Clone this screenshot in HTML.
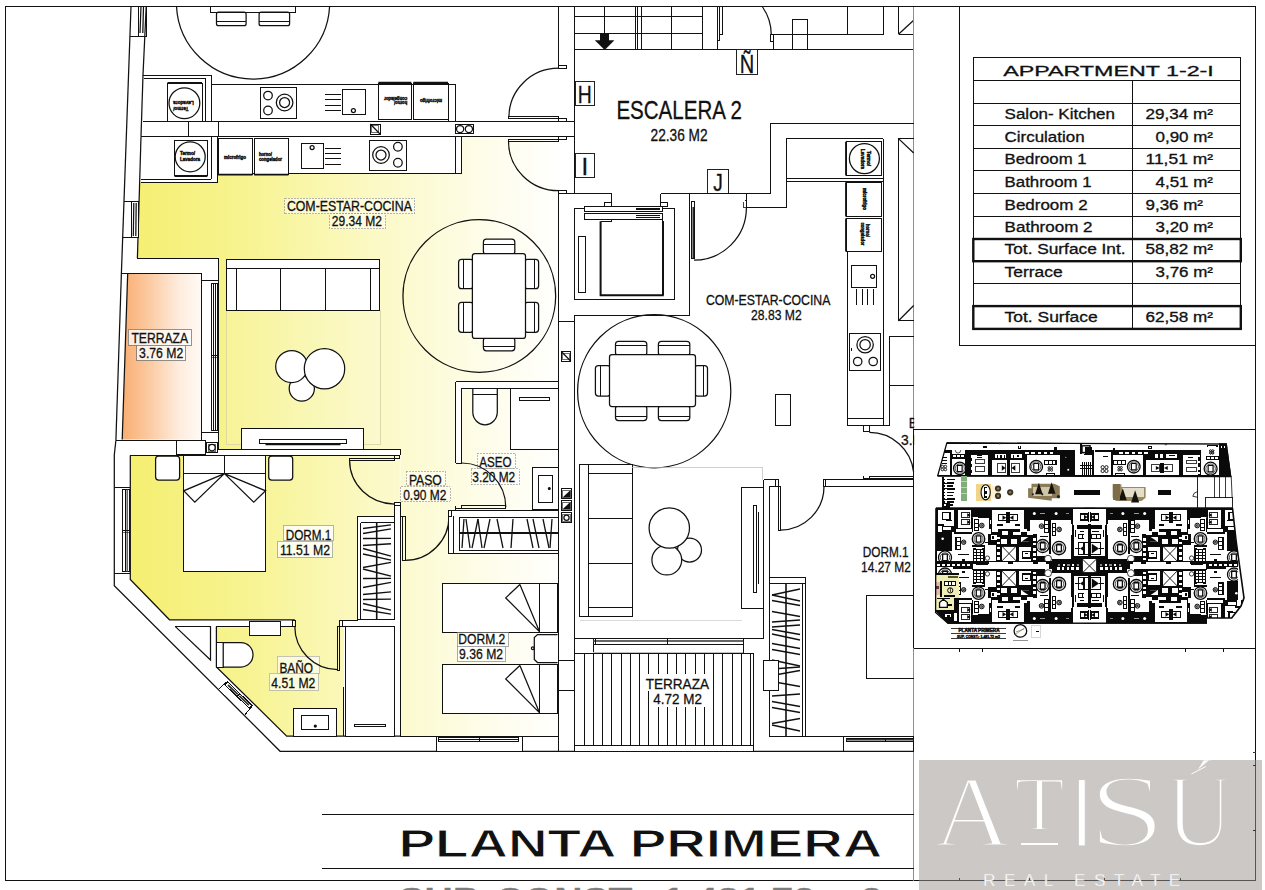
<!DOCTYPE html>
<html lang="es"><head><meta charset="utf-8"><title>Planta Primera - Appartment 1-2-I</title>
<style>
html,body{margin:0;padding:0;background:#fff;}
body{width:1265px;height:890px;overflow:hidden;font-family:"Liberation Sans",sans-serif;}
svg{display:block;}
text{white-space:pre;}
</style></head><body>
<svg width="1265" height="890" viewBox="0 0 1265 890">
<rect width="1265" height="890" fill="#fff"/>
<defs>
<linearGradient id="gy" gradientUnits="userSpaceOnUse" x1="132" y1="0" x2="565" y2="0">
<stop offset="0" stop-color="#f5ef72"/><stop offset="0.25" stop-color="#f7f38f"/><stop offset="0.55" stop-color="#fbf9c4"/><stop offset="0.85" stop-color="#fefdee"/><stop offset="1" stop-color="#ffffff"/>
</linearGradient>
<linearGradient id="go" gradientUnits="userSpaceOnUse" x1="122" y1="0" x2="202" y2="0">
<stop offset="0" stop-color="#f9ad70"/><stop offset="0.35" stop-color="#fbcba3"/><stop offset="0.7" stop-color="#feebdc"/><stop offset="1" stop-color="#fffaf6"/>
</linearGradient>
</defs>
<path d="M140 182 L217 182 L217 173.3 L461.9 173.3 L461.9 136.6 L558.5 136.6 L558.5 381.9 L455.6 381.9 L455.6 510.3 L448 510.3 L448 516.1 L400.4 516.1 L400.4 449.1 L218 449.1 L218 258 L137.4 258 Z" fill="url(#gy)" stroke="none" stroke-width="0" />
<path d="M130.3 455.4 L394.9 455.4 L394.9 516.1 L357.7 516.1 L357.7 619.8 L339 619.8 L339 626.6 L294.8 626.6 L294.8 619.8 L169.5 619.8 L130.3 579.4 Z" fill="url(#gy)" stroke="none" stroke-width="0" />
<path d="M216.4 626.6 L344 626.6 L344 736.1 L286.7 736.1 L216.4 667 Z" fill="url(#gy)" stroke="none" stroke-width="0" />
<path d="M400.4 516.1 L448 516.1 L448 553.3 L558.5 553.3 L558.5 736.3 L400.4 736.3 Z" fill="url(#gy)" stroke="none" stroke-width="0" />
<rect x="394.9" y="455.4" width="5.5" height="47.3" fill="url(#gy)" stroke="none" stroke-width="0"  shape-rendering="crispEdges"/>
<rect x="294" y="618.8" width="45.8" height="9.2" fill="url(#gy)" stroke="none" stroke-width="0"  shape-rendering="crispEdges"/>
<path d="M461.9 388.2 L510.5 388.2 L510.5 449.1 L558.5 449.1 L558.5 510.3 L455.6 510.3 L455.6 463 L461.9 463 Z" fill="url(#gy)" stroke="none" stroke-width="0" />
<path d="M127.7 273.1 L201.6 273.1 L201.6 439.6 L122.2 439.6 Z" fill="url(#go)" stroke="none" stroke-width="0" />
<path d="M5.5 880.7 L5.5 6.5 L1255.6 6.5 L1255.6 880.7 L5.5 880.7" fill="none" stroke="#111" stroke-width="1"  shape-rendering="crispEdges"/>
<line x1="131" y1="6.5" x2="121.4" y2="273.1" stroke="#111" stroke-width="1.25" />
<line x1="146.2" y1="6.5" x2="143" y2="75" stroke="#111" stroke-width="1.25" />
<line x1="143" y1="75" x2="141" y2="136.6" stroke="#111" stroke-width="1.25" />
<line x1="141" y1="136.6" x2="137.4" y2="258" stroke="#111" stroke-width="1.25" />
<rect x="138.6" y="6.5" width="7.6" height="30.2" fill="none" stroke="#111" stroke-width="1"  shape-rendering="crispEdges"/>
<line x1="141" y1="6.5" x2="140" y2="33" stroke="#111" stroke-width="1.25" />
<line x1="143.5" y1="6.5" x2="142.8" y2="33" stroke="#111" stroke-width="1.25" />
<line x1="130" y1="36.7" x2="146" y2="36.7" stroke="#111" stroke-width="1"  shape-rendering="crispEdges"/>
<path d="M176.5 6.5 A76.66 76.66 0 0 0 329.6 6.5" fill="none" stroke="#111" stroke-width="1.25" />
<rect x="210.4" y="6.5" width="85.3" height="5.7" fill="none" stroke="#111" stroke-width="1"  shape-rendering="crispEdges"/>
<rect x="216.5" y="12.2" width="29.6" height="13.5" fill="none" stroke="#111" stroke-width="1.25" rx="2" />
<rect x="259.1" y="12.2" width="30.5" height="13.5" fill="none" stroke="#111" stroke-width="1.25" rx="2" />
<line x1="216.5" y1="21.7" x2="246.1" y2="21.7" stroke="#111" stroke-width="1"  shape-rendering="crispEdges"/>
<line x1="259.1" y1="21.7" x2="289.6" y2="21.7" stroke="#111" stroke-width="1"  shape-rendering="crispEdges"/>
<path d="M143 75 L211.3 75 L211.3 84.7 L455.6 84.7 L455.6 121" fill="none" stroke="#111" stroke-width="1"  shape-rendering="crispEdges"/>
<line x1="143" y1="121" x2="574.5" y2="121" stroke="#111" stroke-width="1"  shape-rendering="crispEdges"/>
<line x1="144" y1="78.5" x2="205.5" y2="78.5" stroke="#111" stroke-width="1"  shape-rendering="crispEdges"/>
<line x1="205.5" y1="78.5" x2="205.5" y2="121" stroke="#111" stroke-width="1"  shape-rendering="crispEdges"/>
<line x1="211.3" y1="84.7" x2="211.3" y2="121" stroke="#111" stroke-width="1"  shape-rendering="crispEdges"/>
<line x1="448.7" y1="84.7" x2="448.7" y2="121" stroke="#111" stroke-width="1"  shape-rendering="crispEdges"/>
<rect x="167.5" y="83.5" width="34.5" height="37.5" fill="none" stroke="#111" stroke-width="1"  shape-rendering="crispEdges"/>
<line x1="167.5" y1="83" x2="202" y2="83" stroke="#111" stroke-width="2" />
<circle cx="184.4" cy="103.2" r="15.4" fill="none" stroke="#111" stroke-width="1.25"/>
<g transform="translate(183.5 102.8) rotate(180)">
<text x="-10.3" y="2" font-size="5.4" font-family="&quot;Liberation Sans&quot;, sans-serif" font-weight="bold" text-anchor="start" fill="#111" textLength="20.6" lengthAdjust="spacingAndGlyphs"  stroke="#111" stroke-width="0.45">Lavadora</text>
</g>
<g transform="translate(180.85 109.05) rotate(180)">
<text x="-7.65" y="2" font-size="5.4" font-family="&quot;Liberation Sans&quot;, sans-serif" font-weight="bold" text-anchor="start" fill="#111" textLength="15.3" lengthAdjust="spacingAndGlyphs"  stroke="#111" stroke-width="0.45">Termo/</text>
</g>
<rect x="260" y="87.3" width="36.5" height="30.7" fill="none" stroke="#111" stroke-width="1"  shape-rendering="crispEdges"/>
<circle cx="268" cy="95.6" r="4.3" fill="none" stroke="#111" stroke-width="1.25"/>
<circle cx="268" cy="110.5" r="4.3" fill="none" stroke="#111" stroke-width="1.25"/>
<circle cx="284.6" cy="102.5" r="8.3" fill="none" stroke="#111" stroke-width="1.25"/>
<circle cx="284.6" cy="102.5" r="5" fill="none" stroke="#111" stroke-width="1.25"/>
<rect x="342.5" y="89" width="23.3" height="25.3" fill="none" stroke="#111" stroke-width="1"  shape-rendering="crispEdges"/>
<circle cx="353.4" cy="110.5" r="2" fill="none" stroke="#111" stroke-width="1.25"/>
<line x1="325.3" y1="94.4" x2="340.5" y2="94.4" stroke="#111" stroke-width="1"  shape-rendering="crispEdges"/>
<line x1="325.3" y1="99.9" x2="340.5" y2="99.9" stroke="#111" stroke-width="1"  shape-rendering="crispEdges"/>
<line x1="325.3" y1="105" x2="340.5" y2="105" stroke="#111" stroke-width="1"  shape-rendering="crispEdges"/>
<line x1="325.3" y1="110.5" x2="340.5" y2="110.5" stroke="#111" stroke-width="1"  shape-rendering="crispEdges"/>
<rect x="378.4" y="83.5" width="32.9" height="35.5" fill="none" stroke="#111" stroke-width="1"  shape-rendering="crispEdges"/>
<line x1="378.4" y1="82.5" x2="411.3" y2="82.5" stroke="#111" stroke-width="1.6" />
<rect x="413.3" y="83.5" width="34.7" height="35.5" fill="none" stroke="#111" stroke-width="1"  shape-rendering="crispEdges"/>
<line x1="413.3" y1="82.5" x2="448" y2="82.5" stroke="#111" stroke-width="1.6" />
<g transform="translate(394.85 101.25) rotate(180)">
<text x="-12.3" y="-0.2" font-size="4.8" font-family="&quot;Liberation Sans&quot;, sans-serif" font-weight="bold" text-anchor="start" fill="#111" textLength="13" lengthAdjust="spacingAndGlyphs"  stroke="#111" stroke-width="0.45">horno/</text>
<text x="-12.3" y="4.3" font-size="4.8" font-family="&quot;Liberation Sans&quot;, sans-serif" font-weight="bold" text-anchor="start" fill="#111" textLength="23" lengthAdjust="spacingAndGlyphs"  stroke="#111" stroke-width="0.45">congelador</text>
</g>
<g transform="translate(430.65 101.25) rotate(180)">
<text x="-11.25" y="2.3" font-size="4.8" font-family="&quot;Liberation Sans&quot;, sans-serif" font-weight="bold" text-anchor="start" fill="#111" textLength="22" lengthAdjust="spacingAndGlyphs"  stroke="#111" stroke-width="0.45">microfrigo</text>
</g>
<line x1="141" y1="136.6" x2="574.5" y2="136.6" stroke="#111" stroke-width="1"  shape-rendering="crispEdges"/>
<line x1="188.5" y1="121" x2="188.5" y2="136.6" stroke="#111" stroke-width="1"  shape-rendering="crispEdges"/>
<line x1="218" y1="121" x2="218" y2="136.6" stroke="#111" stroke-width="1"  shape-rendering="crispEdges"/>
<rect x="370.3" y="124" width="9.7" height="10" fill="none" stroke="#111" stroke-width="1"  shape-rendering="crispEdges"/>
<line x1="370.3" y1="124" x2="380" y2="134" stroke="#111" stroke-width="1.25" />
<rect x="371.8" y="125.5" width="6.7" height="7" fill="none" stroke="#111" stroke-width="0.6"  shape-rendering="crispEdges"/>
<rect x="455.6" y="124.5" width="17.9" height="9.1" fill="none" stroke="#111" stroke-width="1"  shape-rendering="crispEdges"/>
<circle cx="460.1" cy="129.1" r="3.6" fill="none" stroke="#111" stroke-width="1.25"/>
<circle cx="468.9" cy="129.1" r="3.6" fill="none" stroke="#111" stroke-width="1.25"/>
<path d="M141 182 L217 182 L217 136.6" fill="none" stroke="#111" stroke-width="1"  shape-rendering="crispEdges"/>
<line x1="141" y1="179" x2="211.3" y2="179" stroke="#111" stroke-width="1"  shape-rendering="crispEdges"/>
<line x1="211.3" y1="136.6" x2="211.3" y2="179" stroke="#111" stroke-width="1"  shape-rendering="crispEdges"/>
<line x1="217" y1="173.3" x2="461.9" y2="173.3" stroke="#111" stroke-width="1"  shape-rendering="crispEdges"/>
<line x1="455.6" y1="136.6" x2="455.6" y2="173.3" stroke="#111" stroke-width="1"  shape-rendering="crispEdges"/>
<line x1="461.9" y1="136.6" x2="461.9" y2="173.3" stroke="#111" stroke-width="1"  shape-rendering="crispEdges"/>
<rect x="174.5" y="140.4" width="32.9" height="35.4" fill="#fff" stroke="#111" stroke-width="1"  shape-rendering="crispEdges"/>
<line x1="174.5" y1="176.3" x2="207.4" y2="176.3" stroke="#111" stroke-width="1.6" />
<circle cx="190.2" cy="156.8" r="15" fill="none" stroke="#111" stroke-width="1.25"/>
<text x="180" y="155" font-size="5" font-family="&quot;Liberation Sans&quot;, sans-serif" font-weight="bold" text-anchor="start" fill="#111" textLength="15" lengthAdjust="spacingAndGlyphs"  stroke="#111" stroke-width="0.45">Termo/</text>
<text x="180" y="160.5" font-size="5" font-family="&quot;Liberation Sans&quot;, sans-serif" font-weight="bold" text-anchor="start" fill="#111" textLength="20" lengthAdjust="spacingAndGlyphs"  stroke="#111" stroke-width="0.45">Lavadora</text>
<rect x="218" y="138.4" width="34.5" height="35.6" fill="#fff" stroke="#111" stroke-width="1"  shape-rendering="crispEdges"/>
<line x1="218" y1="174.6" x2="252.5" y2="174.6" stroke="#111" stroke-width="1.8" />
<rect x="254.2" y="138.4" width="34.2" height="35.6" fill="#fff" stroke="#111" stroke-width="1"  shape-rendering="crispEdges"/>
<line x1="254.2" y1="174.6" x2="288.4" y2="174.6" stroke="#111" stroke-width="1.8" />
<text x="224" y="158.5" font-size="4.8" font-family="&quot;Liberation Sans&quot;, sans-serif" font-weight="bold" text-anchor="start" fill="#111" textLength="22" lengthAdjust="spacingAndGlyphs"  stroke="#111" stroke-width="0.45">microfrigo</text>
<text x="259" y="156" font-size="4.8" font-family="&quot;Liberation Sans&quot;, sans-serif" font-weight="bold" text-anchor="start" fill="#111" textLength="13" lengthAdjust="spacingAndGlyphs"  stroke="#111" stroke-width="0.45">horno/</text>
<text x="259" y="160.5" font-size="4.8" font-family="&quot;Liberation Sans&quot;, sans-serif" font-weight="bold" text-anchor="start" fill="#111" textLength="23" lengthAdjust="spacingAndGlyphs"  stroke="#111" stroke-width="0.45">congelador</text>
<rect x="301.3" y="143.4" width="22.2" height="25.3" fill="none" stroke="#111" stroke-width="1"  shape-rendering="crispEdges"/>
<circle cx="312.1" cy="147.5" r="2" fill="none" stroke="#111" stroke-width="1.25"/>
<line x1="325.3" y1="148" x2="340.5" y2="148" stroke="#111" stroke-width="1"  shape-rendering="crispEdges"/>
<line x1="325.3" y1="153.6" x2="340.5" y2="153.6" stroke="#111" stroke-width="1"  shape-rendering="crispEdges"/>
<line x1="325.3" y1="158.9" x2="340.5" y2="158.9" stroke="#111" stroke-width="1"  shape-rendering="crispEdges"/>
<line x1="325.3" y1="164.4" x2="340.5" y2="164.4" stroke="#111" stroke-width="1"  shape-rendering="crispEdges"/>
<rect x="369.6" y="140.4" width="36.9" height="29.9" fill="none" stroke="#111" stroke-width="1"  shape-rendering="crispEdges"/>
<circle cx="381" cy="155" r="8.3" fill="none" stroke="#111" stroke-width="1.25"/>
<circle cx="381" cy="155" r="5" fill="none" stroke="#111" stroke-width="1.25"/>
<circle cx="397.9" cy="146.7" r="4.3" fill="none" stroke="#111" stroke-width="1.25"/>
<circle cx="397.9" cy="162.7" r="4.3" fill="none" stroke="#111" stroke-width="1.25"/>
<line x1="558.5" y1="6.5" x2="558.5" y2="68.2" stroke="#111" stroke-width="1"  shape-rendering="crispEdges"/>
<line x1="574.5" y1="6.5" x2="574.5" y2="193.5" stroke="#111" stroke-width="1"  shape-rendering="crispEdges"/>
<rect x="558.5" y="65.5" width="8.2" height="2.7" fill="none" stroke="#111" stroke-width="1"  shape-rendering="crispEdges"/>
<path d="M558.5 68.2 A49.6 49.2 0 0 0 508.9 117" fill="none" stroke="#111" stroke-width="1.25" />
<rect x="508.5" y="116.5" width="50" height="2.2" fill="none" stroke="#111" stroke-width="1"  shape-rendering="crispEdges"/>
<rect x="558.5" y="118.7" width="8.2" height="2.3" fill="none" stroke="#111" stroke-width="1"  shape-rendering="crispEdges"/>
<path d="M508.5 141.3 A50 49.4 0 0 0 558.5 190.7" fill="none" stroke="#111" stroke-width="1.25" />
<rect x="508.5" y="139" width="50" height="2.3" fill="none" stroke="#111" stroke-width="1"  shape-rendering="crispEdges"/>
<rect x="558.5" y="136.6" width="8.2" height="2.4" fill="none" stroke="#111" stroke-width="1"  shape-rendering="crispEdges"/>
<rect x="558.5" y="190.7" width="8.2" height="2.8" fill="none" stroke="#111" stroke-width="1"  shape-rendering="crispEdges"/>
<line x1="558.5" y1="190.7" x2="558.5" y2="193.5" stroke="#111" stroke-width="1"  shape-rendering="crispEdges"/>
<line x1="558.5" y1="193.5" x2="611" y2="193.5" stroke="#111" stroke-width="1"  shape-rendering="crispEdges"/>
<line x1="558.5" y1="193.5" x2="558.5" y2="381.9" stroke="#111" stroke-width="1"  shape-rendering="crispEdges"/>
<line x1="604.3" y1="6.5" x2="604.3" y2="49.3" stroke="#111" stroke-width="1"  shape-rendering="crispEdges"/>
<line x1="635.7" y1="6.5" x2="635.7" y2="49.3" stroke="#111" stroke-width="1"  shape-rendering="crispEdges"/>
<line x1="637.7" y1="6.5" x2="637.7" y2="49.3" stroke="#111" stroke-width="1"  shape-rendering="crispEdges"/>
<line x1="641.2" y1="6.5" x2="641.2" y2="49.3" stroke="#111" stroke-width="1"  shape-rendering="crispEdges"/>
<line x1="671.3" y1="6.5" x2="671.3" y2="49.3" stroke="#111" stroke-width="1"  shape-rendering="crispEdges"/>
<line x1="702.6" y1="6.5" x2="702.6" y2="49.3" stroke="#111" stroke-width="1"  shape-rendering="crispEdges"/>
<line x1="574.5" y1="16.5" x2="702.6" y2="16.5" stroke="#111" stroke-width="1"  shape-rendering="crispEdges"/>
<line x1="574.5" y1="33" x2="702.6" y2="33" stroke="#111" stroke-width="1"  shape-rendering="crispEdges"/>
<line x1="574.5" y1="49.3" x2="913.7" y2="49.3" stroke="#111" stroke-width="1"  shape-rendering="crispEdges"/>
<path d="M594.8 40.3 L614.4 40.3 L604.7 50.1 Z" fill="#111" stroke="none" stroke-width="0" />
<rect x="600.3" y="33.9" width="8.7" height="7.1" fill="#111" stroke="none" stroke-width="0"  shape-rendering="crispEdges"/>
<line x1="717.4" y1="6.5" x2="717.4" y2="49.3" stroke="#111" stroke-width="1"  shape-rendering="crispEdges"/>
<line x1="719.7" y1="6.5" x2="719.7" y2="40.9" stroke="#111" stroke-width="1"  shape-rendering="crispEdges"/>
<line x1="722.6" y1="6.5" x2="722.6" y2="34.8" stroke="#111" stroke-width="1"  shape-rendering="crispEdges"/>
<path d="M722.6 34.8 L719.7 34.8" fill="none" stroke="#111" stroke-width="1"  shape-rendering="crispEdges"/>
<path d="M719.7 40.9 L717.4 40.9" fill="none" stroke="#111" stroke-width="1"  shape-rendering="crispEdges"/>
<path d="M762.2 6.5 A48.7 48.7 0 0 1 771.3 34.8" fill="none" stroke="#111" stroke-width="1.25" />
<path d="M770.4 34.8 L770.4 41.2 L773 41.2 L773 34.8" fill="none" stroke="#111" stroke-width="1"  shape-rendering="crispEdges"/>
<line x1="770.4" y1="34.8" x2="883.5" y2="34.8" stroke="#111" stroke-width="1"  shape-rendering="crispEdges"/>
<line x1="773" y1="41.2" x2="773" y2="49.3" stroke="#111" stroke-width="1"  shape-rendering="crispEdges"/>
<rect x="792.8" y="19.5" width="14.6" height="29.8" fill="none" stroke="#111" stroke-width="1"  shape-rendering="crispEdges"/>
<rect x="847.4" y="6.5" width="36.4" height="28" fill="none" stroke="#111" stroke-width="1"  shape-rendering="crispEdges"/>
<line x1="898.5" y1="6.5" x2="898.5" y2="34.2" stroke="#111" stroke-width="1"  shape-rendering="crispEdges"/>
<line x1="898.5" y1="34.2" x2="913.7" y2="34.2" stroke="#111" stroke-width="1"  shape-rendering="crispEdges"/>
<line x1="898.5" y1="34.2" x2="913.7" y2="20.2" stroke="#111" stroke-width="1.25" />
<line x1="913.6" y1="6.5" x2="913.6" y2="880.7" stroke="#a878b8" stroke-width="1"  shape-rendering="crispEdges"/>
<rect x="575" y="81.7" width="19.7" height="23.3" fill="none" stroke="#222" stroke-width="1"  shape-rendering="crispEdges"/>
<text x="584.8" y="102.5" font-size="24" font-family="&quot;Liberation Sans&quot;, sans-serif" font-weight="normal" text-anchor="middle" fill="#111" textLength="14" lengthAdjust="spacingAndGlyphs"  stroke="#111" stroke-width="0.3">H</text>
<rect x="575" y="153" width="19.7" height="24" fill="none" stroke="#222" stroke-width="1"  shape-rendering="crispEdges"/>
<text x="584.8" y="174.5" font-size="24" font-family="&quot;Liberation Sans&quot;, sans-serif" font-weight="normal" text-anchor="middle" fill="#111"  stroke="#111" stroke-width="0.3">I</text>
<rect x="736.5" y="49.8" width="20.9" height="24.6" fill="none" stroke="#222" stroke-width="1"  shape-rendering="crispEdges"/>
<text x="747" y="72.8" font-size="25" font-family="&quot;Liberation Sans&quot;, sans-serif" font-weight="normal" text-anchor="middle" fill="#111" textLength="14.5" lengthAdjust="spacingAndGlyphs"  stroke="#111" stroke-width="0.3">Ñ</text>
<rect x="707.5" y="169.5" width="21" height="24" fill="none" stroke="#222" stroke-width="1"  shape-rendering="crispEdges"/>
<text x="718" y="190.5" font-size="24" font-family="&quot;Liberation Sans&quot;, sans-serif" font-weight="normal" text-anchor="middle" fill="#111" textLength="9.5" lengthAdjust="spacingAndGlyphs"  stroke="#111" stroke-width="0.3">J</text>
<text x="616.4" y="119.4" font-size="25.7" font-family="&quot;Liberation Sans&quot;, sans-serif" font-weight="normal" text-anchor="start" fill="#111" textLength="125.5" lengthAdjust="spacingAndGlyphs"  stroke="#111" stroke-width="0.3">ESCALERA 2</text>
<text x="650.6" y="141" font-size="16" font-family="&quot;Liberation Sans&quot;, sans-serif" font-weight="normal" text-anchor="start" fill="#111" textLength="57" lengthAdjust="spacingAndGlyphs"  stroke="#111" stroke-width="0.3">22.36 M2</text>
<path d="M913.7 123.4 L770.8 123.4 L770.8 193.5 L660.7 193.5" fill="none" stroke="#111" stroke-width="1"  shape-rendering="crispEdges"/>
<path d="M883.3 138.6 L786.7 138.6 L786.7 207.8 L746.4 207.8" fill="none" stroke="#111" stroke-width="1"  shape-rendering="crispEdges"/>
<path d="M574.5 193.5 L611.6 193.5 L611.6 206" fill="none" stroke="#111" stroke-width="1"  shape-rendering="crispEdges"/>
<path d="M660.7 193.5 L660.7 203" fill="none" stroke="#111" stroke-width="1"  shape-rendering="crispEdges"/>
<rect x="660.7" y="202.8" width="6.6" height="3.9" fill="none" stroke="#111" stroke-width="1"  shape-rendering="crispEdges"/>
<rect x="604.4" y="202.5" width="6.7" height="3.5" fill="none" stroke="#111" stroke-width="1"  shape-rendering="crispEdges"/>
<line x1="689.8" y1="193.5" x2="689.8" y2="315.3" stroke="#111" stroke-width="1"  shape-rendering="crispEdges"/>
<line x1="574.5" y1="315.3" x2="689.8" y2="315.3" stroke="#111" stroke-width="1"  shape-rendering="crispEdges"/>
<line x1="574.5" y1="315.3" x2="574.5" y2="751.5" stroke="#111" stroke-width="1"  shape-rendering="crispEdges"/>
<rect x="574.5" y="208.3" width="100" height="91.3" fill="none" stroke="#111" stroke-width="1"  shape-rendering="crispEdges"/>
<rect x="584.4" y="206.4" width="77.9" height="5.1" fill="#fff" stroke="#111" stroke-width="1"  shape-rendering="crispEdges"/>
<rect x="584.4" y="213.3" width="77.9" height="6" fill="#fff" stroke="#111" stroke-width="1"  shape-rendering="crispEdges"/>
<line x1="636" y1="208.2" x2="660" y2="208.2" stroke="#111" stroke-width="1"  shape-rendering="crispEdges"/>
<line x1="636" y1="209.8" x2="660" y2="209.8" stroke="#111" stroke-width="1"  shape-rendering="crispEdges"/>
<line x1="636" y1="215" x2="660" y2="215" stroke="#111" stroke-width="1"  shape-rendering="crispEdges"/>
<line x1="636" y1="217.2" x2="660" y2="217.2" stroke="#111" stroke-width="1"  shape-rendering="crispEdges"/>
<path d="M600.6 221.2 L600.6 295.3 L663.8 295.3" fill="none" stroke="#111" stroke-width="2" />
<path d="M600.6 221.2 L611 221.2 L611 219.3" fill="none" stroke="#111" stroke-width="1"  shape-rendering="crispEdges"/>
<path d="M662.2 219.3 L662.2 221.2 L663.8 221.2 L663.8 295.3" fill="none" stroke="#111" stroke-width="1"  shape-rendering="crispEdges"/>
<line x1="662" y1="221.2" x2="662" y2="295.3" stroke="#111" stroke-width="1"  shape-rendering="crispEdges"/>
<rect x="578.6" y="236.3" width="7" height="56.2" fill="none" stroke="#111" stroke-width="1"  shape-rendering="crispEdges"/>
<path d="M689.8 193.5 L689.8 201.5" fill="none" stroke="#111" stroke-width="1"  shape-rendering="crispEdges"/>
<rect x="691" y="201.5" width="3" height="56.9" fill="none" stroke="#111" stroke-width="1"  shape-rendering="crispEdges"/>
<line x1="693.2" y1="207" x2="693.2" y2="258.4" stroke="#111" stroke-width="1.4" />
<path d="M694 260.2 A52.4 52.4 0 0 0 746.4 207.8" fill="none" stroke="#111" stroke-width="1.25" />
<path d="M746.4 193.5 L746.4 207.8" fill="none" stroke="#111" stroke-width="1"  shape-rendering="crispEdges"/>
<path d="M744.5 200.5 L746.4 200.5" fill="none" stroke="#111" stroke-width="1"  shape-rendering="crispEdges"/>
<path d="M743.6 201.5 L743.6 207.8 L746.4 207.8" fill="none" stroke="#111" stroke-width="0.8"  shape-rendering="crispEdges"/>
<rect x="561.3" y="351.5" width="9.5" height="9.8" fill="none" stroke="#111" stroke-width="1"  shape-rendering="crispEdges"/>
<line x1="561.3" y1="351.5" x2="570.8" y2="361.3" stroke="#111" stroke-width="1.25" />
<rect x="562.8" y="353" width="6.5" height="6.8" fill="none" stroke="#111" stroke-width="0.6"  shape-rendering="crispEdges"/>
<line x1="558.5" y1="321.2" x2="574.5" y2="321.2" stroke="#111" stroke-width="1"  shape-rendering="crispEdges"/>
<line x1="883.3" y1="138.6" x2="883.3" y2="425.8" stroke="#111" stroke-width="1"  shape-rendering="crispEdges"/>
<line x1="786.7" y1="178.6" x2="883.3" y2="178.6" stroke="#111" stroke-width="1"  shape-rendering="crispEdges"/>
<line x1="786.7" y1="181.3" x2="883.3" y2="181.3" stroke="#111" stroke-width="1"  shape-rendering="crispEdges"/>
<rect x="846.7" y="141.8" width="34.8" height="33.8" fill="none" stroke="#111" stroke-width="1"  shape-rendering="crispEdges"/>
<line x1="846" y1="141.8" x2="846" y2="175.6" stroke="#111" stroke-width="1.8" />
<circle cx="864.4" cy="158.6" r="15" fill="none" stroke="#111" stroke-width="1.25"/>
<text x="0" y="0" font-size="5" font-family="&quot;Liberation Sans&quot;, sans-serif" font-weight="bold" text-anchor="start" fill="#111" textLength="15" lengthAdjust="spacingAndGlyphs" transform="translate(866.5 151) rotate(90)" stroke="#111" stroke-width="0.45">Termo/</text>
<text x="0" y="0" font-size="5" font-family="&quot;Liberation Sans&quot;, sans-serif" font-weight="bold" text-anchor="start" fill="#111" textLength="20" lengthAdjust="spacingAndGlyphs" transform="translate(861 149) rotate(90)" stroke="#111" stroke-width="0.45">Lavadora</text>
<rect x="846.7" y="182.3" width="34.8" height="34.1" fill="none" stroke="#111" stroke-width="1"  shape-rendering="crispEdges"/>
<line x1="846" y1="182.3" x2="846" y2="216.4" stroke="#111" stroke-width="1.8" />
<rect x="846.7" y="218.4" width="34.8" height="33.1" fill="none" stroke="#111" stroke-width="1"  shape-rendering="crispEdges"/>
<line x1="846" y1="218.4" x2="846" y2="251.5" stroke="#111" stroke-width="1.8" />
<text x="0" y="0" font-size="4.8" font-family="&quot;Liberation Sans&quot;, sans-serif" font-weight="bold" text-anchor="start" fill="#111" textLength="22" lengthAdjust="spacingAndGlyphs" transform="translate(862.5 188) rotate(90)" stroke="#111" stroke-width="0.45">microfrigo</text>
<text x="0" y="0" font-size="4.8" font-family="&quot;Liberation Sans&quot;, sans-serif" font-weight="bold" text-anchor="start" fill="#111" textLength="13" lengthAdjust="spacingAndGlyphs" transform="translate(865.5 224) rotate(90)" stroke="#111" stroke-width="0.45">horno/</text>
<text x="0" y="0" font-size="4.8" font-family="&quot;Liberation Sans&quot;, sans-serif" font-weight="bold" text-anchor="start" fill="#111" textLength="23" lengthAdjust="spacingAndGlyphs" transform="translate(860.5 222.5) rotate(90)" stroke="#111" stroke-width="0.45">congelador</text>
<line x1="847.6" y1="251.5" x2="847.6" y2="425.8" stroke="#111" stroke-width="1"  shape-rendering="crispEdges"/>
<rect x="851.5" y="265.4" width="24.7" height="22.2" fill="none" stroke="#111" stroke-width="1"  shape-rendering="crispEdges"/>
<circle cx="872.6" cy="276.3" r="2" fill="none" stroke="#111" stroke-width="1.25"/>
<line x1="856.5" y1="289.3" x2="856.5" y2="304.5" stroke="#111" stroke-width="1"  shape-rendering="crispEdges"/>
<line x1="862.3" y1="289.3" x2="862.3" y2="304.5" stroke="#111" stroke-width="1"  shape-rendering="crispEdges"/>
<line x1="867.9" y1="289.3" x2="867.9" y2="304.5" stroke="#111" stroke-width="1"  shape-rendering="crispEdges"/>
<line x1="873.2" y1="289.3" x2="873.2" y2="304.5" stroke="#111" stroke-width="1"  shape-rendering="crispEdges"/>
<rect x="849.6" y="333.6" width="31" height="37.1" fill="none" stroke="#111" stroke-width="1"  shape-rendering="crispEdges"/>
<circle cx="865.1" cy="344.7" r="8.2" fill="none" stroke="#111" stroke-width="1.25"/>
<circle cx="865.1" cy="344.7" r="5.2" fill="none" stroke="#111" stroke-width="1.25"/>
<circle cx="857.7" cy="361.5" r="4.2" fill="none" stroke="#111" stroke-width="1.25"/>
<circle cx="873.2" cy="361.5" r="4.2" fill="none" stroke="#111" stroke-width="1.25"/>
<line x1="851.8" y1="348" x2="851.8" y2="350.5" stroke="#111" stroke-width="1"  shape-rendering="crispEdges"/>
<line x1="847.6" y1="418.9" x2="883.3" y2="418.9" stroke="#111" stroke-width="1"  shape-rendering="crispEdges"/>
<path d="M847.6 425.8 L889.8 425.8" fill="none" stroke="#111" stroke-width="1"  shape-rendering="crispEdges"/>
<path d="M863.3 425.8 L863.3 431.7 L869.3 431.7 L869.3 425.8" fill="none" stroke="#111" stroke-width="1"  shape-rendering="crispEdges"/>
<path d="M913.7 138.6 L898.5 138.6 L898.5 320.7 L913.7 320.7" fill="none" stroke="#111" stroke-width="1"  shape-rendering="crispEdges"/>
<line x1="898.5" y1="138.6" x2="913.7" y2="153" stroke="#111" stroke-width="1.25" />
<line x1="898.5" y1="320.7" x2="913.7" y2="305.5" stroke="#111" stroke-width="1.25" />
<path d="M913.7 336.8 L889.8 336.8 L889.8 425.8" fill="none" stroke="#111" stroke-width="1"  shape-rendering="crispEdges"/>
<line x1="889.8" y1="385.5" x2="913.7" y2="385.5" stroke="#111" stroke-width="1"  shape-rendering="crispEdges"/>
<text x="705.9" y="304.7" font-size="14.9" font-family="&quot;Liberation Sans&quot;, sans-serif" font-weight="normal" text-anchor="start" fill="#111" textLength="124.5" lengthAdjust="spacingAndGlyphs"  stroke="#111" stroke-width="0.3">COM-ESTAR-COCINA</text>
<text x="751" y="319.8" font-size="14.9" font-family="&quot;Liberation Sans&quot;, sans-serif" font-weight="normal" text-anchor="start" fill="#111" textLength="50.7" lengthAdjust="spacingAndGlyphs"  stroke="#111" stroke-width="0.3">28.83 M2</text>
<rect x="775.4" y="394.3" width="15.4" height="31.4" fill="none" stroke="#111" stroke-width="1"  shape-rendering="crispEdges"/>
<path d="M869.3 432.5 A44.5 44.5 0 0 1 913.6 472" fill="none" stroke="#111" stroke-width="1.25" />
<rect x="869.3" y="476.2" width="44.3" height="2.2" fill="none" stroke="#111" stroke-width="1"  shape-rendering="crispEdges"/>
<line x1="863.3" y1="478.4" x2="869.3" y2="478.4" stroke="#111" stroke-width="1"  shape-rendering="crispEdges"/>
<line x1="863.3" y1="476.2" x2="863.3" y2="479.9" stroke="#111" stroke-width="1"  shape-rendering="crispEdges"/>
<clipPath id="cpR"><rect x="0" y="0" width="914.2" height="890"/></clipPath>
<g clip-path="url(#cpR)">
<text x="908.8" y="428.4" font-size="14.9" font-family="&quot;Liberation Sans&quot;, sans-serif" font-weight="normal" text-anchor="start" fill="#111" textLength="38" lengthAdjust="spacingAndGlyphs"  stroke="#111" stroke-width="0.3">BAÑO</text>
<text x="901" y="444.8" font-size="14.9" font-family="&quot;Liberation Sans&quot;, sans-serif" font-weight="normal" text-anchor="start" fill="#111" textLength="50" lengthAdjust="spacingAndGlyphs"  stroke="#111" stroke-width="0.3">3.82 M2</text>
<text x="862.7" y="557" font-size="15.2" font-family="&quot;Liberation Sans&quot;, sans-serif" font-weight="normal" text-anchor="start" fill="#111" textLength="46" lengthAdjust="spacingAndGlyphs"  stroke="#111" stroke-width="0.3">DORM.1</text>
</g>
<text x="861.1" y="571.9" font-size="15.2" font-family="&quot;Liberation Sans&quot;, sans-serif" font-weight="normal" text-anchor="start" fill="#111" textLength="49.8" lengthAdjust="spacingAndGlyphs"  stroke="#111" stroke-width="0.3">14.27 M2</text>
<rect x="131.5" y="201" width="7.1" height="36.7" fill="#fff" stroke="#111" stroke-width="1"  shape-rendering="crispEdges"/>
<line x1="133.8" y1="203" x2="133.3" y2="236" stroke="#111" stroke-width="1.25" />
<line x1="136.2" y1="203" x2="135.8" y2="236" stroke="#111" stroke-width="1.25" />
<line x1="124" y1="201" x2="139" y2="201" stroke="#111" stroke-width="1"  shape-rendering="crispEdges"/>
<line x1="123.3" y1="237.7" x2="138.3" y2="237.7" stroke="#111" stroke-width="1"  shape-rendering="crispEdges"/>
<path d="M137.4 258 L218 258 L218 449.1" fill="none" stroke="#111" stroke-width="1"  shape-rendering="crispEdges"/>
<path d="M121.4 273.1 L201.6 273.1 L201.6 439.6" fill="none" stroke="#111" stroke-width="1"  shape-rendering="crispEdges"/>
<line x1="127.7" y1="273.1" x2="122.2" y2="439.6" stroke="#111" stroke-width="1.25" />
<line x1="121.4" y1="273.1" x2="115.9" y2="440.2" stroke="#111" stroke-width="1.25" />
<line x1="201.6" y1="280.7" x2="218" y2="280.7" stroke="#111" stroke-width="1"  shape-rendering="crispEdges"/>
<rect x="211.2" y="283.2" width="5.8" height="146.8" fill="none" stroke="#111" stroke-width="1"  shape-rendering="crispEdges"/>
<line x1="213.6" y1="283.2" x2="213.6" y2="430" stroke="#111" stroke-width="1"  shape-rendering="crispEdges"/>
<line x1="215" y1="283.2" x2="215" y2="430" stroke="#111" stroke-width="1"  shape-rendering="crispEdges"/>
<line x1="211.2" y1="355.3" x2="217" y2="355.3" stroke="#111" stroke-width="1"  shape-rendering="crispEdges"/>
<line x1="211.2" y1="357.3" x2="217" y2="357.3" stroke="#111" stroke-width="0.6"  shape-rendering="crispEdges"/>
<line x1="201.6" y1="432.5" x2="218" y2="432.5" stroke="#111" stroke-width="1"  shape-rendering="crispEdges"/>
<line x1="115.9" y1="440.2" x2="205.4" y2="440.2" stroke="#111" stroke-width="1"  shape-rendering="crispEdges"/>
<rect x="176.3" y="440.2" width="29.1" height="14.7" fill="#fff" stroke="#111" stroke-width="1"  shape-rendering="crispEdges"/>
<rect x="206.9" y="442.8" width="10.1" height="9.6" fill="none" stroke="#111" stroke-width="1"  shape-rendering="crispEdges"/>
<circle cx="212" cy="447.6" r="3.2" fill="none" stroke="#111" stroke-width="1.25"/>
<rect x="208.3" y="444.2" width="7.3" height="6.8" fill="none" stroke="#111" stroke-width="0.6"  shape-rendering="crispEdges"/>
<line x1="114.5" y1="455.4" x2="176.3" y2="455.4" stroke="#111" stroke-width="0"  shape-rendering="crispEdges"/>
<rect x="226.4" y="310.6" width="154" height="133.9" fill="#fff" stroke="#d4d2a2" stroke-width="0.8" fill-opacity="0.12" shape-rendering="crispEdges"/>
<rect x="226.4" y="259.2" width="153.3" height="51.4" fill="#fff" stroke="#111" stroke-width="1"  shape-rendering="crispEdges"/>
<line x1="226.4" y1="268.1" x2="379.7" y2="268.1" stroke="#111" stroke-width="1"  shape-rendering="crispEdges"/>
<line x1="236.5" y1="268.1" x2="236.5" y2="310.6" stroke="#111" stroke-width="1"  shape-rendering="crispEdges"/>
<line x1="280.8" y1="268.1" x2="280.8" y2="310.6" stroke="#111" stroke-width="1"  shape-rendering="crispEdges"/>
<line x1="325.3" y1="268.1" x2="325.3" y2="310.6" stroke="#111" stroke-width="1"  shape-rendering="crispEdges"/>
<line x1="370.3" y1="268.1" x2="370.3" y2="310.6" stroke="#111" stroke-width="1"  shape-rendering="crispEdges"/>
<circle cx="301.8" cy="388.5" r="12.6" fill="#fff" stroke="#111" stroke-width="1.25"/>
<circle cx="291.7" cy="366.6" r="16" fill="#fff" stroke="#111" stroke-width="1.25"/>
<circle cx="324.5" cy="368.7" r="20.2" fill="#fff" stroke="#111" stroke-width="1.25"/>
<rect x="241.6" y="428.5" width="121.6" height="20.6" fill="#fff" stroke="#111" stroke-width="1"  shape-rendering="crispEdges"/>
<rect x="259.6" y="439.5" width="86.8" height="3.7" fill="#fff" stroke="#111" stroke-width="1"  shape-rendering="crispEdges"/>
<line x1="265.5" y1="444.4" x2="340.5" y2="444.4" stroke="#111" stroke-width="1.5" />
<circle cx="479.3" cy="296" r="76.35" fill="none" stroke="#111" stroke-width="1.25"/>
<rect x="483.4" y="239.2" width="31.4" height="15.4" fill="#fff" stroke="#111" stroke-width="1.25" rx="3" />
<rect x="483.4" y="337.4" width="31.4" height="13.4" fill="#fff" stroke="#111" stroke-width="1.25" rx="3" />
<rect x="458.6" y="259.3" width="14.8" height="29.4" fill="#fff" stroke="#111" stroke-width="1.25" rx="3" />
<rect x="458.6" y="302.3" width="14.8" height="30" fill="#fff" stroke="#111" stroke-width="1.25" rx="3" />
<rect x="524.5" y="259.3" width="14.1" height="29.4" fill="#fff" stroke="#111" stroke-width="1.25" rx="3" />
<rect x="524.5" y="302.3" width="14.1" height="30" fill="#fff" stroke="#111" stroke-width="1.25" rx="3" />
<line x1="483.4" y1="244.4" x2="514.8" y2="244.4" stroke="#111" stroke-width="1"  shape-rendering="crispEdges"/>
<line x1="483.4" y1="346.6" x2="514.8" y2="346.6" stroke="#111" stroke-width="1"  shape-rendering="crispEdges"/>
<line x1="463.4" y1="259.3" x2="463.4" y2="288.7" stroke="#111" stroke-width="1"  shape-rendering="crispEdges"/>
<line x1="534.1" y1="259.3" x2="534.1" y2="288.7" stroke="#111" stroke-width="1"  shape-rendering="crispEdges"/>
<line x1="463.4" y1="302.3" x2="463.4" y2="332.3" stroke="#111" stroke-width="1"  shape-rendering="crispEdges"/>
<line x1="534.1" y1="302.3" x2="534.1" y2="332.3" stroke="#111" stroke-width="1"  shape-rendering="crispEdges"/>
<rect x="472.4" y="253.6" width="53.1" height="84.8" fill="#fff" stroke="#111" stroke-width="1.25" rx="2.5" />
<rect x="284.6" y="198" width="130" height="15.8" fill="#fff" stroke="#999" stroke-width="0.7" fill-opacity="0.45" stroke-dasharray="2 1" shape-rendering="crispEdges"/>
<rect x="329.6" y="213.8" width="55.6" height="14.8" fill="#fff" stroke="#999" stroke-width="0.7" fill-opacity="0.45" stroke-dasharray="2 1" shape-rendering="crispEdges"/>
<text x="286.9" y="210.9" font-size="14.9" font-family="&quot;Liberation Sans&quot;, sans-serif" font-weight="normal" text-anchor="start" fill="#111" textLength="125" lengthAdjust="spacingAndGlyphs"  stroke="#111" stroke-width="0.3">COM-ESTAR-COCINA</text>
<text x="331.8" y="226" font-size="14.9" font-family="&quot;Liberation Sans&quot;, sans-serif" font-weight="normal" text-anchor="start" fill="#111" textLength="50.2" lengthAdjust="spacingAndGlyphs"  stroke="#111" stroke-width="0.3">29.34 M2</text>
<rect x="128.2" y="329.2" width="63.5" height="16" fill="#fff" stroke="#777" stroke-width="0.8" fill-opacity="0.75" shape-rendering="crispEdges"/>
<rect x="136.5" y="345.2" width="49.3" height="15.2" fill="#fff" stroke="#777" stroke-width="0.8" fill-opacity="0.75" shape-rendering="crispEdges"/>
<text x="131.4" y="342.9" font-size="14.9" font-family="&quot;Liberation Sans&quot;, sans-serif" font-weight="normal" text-anchor="start" fill="#111" textLength="56.7" lengthAdjust="spacingAndGlyphs"  stroke="#111" stroke-width="0.3">TERRAZA</text>
<text x="139.1" y="357.8" font-size="14.9" font-family="&quot;Liberation Sans&quot;, sans-serif" font-weight="normal" text-anchor="start" fill="#111" textLength="44.2" lengthAdjust="spacingAndGlyphs"  stroke="#111" stroke-width="0.3">3.76 M2</text>
<line x1="455.6" y1="381.9" x2="558.5" y2="381.9" stroke="#111" stroke-width="1"  shape-rendering="crispEdges"/>
<line x1="461.9" y1="388.2" x2="558.5" y2="388.2" stroke="#111" stroke-width="1"  shape-rendering="crispEdges"/>
<line x1="455.6" y1="381.9" x2="455.6" y2="463" stroke="#111" stroke-width="1"  shape-rendering="crispEdges"/>
<line x1="461.9" y1="388.2" x2="461.9" y2="463" stroke="#111" stroke-width="1"  shape-rendering="crispEdges"/>
<line x1="455.6" y1="463" x2="461.9" y2="463" stroke="#111" stroke-width="1"  shape-rendering="crispEdges"/>
<rect x="510.5" y="388.2" width="48" height="60.9" fill="#fff" stroke="#111" stroke-width="1"  shape-rendering="crispEdges"/>
<rect x="519.6" y="397.1" width="30.3" height="3.3" fill="none" stroke="#111" stroke-width="1"  shape-rendering="crispEdges"/>
<path d="M472.8 389 L472.8 412 A12.25 12.8 0 0 0 497.3 412 L497.3 389" fill="#fff" stroke="#111" stroke-width="1.25" />
<line x1="472.8" y1="394.2" x2="497.3" y2="394.2" stroke="#111" stroke-width="1"  shape-rendering="crispEdges"/>
<rect x="532.2" y="467.6" width="26.3" height="42.2" fill="#fff" stroke="#111" stroke-width="1"  shape-rendering="crispEdges"/>
<rect x="538.6" y="475.1" width="13.9" height="27.1" fill="none" stroke="#111" stroke-width="1"  shape-rendering="crispEdges"/>
<circle cx="549.3" cy="488.5" r="0.9" fill="#111" stroke="#111" stroke-width="1.25"/>
<rect x="461.9" y="505.6" width="43.5" height="2.7" fill="none" stroke="#111" stroke-width="1"  shape-rendering="crispEdges"/>
<line x1="455.6" y1="508.3" x2="461.9" y2="508.3" stroke="#111" stroke-width="1"  shape-rendering="crispEdges"/>
<line x1="455.6" y1="505.6" x2="455.6" y2="510.3" stroke="#111" stroke-width="1"  shape-rendering="crispEdges"/>
<rect x="477.2" y="453.1" width="38" height="14.9" fill="#fff" stroke="#999" stroke-width="0.7" fill-opacity="0.5" stroke-dasharray="2 1" shape-rendering="crispEdges"/>
<rect x="471" y="468.5" width="48.4" height="16" fill="#fff" stroke="#999" stroke-width="0.7" fill-opacity="0.5" stroke-dasharray="2 1" shape-rendering="crispEdges"/>
<text x="479.3" y="466.6" font-size="14.9" font-family="&quot;Liberation Sans&quot;, sans-serif" font-weight="normal" text-anchor="start" fill="#111" textLength="32.3" lengthAdjust="spacingAndGlyphs"  stroke="#111" stroke-width="0.3">ASEO</text>
<text x="472.3" y="481.8" font-size="14.9" font-family="&quot;Liberation Sans&quot;, sans-serif" font-weight="normal" text-anchor="start" fill="#111" textLength="42.9" lengthAdjust="spacingAndGlyphs"  stroke="#111" stroke-width="0.3">3.20 M2</text>
<path d="M461.9 463 A44.3 44.3 0 0 1 505.8 507.3" fill="none" stroke="#111" stroke-width="1.25" />
<rect x="406.3" y="471.1" width="39.1" height="14.4" fill="#fff" stroke="#999" stroke-width="0.7" fill-opacity="0.5" stroke-dasharray="2 1" shape-rendering="crispEdges"/>
<rect x="400.7" y="486.5" width="49.3" height="14.9" fill="#fff" stroke="#999" stroke-width="0.7" fill-opacity="0.5" stroke-dasharray="2 1" shape-rendering="crispEdges"/>
<text x="408.9" y="484.6" font-size="14.9" font-family="&quot;Liberation Sans&quot;, sans-serif" font-weight="normal" text-anchor="start" fill="#111" textLength="32.9" lengthAdjust="spacingAndGlyphs"  stroke="#111" stroke-width="0.3">PASO</text>
<text x="403.2" y="499.5" font-size="14.9" font-family="&quot;Liberation Sans&quot;, sans-serif" font-weight="normal" text-anchor="start" fill="#111" textLength="43.2" lengthAdjust="spacingAndGlyphs"  stroke="#111" stroke-width="0.3">0.90 M2</text>
<rect x="561.3" y="488.8" width="10.5" height="9.8" fill="#fff" stroke="#111" stroke-width="1"  shape-rendering="crispEdges"/>
<rect x="562.8" y="490.2" width="7.5" height="7" fill="none" stroke="#111" stroke-width="0.6"  shape-rendering="crispEdges"/>
<path d="M570.3 490.2 L570.3 497.2 L562.8 497.2 Z" fill="#111" stroke="none" stroke-width="0" />
<rect x="561.3" y="500.6" width="10.5" height="9.8" fill="#fff" stroke="#111" stroke-width="1"  shape-rendering="crispEdges"/>
<rect x="562.8" y="502" width="7.5" height="7" fill="none" stroke="#111" stroke-width="0.6"  shape-rendering="crispEdges"/>
<path d="M570.3 502 L570.3 509 L562.8 509 Z" fill="#111" stroke="none" stroke-width="0" />
<rect x="561.3" y="512.8" width="10.5" height="9.8" fill="#fff" stroke="#111" stroke-width="1"  shape-rendering="crispEdges"/>
<rect x="562.8" y="514.2" width="7.5" height="7" fill="none" stroke="#111" stroke-width="0.6"  shape-rendering="crispEdges"/>
<circle cx="566.5" cy="517.7" r="2.6" fill="none" stroke="#111" stroke-width="1.25"/>
<line x1="217" y1="449.1" x2="400.4" y2="449.1" stroke="#111" stroke-width="1"  shape-rendering="crispEdges"/>
<line x1="130.3" y1="455.4" x2="400.4" y2="455.4" stroke="#111" stroke-width="1"  shape-rendering="crispEdges"/>
<line x1="400.4" y1="449.1" x2="400.4" y2="455.4" stroke="#111" stroke-width="1"  shape-rendering="crispEdges"/>
<path d="M115.9 440.2 L114.3 455 L114.3 585.7 L280.1 751.3 L913.6 751.3" fill="none" stroke="#111" stroke-width="1.25" />
<path d="M130.3 455.4 L130.3 579.4 L169.5 619.8 L294.8 619.8" fill="none" stroke="#111" stroke-width="1.25" />
<rect x="122.7" y="489.6" width="6.8" height="82.2" fill="#fff" stroke="#111" stroke-width="1"  shape-rendering="crispEdges"/>
<line x1="125" y1="489.6" x2="125" y2="571.8" stroke="#111" stroke-width="1"  shape-rendering="crispEdges"/>
<line x1="127.2" y1="489.6" x2="127.2" y2="571.8" stroke="#555" stroke-width="1.4" />
<line x1="114.3" y1="487.8" x2="130.3" y2="487.8" stroke="#111" stroke-width="1"  shape-rendering="crispEdges"/>
<line x1="114.3" y1="573" x2="130.3" y2="573" stroke="#111" stroke-width="1"  shape-rendering="crispEdges"/>
<line x1="122.7" y1="530" x2="129.5" y2="530" stroke="#111" stroke-width="1"  shape-rendering="crispEdges"/>
<line x1="122.7" y1="532" x2="129.5" y2="532" stroke="#111" stroke-width="0.6"  shape-rendering="crispEdges"/>
<rect x="155.6" y="456.2" width="24" height="23.8" fill="#fff" stroke="#111" stroke-width="1.25" rx="3" />
<rect x="268.7" y="456.2" width="24" height="23.8" fill="#fff" stroke="#111" stroke-width="1.25" rx="3" />
<rect x="183.7" y="455.4" width="81.9" height="115.9" fill="#fff" stroke="#111" stroke-width="1"  shape-rendering="crispEdges"/>
<line x1="183.7" y1="473.6" x2="265.6" y2="473.6" stroke="#111" stroke-width="1"  shape-rendering="crispEdges"/>
<line x1="224.4" y1="455.4" x2="224.4" y2="473.6" stroke="#111" stroke-width="1"  shape-rendering="crispEdges"/>
<path d="M224.4 473.6 L183.7 490.8 L194.8 502.2 L224.4 473.6 L253.7 502.2 L265.6 490.8 L224.4 473.6" fill="none" stroke="#111" stroke-width="1.25" />
<rect x="283.7" y="525.7" width="49.6" height="15.2" fill="#fff" stroke="#999" stroke-width="0.7" fill-opacity="0.8" shape-rendering="crispEdges"/>
<rect x="277.7" y="541.2" width="54.5" height="16.1" fill="#fff" stroke="#999" stroke-width="0.7" fill-opacity="0.8" shape-rendering="crispEdges"/>
<text x="285.7" y="539.7" font-size="14.9" font-family="&quot;Liberation Sans&quot;, sans-serif" font-weight="normal" text-anchor="start" fill="#111" textLength="45.6" lengthAdjust="spacingAndGlyphs"  stroke="#111" stroke-width="0.3">DORM.1</text>
<text x="279.9" y="554.9" font-size="14.9" font-family="&quot;Liberation Sans&quot;, sans-serif" font-weight="normal" text-anchor="start" fill="#111" textLength="50.1" lengthAdjust="spacingAndGlyphs"  stroke="#111" stroke-width="0.3">11.51 M2</text>
<path d="M349.6 460.6 A44.8 43.5 0 0 0 394.4 504" fill="none" stroke="#111" stroke-width="1.25" />
<rect x="349.6" y="458.3" width="44.8" height="2.3" fill="none" stroke="#111" stroke-width="1"  shape-rendering="crispEdges"/>
<rect x="394.4" y="455.4" width="5.2" height="2.9" fill="none" stroke="#111" stroke-width="1"  shape-rendering="crispEdges"/>
<rect x="394.4" y="502.8" width="6" height="2.6" fill="none" stroke="#111" stroke-width="1"  shape-rendering="crispEdges"/>
<line x1="394.9" y1="502.7" x2="394.9" y2="619.8" stroke="#111" stroke-width="1"  shape-rendering="crispEdges"/>
<line x1="400.4" y1="502.7" x2="400.4" y2="736.3" stroke="#111" stroke-width="1"  shape-rendering="crispEdges"/>
<rect x="357.7" y="516.1" width="37.2" height="103.7" fill="#fff" stroke="#111" stroke-width="1"  shape-rendering="crispEdges"/>
<line x1="360.7" y1="522.5" x2="394.9" y2="522.5" stroke="#111" stroke-width="1"  shape-rendering="crispEdges"/>
<line x1="360.7" y1="522.5" x2="360.7" y2="619.8" stroke="#111" stroke-width="1"  shape-rendering="crispEdges"/>
<line x1="376.7" y1="522.5" x2="376.7" y2="619.8" stroke="#111" stroke-width="1.6" />
<line x1="363" y1="528.5" x2="391" y2="524.87" stroke="#111" stroke-width="1.3" />
<line x1="363" y1="533.5" x2="391" y2="528.98" stroke="#111" stroke-width="1.3" />
<line x1="363" y1="538.5" x2="391" y2="538.4" stroke="#111" stroke-width="1.3" />
<line x1="363" y1="545.5" x2="391" y2="543.76" stroke="#111" stroke-width="1.3" />
<line x1="363" y1="548.5" x2="391" y2="556.14" stroke="#111" stroke-width="1.3" />
<line x1="363" y1="554" x2="391" y2="560.04" stroke="#111" stroke-width="1.3" />
<line x1="363" y1="567.5" x2="391" y2="562.27" stroke="#111" stroke-width="1.3" />
<line x1="363" y1="569" x2="391" y2="576.16" stroke="#111" stroke-width="1.3" />
<line x1="363" y1="578.5" x2="391" y2="578.41" stroke="#111" stroke-width="1.3" />
<line x1="363" y1="587.5" x2="391" y2="582.43" stroke="#111" stroke-width="1.3" />
<line x1="363" y1="594.5" x2="391" y2="591.97" stroke="#111" stroke-width="1.3" />
<line x1="363" y1="599.5" x2="391" y2="599.06" stroke="#111" stroke-width="1.3" />
<line x1="363" y1="603.5" x2="391" y2="610.19" stroke="#111" stroke-width="1.3" />
<line x1="363" y1="609.5" x2="391" y2="614.14" stroke="#111" stroke-width="1.3" />
<rect x="402.5" y="516.1" width="2.5" height="44.3" fill="none" stroke="#111" stroke-width="1"  shape-rendering="crispEdges"/>
<path d="M405 560.4 A44 44 0 0 0 449 516.4" fill="none" stroke="#111" stroke-width="1.25" />
<path d="M400.4 516.1 L405 516.1" fill="none" stroke="#111" stroke-width="1"  shape-rendering="crispEdges"/>
<rect x="448" y="510.3" width="110.5" height="43" fill="#fff" stroke="#111" stroke-width="1"  shape-rendering="crispEdges"/>
<path d="M448 510.3 L448 516.1 L451.3 516.1 L451.3 510.3" fill="none" stroke="#111" stroke-width="1"  shape-rendering="crispEdges"/>
<line x1="453.5" y1="516.1" x2="453.5" y2="553.3" stroke="#111" stroke-width="1"  shape-rendering="crispEdges"/>
<rect x="459.9" y="517.4" width="98.6" height="32.9" fill="none" stroke="#111" stroke-width="1"  shape-rendering="crispEdges"/>
<line x1="459.9" y1="533.1" x2="558.5" y2="533.1" stroke="#111" stroke-width="2" />
<line x1="464" y1="519" x2="462" y2="548" stroke="#111" stroke-width="1.3" />
<line x1="466" y1="519" x2="470" y2="548" stroke="#111" stroke-width="1.3" />
<line x1="478" y1="519" x2="472" y2="548" stroke="#111" stroke-width="1.3" />
<line x1="478" y1="519" x2="482" y2="548" stroke="#111" stroke-width="1.3" />
<line x1="490" y1="519" x2="484" y2="548" stroke="#111" stroke-width="1.3" />
<line x1="497" y1="519" x2="503" y2="548" stroke="#111" stroke-width="1.3" />
<line x1="513" y1="519" x2="511" y2="548" stroke="#111" stroke-width="1.3" />
<line x1="527" y1="519" x2="533" y2="548" stroke="#111" stroke-width="1.3" />
<line x1="533" y1="519" x2="539" y2="548" stroke="#111" stroke-width="1.3" />
<line x1="543" y1="519" x2="549" y2="548" stroke="#111" stroke-width="1.3" />
<line x1="552" y1="519" x2="550" y2="548" stroke="#111" stroke-width="1.3" />
<line x1="455.6" y1="510.3" x2="558.5" y2="510.3" stroke="#111" stroke-width="1"  shape-rendering="crispEdges"/>
<line x1="558.5" y1="381.9" x2="558.5" y2="751.3" stroke="#111" stroke-width="1"  shape-rendering="crispEdges"/>
<line x1="558.5" y1="660.4" x2="574.5" y2="660.4" stroke="#111" stroke-width="1"  shape-rendering="crispEdges"/>
<line x1="558.5" y1="690.3" x2="574.5" y2="690.3" stroke="#111" stroke-width="1"  shape-rendering="crispEdges"/>
<rect x="442.5" y="583.5" width="115.1" height="48.6" fill="#fff" stroke="#111" stroke-width="1"  shape-rendering="crispEdges"/>
<line x1="539.4" y1="583.5" x2="539.4" y2="632.1" stroke="#111" stroke-width="1"  shape-rendering="crispEdges"/>
<path d="M519.9 584.5 L505.7 597.9 L539.4 631.6 L519.9 584.5" fill="none" stroke="#111" stroke-width="1.25" />
<rect x="442.5" y="664.5" width="115.1" height="48.6" fill="#fff" stroke="#111" stroke-width="1"  shape-rendering="crispEdges"/>
<line x1="539.4" y1="664.5" x2="539.4" y2="713.1" stroke="#111" stroke-width="1"  shape-rendering="crispEdges"/>
<path d="M519.9 665.5 L505.7 678.9 L539.4 712.6 L519.9 665.5" fill="none" stroke="#111" stroke-width="1.25" />
<path d="M557.6 634.6 L537.5 634.6 L534.3 637.5 L534.3 659.5 L537.5 662.5 L557.6 662.5" fill="#fff" stroke="#111" stroke-width="1.25" />
<circle cx="532.8" cy="648.3" r="1.4" fill="none" stroke="#111" stroke-width="1.25"/>
<rect x="457.5" y="632.5" width="50.9" height="13.8" fill="#fff" stroke="#888" stroke-width="0.7" fill-opacity="0.8" shape-rendering="crispEdges"/>
<rect x="457.5" y="646.3" width="48.4" height="14.9" fill="#fff" stroke="#888" stroke-width="0.7" fill-opacity="0.8" shape-rendering="crispEdges"/>
<text x="458.3" y="643.6" font-size="14.9" font-family="&quot;Liberation Sans&quot;, sans-serif" font-weight="normal" text-anchor="start" fill="#111" textLength="47" lengthAdjust="spacingAndGlyphs"  stroke="#111" stroke-width="0.3">DORM.2</text>
<text x="459.1" y="658.9" font-size="14.9" font-family="&quot;Liberation Sans&quot;, sans-serif" font-weight="normal" text-anchor="start" fill="#111" textLength="44" lengthAdjust="spacingAndGlyphs"  stroke="#111" stroke-width="0.3">9.36 M2</text>
<line x1="400.4" y1="736.3" x2="558.5" y2="736.3" stroke="#111" stroke-width="1"  shape-rendering="crispEdges"/>
<rect x="436.2" y="736.3" width="86.2" height="15" fill="#fff" stroke="#111" stroke-width="1"  shape-rendering="crispEdges"/>
<rect x="438.7" y="737.8" width="80.1" height="3.8" fill="none" stroke="#111" stroke-width="1"  shape-rendering="crispEdges"/>
<line x1="479.2" y1="737.8" x2="479.2" y2="741.6" stroke="#111" stroke-width="1"  shape-rendering="crispEdges"/>
<line x1="438.7" y1="739.6" x2="518.8" y2="739.6" stroke="#111" stroke-width="1"  shape-rendering="crispEdges"/>
<line x1="175.4" y1="626.6" x2="210.5" y2="626.6" stroke="#111" stroke-width="1"  shape-rendering="crispEdges"/>
<path d="M175.4 626.6 L210.5 660 L210.5 626.6" fill="none" stroke="#111" stroke-width="1.25" />
<path d="M216.4 626.6 L216.4 667 L286.7 736.1 L400.4 736.1" fill="none" stroke="#111" stroke-width="1.25" />
<line x1="216.4" y1="626.6" x2="292.3" y2="626.6" stroke="#111" stroke-width="1"  shape-rendering="crispEdges"/>
<rect x="292.3" y="620.2" width="3" height="6.4" fill="none" stroke="#111" stroke-width="1"  shape-rendering="crispEdges"/>
<rect x="249.3" y="621" width="31.1" height="14.4" fill="#fff" stroke="#111" stroke-width="1"  shape-rendering="crispEdges"/>
<rect x="216.9" y="642.5" width="6.3" height="24.5" fill="#fff" stroke="#111" stroke-width="1"  shape-rendering="crispEdges"/>
<path d="M223.2 642.5 L241 642.5 A12 12.25 0 0 1 241 667 L223.2 667 Z" fill="#fff" stroke="#111" stroke-width="1.25" />
<rect x="337.8" y="626.6" width="2" height="43.7" fill="none" stroke="#111" stroke-width="1"  shape-rendering="crispEdges"/>
<path d="M339 620.2 L339 626.6 L342.3 626.6 L342.3 620.2" fill="none" stroke="#111" stroke-width="1"  shape-rendering="crispEdges"/>
<line x1="339" y1="620.2" x2="357.7" y2="620.2" stroke="#111" stroke-width="1"  shape-rendering="crispEdges"/>
<line x1="342.3" y1="626.6" x2="394.7" y2="626.6" stroke="#111" stroke-width="1"  shape-rendering="crispEdges"/>
<rect x="277.2" y="656.1" width="42.6" height="16.9" fill="#fff" stroke="#aaa" stroke-width="0.7" fill-opacity="0.6" shape-rendering="crispEdges"/>
<rect x="269.4" y="673" width="49" height="17.4" fill="#fff" stroke="#aaa" stroke-width="0.7" fill-opacity="0.6" shape-rendering="crispEdges"/>
<text x="279.4" y="672.7" font-size="14.9" font-family="&quot;Liberation Sans&quot;, sans-serif" font-weight="normal" text-anchor="start" fill="#111" textLength="33.6" lengthAdjust="spacingAndGlyphs"  stroke="#111" stroke-width="0.3">BAÑO</text>
<text x="271.3" y="688" font-size="14.9" font-family="&quot;Liberation Sans&quot;, sans-serif" font-weight="normal" text-anchor="start" fill="#111" textLength="44" lengthAdjust="spacingAndGlyphs"  stroke="#111" stroke-width="0.3">4.51 M2</text>
<path d="M294.8 626.6 A43 43 0 0 0 337.8 669.6" fill="none" stroke="#111" stroke-width="1.25" />
<rect x="293.5" y="708.3" width="43" height="27.8" fill="#fff" stroke="#111" stroke-width="1"  shape-rendering="crispEdges"/>
<rect x="301.6" y="715.6" width="27.3" height="13.9" fill="none" stroke="#111" stroke-width="1"  shape-rendering="crispEdges"/>
<circle cx="315.3" cy="726" r="1" fill="#111" stroke="#111" stroke-width="1.25"/>
<line x1="343.4" y1="687.3" x2="343.4" y2="736.1" stroke="#111" stroke-width="1"  shape-rendering="crispEdges"/>
<rect x="345.4" y="626.6" width="49.3" height="109.5" fill="#fff" stroke="#111" stroke-width="1"  shape-rendering="crispEdges"/>
<rect x="354.2" y="724" width="30.9" height="2.5" fill="none" stroke="#111" stroke-width="1"  shape-rendering="crispEdges"/>
<g transform="translate(240.5 693) rotate(44)">
<rect x="-18.1" y="0.3" width="36.2" height="11.9" fill="#fff" stroke="none" stroke-width="0"  shape-rendering="crispEdges"/>
<line x1="-18.1" y1="2.4" x2="-18.1" y2="12.4" stroke="#111" stroke-width="1"  shape-rendering="crispEdges"/>
<line x1="18.1" y1="2.4" x2="18.1" y2="12.4" stroke="#111" stroke-width="1"  shape-rendering="crispEdges"/>
<rect x="-17" y="0.9" width="34" height="4" fill="none" stroke="#111" stroke-width="1"  shape-rendering="crispEdges"/>
<line x1="-14.5" y1="2.9" x2="-1" y2="2.9" stroke="#333" stroke-width="1.8" />
<line x1="1.2" y1="2.9" x2="14.5" y2="2.9" stroke="#333" stroke-width="1.8" />
<line x1="0" y1="0.9" x2="0" y2="4.9" stroke="#111" stroke-width="1"  shape-rendering="crispEdges"/>
</g>
<circle cx="654.2" cy="391.2" r="76.6" fill="none" stroke="#111" stroke-width="1.25"/>
<rect x="615.5" y="341.3" width="31.3" height="14.4" fill="#fff" stroke="#111" stroke-width="1.25" rx="3" />
<rect x="658.4" y="341.3" width="31.4" height="14.4" fill="#fff" stroke="#111" stroke-width="1.25" rx="3" />
<rect x="615.5" y="405.6" width="31.3" height="15" fill="#fff" stroke="#111" stroke-width="1.25" rx="3" />
<rect x="658.4" y="405.6" width="31.4" height="15" fill="#fff" stroke="#111" stroke-width="1.25" rx="3" />
<rect x="595.4" y="365.6" width="15.1" height="30.5" fill="#fff" stroke="#111" stroke-width="1.25" rx="3" />
<rect x="694.5" y="365.6" width="13" height="30.5" fill="#fff" stroke="#111" stroke-width="1.25" rx="3" />
<line x1="615.5" y1="345.5" x2="646.8" y2="345.5" stroke="#111" stroke-width="1"  shape-rendering="crispEdges"/>
<line x1="658.4" y1="345.5" x2="689.8" y2="345.5" stroke="#111" stroke-width="1"  shape-rendering="crispEdges"/>
<line x1="615.5" y1="416.2" x2="646.8" y2="416.2" stroke="#111" stroke-width="1"  shape-rendering="crispEdges"/>
<line x1="658.4" y1="416.2" x2="689.8" y2="416.2" stroke="#111" stroke-width="1"  shape-rendering="crispEdges"/>
<line x1="600.2" y1="365.6" x2="600.2" y2="396.1" stroke="#111" stroke-width="1"  shape-rendering="crispEdges"/>
<line x1="703.1" y1="365.6" x2="703.1" y2="396.1" stroke="#111" stroke-width="1"  shape-rendering="crispEdges"/>
<rect x="609.5" y="354.7" width="86" height="51.9" fill="#fff" stroke="#111" stroke-width="1.25" rx="2.5" />
<rect x="579.5" y="464.7" width="52.6" height="151.7" fill="#fff" stroke="#111" stroke-width="1"  shape-rendering="crispEdges"/>
<line x1="588.6" y1="464.7" x2="588.6" y2="616.4" stroke="#111" stroke-width="1"  shape-rendering="crispEdges"/>
<line x1="588.6" y1="473.1" x2="632.1" y2="473.1" stroke="#111" stroke-width="1"  shape-rendering="crispEdges"/>
<line x1="588.6" y1="518.4" x2="632.1" y2="518.4" stroke="#111" stroke-width="1"  shape-rendering="crispEdges"/>
<line x1="588.6" y1="563.6" x2="632.1" y2="563.6" stroke="#111" stroke-width="1"  shape-rendering="crispEdges"/>
<line x1="588.6" y1="607.4" x2="632.1" y2="607.4" stroke="#111" stroke-width="1"  shape-rendering="crispEdges"/>
<path d="M632.1 467.3 L762.4 467.3 L762.4 480" fill="none" stroke="#bbb" stroke-width="0.7"  shape-rendering="crispEdges"/>
<line x1="579.5" y1="620" x2="741.5" y2="620" stroke="#ccc" stroke-width="0.7"  shape-rendering="crispEdges"/>
<circle cx="689.5" cy="550" r="12" fill="#fff" stroke="#111" stroke-width="1.25"/>
<circle cx="666.8" cy="560.1" r="14.9" fill="#fff" stroke="#111" stroke-width="1.25"/>
<circle cx="669.3" cy="528" r="20.2" fill="#fff" stroke="#111" stroke-width="1.25"/>
<rect x="741.6" y="487.5" width="22" height="121.3" fill="#fff" stroke="#111" stroke-width="1"  shape-rendering="crispEdges"/>
<rect x="753.5" y="505.2" width="3.1" height="87.3" fill="none" stroke="#111" stroke-width="1"  shape-rendering="crispEdges"/>
<line x1="758.6" y1="511.5" x2="758.6" y2="583.6" stroke="#111" stroke-width="1"  shape-rendering="crispEdges"/>
<line x1="763.6" y1="479.9" x2="763.6" y2="638.4" stroke="#111" stroke-width="1"  shape-rendering="crispEdges"/>
<line x1="769.4" y1="486.2" x2="769.4" y2="736.3" stroke="#111" stroke-width="1"  shape-rendering="crispEdges"/>
<path d="M763.6 479.9 L778 479.9 L778 486.2 L769.4 486.2" fill="none" stroke="#111" stroke-width="1"  shape-rendering="crispEdges"/>
<line x1="775.5" y1="479.9" x2="775.5" y2="486.2" stroke="#111" stroke-width="1"  shape-rendering="crispEdges"/>
<rect x="778" y="486.2" width="2.6" height="43.8" fill="none" stroke="#111" stroke-width="1"  shape-rendering="crispEdges"/>
<path d="M780.6 530 A43.5 43.5 0 0 0 824 486.2" fill="none" stroke="#111" stroke-width="1.25" />
<path d="M913.6 479.9 L823.1 479.9 L823.1 486.2 L913.6 486.2" fill="none" stroke="#111" stroke-width="1"  shape-rendering="crispEdges"/>
<line x1="825.6" y1="479.9" x2="825.6" y2="486.2" stroke="#111" stroke-width="1"  shape-rendering="crispEdges"/>
<line x1="574.5" y1="638.4" x2="763.6" y2="638.4" stroke="#111" stroke-width="1"  shape-rendering="crispEdges"/>
<rect x="593" y="638.9" width="150.5" height="5.8" fill="#fff" stroke="#111" stroke-width="1"  shape-rendering="crispEdges"/>
<line x1="593" y1="641" x2="743.5" y2="641" stroke="#333" stroke-width="1.6" />
<line x1="667.5" y1="638.9" x2="667.5" y2="644.7" stroke="#111" stroke-width="1"  shape-rendering="crispEdges"/>
<line x1="595.5" y1="638.9" x2="595.5" y2="644.7" stroke="#111" stroke-width="1"  shape-rendering="crispEdges"/>
<line x1="593" y1="644.7" x2="593" y2="652.3" stroke="#111" stroke-width="1"  shape-rendering="crispEdges"/>
<line x1="593" y1="652.3" x2="743.5" y2="652.3" stroke="#999" stroke-width="0.6"  shape-rendering="crispEdges"/>
<line x1="743.5" y1="638.4" x2="743.5" y2="653.6" stroke="#111" stroke-width="1"  shape-rendering="crispEdges"/>
<rect x="574.8" y="653.6" width="178.8" height="97.4" fill="#fff" stroke="#111" stroke-width="1"  shape-rendering="crispEdges"/>
<line x1="584" y1="653.6" x2="584" y2="745.9" stroke="#111" stroke-width="1"  shape-rendering="crispEdges"/>
<line x1="593.25" y1="653.6" x2="593.25" y2="745.9" stroke="#111" stroke-width="1"  shape-rendering="crispEdges"/>
<line x1="602.5" y1="653.6" x2="602.5" y2="745.9" stroke="#111" stroke-width="1"  shape-rendering="crispEdges"/>
<line x1="611.75" y1="653.6" x2="611.75" y2="745.9" stroke="#111" stroke-width="1"  shape-rendering="crispEdges"/>
<line x1="621" y1="653.6" x2="621" y2="745.9" stroke="#111" stroke-width="1"  shape-rendering="crispEdges"/>
<line x1="630.25" y1="653.6" x2="630.25" y2="745.9" stroke="#111" stroke-width="1"  shape-rendering="crispEdges"/>
<line x1="639.5" y1="653.6" x2="639.5" y2="745.9" stroke="#111" stroke-width="1"  shape-rendering="crispEdges"/>
<line x1="648.75" y1="653.6" x2="648.75" y2="745.9" stroke="#111" stroke-width="1"  shape-rendering="crispEdges"/>
<line x1="658" y1="653.6" x2="658" y2="745.9" stroke="#111" stroke-width="1"  shape-rendering="crispEdges"/>
<line x1="667.25" y1="653.6" x2="667.25" y2="745.9" stroke="#111" stroke-width="1"  shape-rendering="crispEdges"/>
<line x1="676.5" y1="653.6" x2="676.5" y2="745.9" stroke="#111" stroke-width="1"  shape-rendering="crispEdges"/>
<line x1="685.75" y1="653.6" x2="685.75" y2="745.9" stroke="#111" stroke-width="1"  shape-rendering="crispEdges"/>
<line x1="695" y1="653.6" x2="695" y2="745.9" stroke="#111" stroke-width="1"  shape-rendering="crispEdges"/>
<line x1="704.25" y1="653.6" x2="704.25" y2="745.9" stroke="#111" stroke-width="1"  shape-rendering="crispEdges"/>
<line x1="713.5" y1="653.6" x2="713.5" y2="745.9" stroke="#111" stroke-width="1"  shape-rendering="crispEdges"/>
<line x1="722.75" y1="653.6" x2="722.75" y2="745.9" stroke="#111" stroke-width="1"  shape-rendering="crispEdges"/>
<line x1="732" y1="653.6" x2="732" y2="745.9" stroke="#111" stroke-width="1"  shape-rendering="crispEdges"/>
<line x1="741.25" y1="653.6" x2="741.25" y2="745.9" stroke="#111" stroke-width="1"  shape-rendering="crispEdges"/>
<line x1="750.5" y1="653.6" x2="750.5" y2="745.9" stroke="#111" stroke-width="1"  shape-rendering="crispEdges"/>
<line x1="574.8" y1="745.9" x2="753.6" y2="745.9" stroke="#111" stroke-width="1"  shape-rendering="crispEdges"/>
<rect x="644.5" y="673.6" width="66" height="16.9" fill="#fff" stroke="none" stroke-width="0"  shape-rendering="crispEdges"/>
<rect x="652" y="690" width="54.5" height="17" fill="#fff" stroke="none" stroke-width="0"  shape-rendering="crispEdges"/>
<text x="645.7" y="688.6" font-size="15.4" font-family="&quot;Liberation Sans&quot;, sans-serif" font-weight="normal" text-anchor="start" fill="#111" textLength="63.3" lengthAdjust="spacingAndGlyphs"  stroke="#111" stroke-width="0.3">TERRAZA</text>
<text x="653.3" y="703.9" font-size="15.4" font-family="&quot;Liberation Sans&quot;, sans-serif" font-weight="normal" text-anchor="start" fill="#111" textLength="48.6" lengthAdjust="spacingAndGlyphs"  stroke="#111" stroke-width="0.3">4.72 M2</text>
<path d="M769.4 577.5 L805.5 577.5 L805.5 736.3" fill="none" stroke="#111" stroke-width="1"  shape-rendering="crispEdges"/>
<rect x="769.4" y="583.5" width="36.1" height="152.8" fill="none" stroke="#111" stroke-width="1"  shape-rendering="crispEdges"/>
<line x1="786" y1="583.5" x2="786" y2="736.3" stroke="#111" stroke-width="1.6" />
<line x1="802.9" y1="583.5" x2="802.9" y2="736.3" stroke="#111" stroke-width="1"  shape-rendering="crispEdges"/>
<line x1="772" y1="595" x2="800" y2="589" stroke="#111" stroke-width="1.3" />
<line x1="772" y1="595" x2="800" y2="601" stroke="#111" stroke-width="1.3" />
<line x1="772" y1="600.5" x2="800" y2="605.5" stroke="#111" stroke-width="1.3" />
<line x1="772" y1="611.5" x2="800" y2="616.5" stroke="#111" stroke-width="1.3" />
<line x1="772" y1="622" x2="800" y2="620" stroke="#111" stroke-width="1.3" />
<line x1="772" y1="627" x2="800" y2="625" stroke="#111" stroke-width="1.3" />
<line x1="772" y1="629.5" x2="800" y2="634.5" stroke="#111" stroke-width="1.3" />
<line x1="772" y1="634" x2="800" y2="640" stroke="#111" stroke-width="1.3" />
<line x1="772" y1="643.5" x2="800" y2="648.5" stroke="#111" stroke-width="1.3" />
<line x1="772" y1="649.5" x2="800" y2="654.5" stroke="#111" stroke-width="1.3" />
<line x1="772" y1="660" x2="800" y2="666" stroke="#111" stroke-width="1.3" />
<line x1="772" y1="669" x2="800" y2="667" stroke="#111" stroke-width="1.3" />
<line x1="772" y1="675.5" x2="800" y2="670.5" stroke="#111" stroke-width="1.3" />
<line x1="772" y1="681.5" x2="800" y2="686.5" stroke="#111" stroke-width="1.3" />
<line x1="772" y1="696" x2="800" y2="694" stroke="#111" stroke-width="1.3" />
<line x1="772" y1="701.5" x2="800" y2="706.5" stroke="#111" stroke-width="1.3" />
<line x1="772" y1="707.5" x2="800" y2="712.5" stroke="#111" stroke-width="1.3" />
<line x1="772" y1="723.5" x2="800" y2="718.5" stroke="#111" stroke-width="1.3" />
<line x1="772" y1="725" x2="800" y2="731" stroke="#111" stroke-width="1.3" />
<rect x="763.2" y="660.4" width="15.2" height="29.9" fill="#fff" stroke="#111" stroke-width="1"  shape-rendering="crispEdges"/>
<path d="M913.6 595.4 L866.7 595.4 L866.7 678.4 L913.6 678.4" fill="none" stroke="#111" stroke-width="1"  shape-rendering="crispEdges"/>
<line x1="769.4" y1="736.3" x2="913.6" y2="736.3" stroke="#111" stroke-width="1"  shape-rendering="crispEdges"/>
<rect x="843.4" y="736.3" width="70.2" height="15" fill="none" stroke="#111" stroke-width="1"  shape-rendering="crispEdges"/>
<rect x="846" y="738" width="67.6" height="3.8" fill="none" stroke="#111" stroke-width="1"  shape-rendering="crispEdges"/>
<line x1="846" y1="739.8" x2="913.6" y2="739.8" stroke="#333" stroke-width="1.4" />
<line x1="885" y1="738" x2="885" y2="741.8" stroke="#111" stroke-width="1"  shape-rendering="crispEdges"/>
<line x1="322" y1="814.5" x2="913.6" y2="814.5" stroke="#111" stroke-width="1.2"  shape-rendering="crispEdges"/>
<line x1="322" y1="868.4" x2="913.6" y2="868.4" stroke="#111" stroke-width="1.2"  shape-rendering="crispEdges"/>
<text x="398.4" y="856.8" font-size="39.6" font-family="&quot;Liberation Sans&quot;, sans-serif" font-weight="bold" text-anchor="start" fill="#111" textLength="484" lengthAdjust="spacingAndGlyphs" stroke="#fff" stroke-width="0.9">PLANTA PRIMERA</text>
<clipPath id="cpB"><rect x="0" y="881.6" width="913" height="8.4"/></clipPath>
<g clip-path="url(#cpB)" opacity="0.55">
<text x="398.4" y="910.5" font-size="34" font-family="&quot;Liberation Sans&quot;, sans-serif" font-weight="bold" text-anchor="start" fill="#111" textLength="484" lengthAdjust="spacingAndGlyphs"  stroke="#111" stroke-width="0.3">SUP. CONST.: 1.481,72 m2</text>
</g>
<path d="M959.6 6.5 L959.6 345.7 L1255.6 345.7" fill="none" stroke="#111" stroke-width="1"  shape-rendering="crispEdges"/>
<line x1="973.3" y1="57.5" x2="1240.8" y2="57.5" stroke="#111" stroke-width="1"  shape-rendering="crispEdges"/>
<line x1="973.3" y1="80.5" x2="1240.8" y2="80.5" stroke="#111" stroke-width="1"  shape-rendering="crispEdges"/>
<line x1="973.3" y1="103" x2="1240.8" y2="103" stroke="#111" stroke-width="1"  shape-rendering="crispEdges"/>
<line x1="973.3" y1="125.2" x2="1240.8" y2="125.2" stroke="#111" stroke-width="1"  shape-rendering="crispEdges"/>
<line x1="973.3" y1="148" x2="1240.8" y2="148" stroke="#111" stroke-width="1"  shape-rendering="crispEdges"/>
<line x1="973.3" y1="170.7" x2="1240.8" y2="170.7" stroke="#111" stroke-width="1"  shape-rendering="crispEdges"/>
<line x1="973.3" y1="193.5" x2="1240.8" y2="193.5" stroke="#111" stroke-width="1"  shape-rendering="crispEdges"/>
<line x1="973.3" y1="216.3" x2="1240.8" y2="216.3" stroke="#111" stroke-width="1"  shape-rendering="crispEdges"/>
<line x1="973.3" y1="239" x2="1240.8" y2="239" stroke="#111" stroke-width="1"  shape-rendering="crispEdges"/>
<line x1="973.3" y1="261.2" x2="1240.8" y2="261.2" stroke="#111" stroke-width="1"  shape-rendering="crispEdges"/>
<line x1="973.3" y1="283.4" x2="1240.8" y2="283.4" stroke="#111" stroke-width="1"  shape-rendering="crispEdges"/>
<line x1="973.3" y1="306.1" x2="1240.8" y2="306.1" stroke="#111" stroke-width="1"  shape-rendering="crispEdges"/>
<line x1="973.3" y1="328.9" x2="1240.8" y2="328.9" stroke="#111" stroke-width="1"  shape-rendering="crispEdges"/>
<line x1="973.3" y1="57.5" x2="973.3" y2="328.9" stroke="#111" stroke-width="1"  shape-rendering="crispEdges"/>
<line x1="1240.8" y1="57.5" x2="1240.8" y2="328.9" stroke="#111" stroke-width="1"  shape-rendering="crispEdges"/>
<line x1="1132.7" y1="80.5" x2="1132.7" y2="328.9" stroke="#111" stroke-width="1"  shape-rendering="crispEdges"/>
<rect x="973.3" y="239" width="267.5" height="22.2" fill="none" stroke="#111" stroke-width="2.4" />
<rect x="973.3" y="306.1" width="267.5" height="22.8" fill="none" stroke="#111" stroke-width="2.4" />
<text x="1003.2" y="75.7" font-size="15" font-family="&quot;Liberation Sans&quot;, sans-serif" font-weight="normal" text-anchor="start" fill="#111" textLength="210.6" lengthAdjust="spacingAndGlyphs"  stroke="#111" stroke-width="0.3">APPARTMENT 1-2-I</text>
<text x="1004.6" y="119" font-size="13.8" font-family="&quot;Liberation Sans&quot;, sans-serif" font-weight="normal" text-anchor="start" fill="#111" textLength="110.4" lengthAdjust="spacingAndGlyphs"  stroke="#111" stroke-width="0.3">Salon- Kitchen</text>
<text x="1145.5" y="119" font-size="13.8" font-family="&quot;Liberation Sans&quot;, sans-serif" font-weight="normal" text-anchor="start" fill="#111" textLength="67.5" lengthAdjust="spacingAndGlyphs"  stroke="#111" stroke-width="0.3">29,34 m²</text>
<text x="1004.6" y="141.5" font-size="13.8" font-family="&quot;Liberation Sans&quot;, sans-serif" font-weight="normal" text-anchor="start" fill="#111" textLength="80" lengthAdjust="spacingAndGlyphs"  stroke="#111" stroke-width="0.3">Circulation</text>
<text x="1155.5" y="141.5" font-size="13.8" font-family="&quot;Liberation Sans&quot;, sans-serif" font-weight="normal" text-anchor="start" fill="#111" textLength="57.5" lengthAdjust="spacingAndGlyphs"  stroke="#111" stroke-width="0.3">0,90 m²</text>
<text x="1004.6" y="164.3" font-size="13.8" font-family="&quot;Liberation Sans&quot;, sans-serif" font-weight="normal" text-anchor="start" fill="#111" textLength="82" lengthAdjust="spacingAndGlyphs"  stroke="#111" stroke-width="0.3">Bedroom 1</text>
<text x="1145.5" y="164.3" font-size="13.8" font-family="&quot;Liberation Sans&quot;, sans-serif" font-weight="normal" text-anchor="start" fill="#111" textLength="67.5" lengthAdjust="spacingAndGlyphs"  stroke="#111" stroke-width="0.3">11,51 m²</text>
<text x="1004.6" y="186.8" font-size="13.8" font-family="&quot;Liberation Sans&quot;, sans-serif" font-weight="normal" text-anchor="start" fill="#111" textLength="87" lengthAdjust="spacingAndGlyphs"  stroke="#111" stroke-width="0.3">Bathroom 1</text>
<text x="1155.5" y="186.8" font-size="13.8" font-family="&quot;Liberation Sans&quot;, sans-serif" font-weight="normal" text-anchor="start" fill="#111" textLength="57.5" lengthAdjust="spacingAndGlyphs"  stroke="#111" stroke-width="0.3">4,51 m²</text>
<text x="1004.6" y="209.6" font-size="13.8" font-family="&quot;Liberation Sans&quot;, sans-serif" font-weight="normal" text-anchor="start" fill="#111" textLength="83" lengthAdjust="spacingAndGlyphs"  stroke="#111" stroke-width="0.3">Bedroom 2</text>
<text x="1145.5" y="209.6" font-size="13.8" font-family="&quot;Liberation Sans&quot;, sans-serif" font-weight="normal" text-anchor="start" fill="#111" textLength="57.5" lengthAdjust="spacingAndGlyphs"  stroke="#111" stroke-width="0.3">9,36 m²</text>
<text x="1004.6" y="232.4" font-size="13.8" font-family="&quot;Liberation Sans&quot;, sans-serif" font-weight="normal" text-anchor="start" fill="#111" textLength="88" lengthAdjust="spacingAndGlyphs"  stroke="#111" stroke-width="0.3">Bathroom 2</text>
<text x="1155.5" y="232.4" font-size="13.8" font-family="&quot;Liberation Sans&quot;, sans-serif" font-weight="normal" text-anchor="start" fill="#111" textLength="57.5" lengthAdjust="spacingAndGlyphs"  stroke="#111" stroke-width="0.3">3,20 m²</text>
<text x="1004.6" y="254.3" font-size="13.8" font-family="&quot;Liberation Sans&quot;, sans-serif" font-weight="normal" text-anchor="start" fill="#111" textLength="121" lengthAdjust="spacingAndGlyphs"  stroke="#111" stroke-width="0.3">Tot. Surface Int.</text>
<text x="1145.5" y="254.3" font-size="13.8" font-family="&quot;Liberation Sans&quot;, sans-serif" font-weight="normal" text-anchor="start" fill="#111" textLength="67.5" lengthAdjust="spacingAndGlyphs"  stroke="#111" stroke-width="0.3">58,82 m²</text>
<text x="1004.6" y="277" font-size="13.8" font-family="&quot;Liberation Sans&quot;, sans-serif" font-weight="normal" text-anchor="start" fill="#111" textLength="58" lengthAdjust="spacingAndGlyphs"  stroke="#111" stroke-width="0.3">Terrace</text>
<text x="1155.5" y="277" font-size="13.8" font-family="&quot;Liberation Sans&quot;, sans-serif" font-weight="normal" text-anchor="start" fill="#111" textLength="57.5" lengthAdjust="spacingAndGlyphs"  stroke="#111" stroke-width="0.3">3,76 m²</text>
<text x="1004.6" y="322" font-size="13.8" font-family="&quot;Liberation Sans&quot;, sans-serif" font-weight="normal" text-anchor="start" fill="#111" textLength="93" lengthAdjust="spacingAndGlyphs"  stroke="#111" stroke-width="0.3">Tot. Surface</text>
<text x="1145.5" y="322" font-size="13.8" font-family="&quot;Liberation Sans&quot;, sans-serif" font-weight="normal" text-anchor="start" fill="#111" textLength="67.5" lengthAdjust="spacingAndGlyphs"  stroke="#111" stroke-width="0.3">62,58 m²</text>
<line x1="913.6" y1="429.1" x2="1255.6" y2="429.1" stroke="#111" stroke-width="1"  shape-rendering="crispEdges"/>
<line x1="913.6" y1="648" x2="1255.6" y2="648" stroke="#111" stroke-width="1"  shape-rendering="crispEdges"/>
<line x1="913.5" y1="429.1" x2="913.5" y2="648" stroke="#111" stroke-width="1.2"  shape-rendering="crispEdges"/>
<line x1="959.6" y1="648" x2="959.6" y2="651.5" stroke="#111" stroke-width="1"  shape-rendering="crispEdges"/>
<line x1="982.5" y1="648" x2="982.5" y2="651.5" stroke="#111" stroke-width="1"  shape-rendering="crispEdges"/>
<line x1="1185.5" y1="648" x2="1185.5" y2="651.5" stroke="#111" stroke-width="1"  shape-rendering="crispEdges"/>
<line x1="1223" y1="648" x2="1223" y2="651.5" stroke="#111" stroke-width="1"  shape-rendering="crispEdges"/>
<rect x="919.3" y="760.2" width="342.9" height="129.8" fill="#cbc8c5" stroke="none" stroke-width="0"  shape-rendering="crispEdges"/>
<line x1="919.3" y1="880.7" x2="1255.6" y2="880.7" stroke="#555" stroke-width="1"  shape-rendering="crispEdges"/>
<line x1="1255.6" y1="760" x2="1255.6" y2="880.7" stroke="#555" stroke-width="1"  shape-rendering="crispEdges"/>
<line x1="959.1" y1="877.5" x2="959.1" y2="880.7" stroke="#555" stroke-width="1"  shape-rendering="crispEdges"/>
<line x1="1029.8" y1="877.5" x2="1029.8" y2="880.7" stroke="#555" stroke-width="1"  shape-rendering="crispEdges"/>
<line x1="1104.3" y1="877.5" x2="1104.3" y2="880.7" stroke="#555" stroke-width="1"  shape-rendering="crispEdges"/>
<line x1="1180.4" y1="877.5" x2="1180.4" y2="880.7" stroke="#555" stroke-width="1"  shape-rendering="crispEdges"/>
<line x1="1252.5" y1="752" x2="1255.6" y2="752" stroke="#333" stroke-width="1"  shape-rendering="crispEdges"/>
<line x1="1252.5" y1="765.4" x2="1255.6" y2="765.4" stroke="#333" stroke-width="1"  shape-rendering="crispEdges"/>
<line x1="1252.5" y1="830" x2="1255.6" y2="830" stroke="#333" stroke-width="1"  shape-rendering="crispEdges"/>
<clipPath id="cpG"><rect x="919.3" y="760.2" width="343" height="130"/></clipPath><g clip-path="url(#cpG)">
<text fill="#fff" stroke="#cbc8c5"><tspan x="933.42" y="845.9" font-size="102.27" font-family="&quot;Liberation Serif&quot;, serif" stroke-width="3.0" textLength="77.83" lengthAdjust="spacingAndGlyphs">A</tspan><tspan x="1014.21" y="829.88" font-size="77.65" font-family="&quot;Liberation Serif&quot;, serif" stroke-width="2.4" textLength="50.6" lengthAdjust="spacingAndGlyphs">T</tspan><tspan x="1071.74" y="845.5" font-size="96.95" font-family="&quot;Liberation Sans&quot;, sans-serif" stroke-width="1.0" textLength="20.11" lengthAdjust="spacingAndGlyphs">I</tspan><tspan x="1087.92" y="846.18" font-size="104.38" font-family="&quot;Liberation Serif&quot;, serif" stroke-width="3.6" textLength="77.87" lengthAdjust="spacingAndGlyphs">S</tspan><tspan x="1166.06" y="846.18" font-size="103.67" font-family="&quot;Liberation Serif&quot;, serif" stroke-width="3.6" textLength="66.57" lengthAdjust="spacingAndGlyphs">Ú</tspan></text>
<rect x="1021.2" y="843.3" width="36.9" height="2.1" fill="#fff" stroke="none" stroke-width="0"  shape-rendering="crispEdges"/>
</g>
<line x1="1191.4" y1="774" x2="1205.8" y2="766.5" stroke="#fff" stroke-width="1" />
<text x="983.1" y="885.7" font-size="17.3" font-family="&quot;Liberation Sans&quot;, sans-serif" fill="#fff" stroke="#cbc8c5" stroke-width="0.35" textLength="197.3" lengthAdjust="spacing">REAL ESTATE</text>
<g id="thumb">
<clipPath id="cpT"><path d="M947 442.3 L1226.8 443.6 L1231.4 476.9 L937.6 476.2 Z"/></clipPath>
<g clip-path="url(#cpT)">
<rect x="935" y="440" width="300" height="38" fill="#0a0a0a" stroke="none" stroke-width="0"  shape-rendering="crispEdges"/>
<rect x="949.93" y="444.43" width="109.84" height="5.39" fill="#fff" stroke="none" stroke-width="0"  shape-rendering="crispEdges"/>
<rect x="1082.3" y="445.11" width="136.12" height="4.99" fill="#fff" stroke="none" stroke-width="0"  shape-rendering="crispEdges"/>
<rect x="938.48" y="453.19" width="11.05" height="21.56" fill="#fff" stroke="none" stroke-width="0"  shape-rendering="crispEdges"/>
<circle cx="942.36" cy="466.51" r="1.29" fill="#fff" stroke="#0a0a0a" stroke-width="0.9"/>
<circle cx="945.38" cy="466.51" r="1.29" fill="#fff" stroke="#0a0a0a" stroke-width="0.9"/>
<circle cx="942.36" cy="469.53" r="1.29" fill="#fff" stroke="#0a0a0a" stroke-width="0.9"/>
<circle cx="945.38" cy="469.53" r="1.29" fill="#fff" stroke="#0a0a0a" stroke-width="0.9"/>
<rect x="941.17" y="455.22" width="6.74" height="8.76" fill="#fff" stroke="none" stroke-width="0"  shape-rendering="crispEdges"/>
<rect x="942.25" y="457.24" width="4.99" height="1.08" fill="#0a0a0a" stroke="none" stroke-width="0"  shape-rendering="crispEdges"/>
<rect x="942.25" y="459.93" width="4.99" height="1.08" fill="#0a0a0a" stroke="none" stroke-width="0"  shape-rendering="crispEdges"/>
<rect x="942.25" y="462.63" width="4.99" height="1.08" fill="#0a0a0a" stroke="none" stroke-width="0"  shape-rendering="crispEdges"/>
<rect x="951.55" y="444.7" width="13.88" height="30.05" fill="#fff" stroke="none" stroke-width="0"  shape-rendering="crispEdges"/>
<circle cx="958.02" cy="450.5" r="2.6" fill="#fff" stroke="#0a0a0a" stroke-width="0.7"/>
<rect x="952.03" y="453.94" width="12.66" height="4.57" fill="#0a0a0a" stroke="none" stroke-width="0"  shape-rendering="crispEdges"/>
<rect x="953.13" y="454.99" width="2.82" height="2.47" fill="#fff" stroke="none" stroke-width="0"  shape-rendering="crispEdges"/>
<rect x="956.95" y="454.99" width="2.82" height="2.47" fill="#fff" stroke="none" stroke-width="0"  shape-rendering="crispEdges"/>
<rect x="960.77" y="454.99" width="2.82" height="2.47" fill="#fff" stroke="none" stroke-width="0"  shape-rendering="crispEdges"/>
<circle cx="959.77" cy="468.42" r="6.2" fill="#fff" stroke="#0a0a0a" stroke-width="1.3"/>
<circle cx="959.77" cy="468.42" r="4.59" fill="none" stroke="#0a0a0a" stroke-width="0.7"/>
<rect x="957.42" y="465.32" width="4.71" height="6.2" fill="#fff" stroke="#0a0a0a" stroke-width="1.2" rx="0.6" />
<rect x="965.43" y="444.43" width="6.74" height="31" fill="#0a0a0a" stroke="none" stroke-width="0"  shape-rendering="crispEdges"/>
<rect x="970.55" y="455.22" width="1.89" height="2.43" fill="#fff" stroke="none" stroke-width="0"  shape-rendering="crispEdges"/>
<rect x="970.55" y="461.28" width="1.89" height="2.43" fill="#fff" stroke="none" stroke-width="0"  shape-rendering="crispEdges"/>
<rect x="970.55" y="467.35" width="1.89" height="2.43" fill="#fff" stroke="none" stroke-width="0"  shape-rendering="crispEdges"/>
<rect x="970.55" y="472.74" width="1.89" height="2.43" fill="#fff" stroke="none" stroke-width="0"  shape-rendering="crispEdges"/>
<rect x="972.44" y="454.54" width="15.9" height="20.22" fill="#fff" stroke="none" stroke-width="0"  shape-rendering="crispEdges"/>
<rect x="972.44" y="450.09" width="15.9" height="3.77" fill="#0a0a0a" stroke="none" stroke-width="0"  shape-rendering="crispEdges"/>
<rect x="975.13" y="459.93" width="9.16" height="4.04" fill="#fff" stroke="#0a0a0a" stroke-width="0.8"  shape-rendering="crispEdges"/>
<rect x="975.13" y="466.67" width="9.16" height="4.72" fill="#fff" stroke="#0a0a0a" stroke-width="0.8"  shape-rendering="crispEdges"/>
<rect x="976.89" y="455.22" width="5.39" height="1.08" fill="#0a0a0a" stroke="none" stroke-width="0"  shape-rendering="crispEdges"/>
<rect x="976.89" y="457.37" width="5.39" height="0.81" fill="#0a0a0a" stroke="none" stroke-width="0"  shape-rendering="crispEdges"/>
<rect x="988.34" y="449.82" width="3.77" height="25.61" fill="#0a0a0a" stroke="none" stroke-width="0"  shape-rendering="crispEdges"/>
<rect x="992.39" y="459.93" width="15.09" height="14.82" fill="#fff" stroke="none" stroke-width="0"  shape-rendering="crispEdges"/>
<rect x="992.39" y="452.25" width="15.09" height="7.28" fill="#0a0a0a" stroke="none" stroke-width="0"  shape-rendering="crispEdges"/>
<rect x="995.08" y="453.87" width="10.78" height="4.04" fill="#fff" stroke="none" stroke-width="0"  shape-rendering="crispEdges"/>
<rect x="997.1" y="454.54" width="1.35" height="3.37" fill="#0a0a0a" stroke="none" stroke-width="0"  shape-rendering="crispEdges"/>
<rect x="1000.47" y="454.54" width="1.35" height="3.37" fill="#0a0a0a" stroke="none" stroke-width="0"  shape-rendering="crispEdges"/>
<rect x="1003.84" y="454.54" width="0.94" height="3.37" fill="#0a0a0a" stroke="none" stroke-width="0"  shape-rendering="crispEdges"/>
<rect x="997.78" y="463.98" width="8.09" height="8.09" fill="#fff" stroke="#0a0a0a" stroke-width="0.8"  shape-rendering="crispEdges"/>
<path d="M1001.82 465.32 L1005.59 468.02 L1001.82 470.71 Z" fill="#0a0a0a" stroke="none" stroke-width="0" />
<rect x="1007.48" y="449.82" width="2.16" height="25.61" fill="#0a0a0a" stroke="none" stroke-width="0"  shape-rendering="crispEdges"/>
<rect x="1009.64" y="459.93" width="14.82" height="14.82" fill="#fff" stroke="none" stroke-width="0"  shape-rendering="crispEdges"/>
<rect x="1009.64" y="452.25" width="14.82" height="7.28" fill="#0a0a0a" stroke="none" stroke-width="0"  shape-rendering="crispEdges"/>
<rect x="1011.25" y="453.87" width="10.78" height="4.04" fill="#fff" stroke="none" stroke-width="0"  shape-rendering="crispEdges"/>
<rect x="1012.6" y="454.54" width="1.35" height="3.37" fill="#0a0a0a" stroke="none" stroke-width="0"  shape-rendering="crispEdges"/>
<rect x="1016.64" y="455.22" width="2.7" height="1.35" fill="#0a0a0a" stroke="none" stroke-width="0"  shape-rendering="crispEdges"/>
<rect x="1011.25" y="463.98" width="8.09" height="8.09" fill="#fff" stroke="#0a0a0a" stroke-width="0.8"  shape-rendering="crispEdges"/>
<path d="M1015.3 465.32 L1011.52 468.02 L1015.3 470.71 Z" fill="#0a0a0a" stroke="none" stroke-width="0" />
<rect x="1024.46" y="455.22" width="2.96" height="20.22" fill="#0a0a0a" stroke="none" stroke-width="0"  shape-rendering="crispEdges"/>
<rect x="1027.43" y="455.22" width="32.35" height="19.54" fill="#fff" stroke="none" stroke-width="0"  shape-rendering="crispEdges"/>
<rect x="1024.73" y="450.9" width="35.04" height="4.31" fill="#0a0a0a" stroke="none" stroke-width="0"  shape-rendering="crispEdges"/>
<rect x="1025.4" y="451.98" width="3.77" height="2.29" fill="#fff" stroke="none" stroke-width="0"  shape-rendering="crispEdges"/>
<rect x="1031.47" y="451.98" width="3.77" height="2.29" fill="#fff" stroke="none" stroke-width="0"  shape-rendering="crispEdges"/>
<rect x="1037.53" y="451.98" width="3.77" height="2.29" fill="#fff" stroke="none" stroke-width="0"  shape-rendering="crispEdges"/>
<rect x="1043.6" y="451.98" width="3.77" height="2.29" fill="#fff" stroke="none" stroke-width="0"  shape-rendering="crispEdges"/>
<rect x="1049.66" y="451.98" width="3.77" height="2.29" fill="#fff" stroke="none" stroke-width="0"  shape-rendering="crispEdges"/>
<circle cx="1036.19" cy="466.67" r="6.33" fill="#fff" stroke="#0a0a0a" stroke-width="1.3"/>
<circle cx="1036.19" cy="466.67" r="4.69" fill="none" stroke="#0a0a0a" stroke-width="0.7"/>
<rect x="1033.78" y="463.5" width="4.81" height="6.33" fill="#fff" stroke="#0a0a0a" stroke-width="1.2" rx="0.6" />
<rect x="1044.35" y="460.01" width="12.25" height="4.57" fill="#0a0a0a" stroke="none" stroke-width="0"  shape-rendering="crispEdges"/>
<rect x="1045.45" y="461.06" width="2.68" height="2.47" fill="#fff" stroke="none" stroke-width="0"  shape-rendering="crispEdges"/>
<rect x="1049.13" y="461.06" width="2.68" height="2.47" fill="#fff" stroke="none" stroke-width="0"  shape-rendering="crispEdges"/>
<rect x="1052.81" y="461.06" width="2.68" height="2.47" fill="#fff" stroke="none" stroke-width="0"  shape-rendering="crispEdges"/>
<circle cx="1049.11" cy="467.74" r="1.05" fill="#fff" stroke="#0a0a0a" stroke-width="0.9"/>
<circle cx="1051.56" cy="467.74" r="1.05" fill="#fff" stroke="#0a0a0a" stroke-width="0.9"/>
<circle cx="1049.11" cy="470.19" r="1.05" fill="#fff" stroke="#0a0a0a" stroke-width="0.9"/>
<circle cx="1051.56" cy="470.19" r="1.05" fill="#fff" stroke="#0a0a0a" stroke-width="0.9"/>
<rect x="1045.62" y="473.41" width="9.43" height="2.02" fill="#0a0a0a" stroke="none" stroke-width="0"  shape-rendering="crispEdges"/>
<rect x="1046.97" y="474.08" width="6.74" height="0.81" fill="#fff" stroke="none" stroke-width="0"  shape-rendering="crispEdges"/>
<rect x="1059.77" y="450.09" width="15.09" height="25.34" fill="#0a0a0a" stroke="none" stroke-width="0"  shape-rendering="crispEdges"/>
<rect x="1074.87" y="459.93" width="5.12" height="15.5" fill="#0a0a0a" stroke="none" stroke-width="0"  shape-rendering="crispEdges"/>
<circle cx="1068.26" cy="469.77" r="1" fill="#fff" stroke="#0a0a0a" stroke-width="0"/>
<circle cx="1065.84" cy="457.24" r="0.5" fill="#fff" stroke="#0a0a0a" stroke-width="0"/>
<rect x="1074.87" y="444.43" width="20.08" height="31" fill="#fff" stroke="none" stroke-width="0"  shape-rendering="crispEdges"/>
<rect x="1074.87" y="444.43" width="5.12" height="10.78" fill="#fff" stroke="none" stroke-width="0"  shape-rendering="crispEdges"/>
<rect x="1082.01" y="446.05" width="8.09" height="6.47" fill="#fff" stroke="#0a0a0a" stroke-width="1.4" />
<rect x="1084.03" y="453.87" width="4.72" height="1.35" fill="#0a0a0a" stroke="none" stroke-width="0"  shape-rendering="crispEdges"/>
<rect x="1079.99" y="461.68" width="12.43" height="13.75" fill="#0a0a0a" stroke="none" stroke-width="0"  shape-rendering="crispEdges"/>
<rect x="1080.49" y="462.18" width="1.17" height="2.6" fill="#fff" stroke="none" stroke-width="0"  shape-rendering="crispEdges"/>
<rect x="1080.49" y="465.58" width="1.17" height="2.6" fill="#fff" stroke="none" stroke-width="0"  shape-rendering="crispEdges"/>
<rect x="1080.49" y="468.98" width="1.17" height="2.6" fill="#fff" stroke="none" stroke-width="0"  shape-rendering="crispEdges"/>
<rect x="1080.49" y="472.38" width="1.17" height="2.6" fill="#fff" stroke="none" stroke-width="0"  shape-rendering="crispEdges"/>
<rect x="1082.56" y="462.18" width="1.17" height="2.6" fill="#fff" stroke="none" stroke-width="0"  shape-rendering="crispEdges"/>
<rect x="1082.56" y="465.58" width="1.17" height="2.6" fill="#fff" stroke="none" stroke-width="0"  shape-rendering="crispEdges"/>
<rect x="1082.56" y="468.98" width="1.17" height="2.6" fill="#fff" stroke="none" stroke-width="0"  shape-rendering="crispEdges"/>
<rect x="1082.56" y="472.38" width="1.17" height="2.6" fill="#fff" stroke="none" stroke-width="0"  shape-rendering="crispEdges"/>
<rect x="1084.63" y="462.18" width="1.17" height="2.6" fill="#fff" stroke="none" stroke-width="0"  shape-rendering="crispEdges"/>
<rect x="1084.63" y="465.58" width="1.17" height="2.6" fill="#fff" stroke="none" stroke-width="0"  shape-rendering="crispEdges"/>
<rect x="1084.63" y="468.98" width="1.17" height="2.6" fill="#fff" stroke="none" stroke-width="0"  shape-rendering="crispEdges"/>
<rect x="1084.63" y="472.38" width="1.17" height="2.6" fill="#fff" stroke="none" stroke-width="0"  shape-rendering="crispEdges"/>
<rect x="1086.7" y="462.18" width="1.17" height="2.6" fill="#fff" stroke="none" stroke-width="0"  shape-rendering="crispEdges"/>
<rect x="1086.7" y="465.58" width="1.17" height="2.6" fill="#fff" stroke="none" stroke-width="0"  shape-rendering="crispEdges"/>
<rect x="1086.7" y="468.98" width="1.17" height="2.6" fill="#fff" stroke="none" stroke-width="0"  shape-rendering="crispEdges"/>
<rect x="1086.7" y="472.38" width="1.17" height="2.6" fill="#fff" stroke="none" stroke-width="0"  shape-rendering="crispEdges"/>
<rect x="1088.77" y="462.18" width="1.17" height="2.6" fill="#fff" stroke="none" stroke-width="0"  shape-rendering="crispEdges"/>
<rect x="1088.77" y="465.58" width="1.17" height="2.6" fill="#fff" stroke="none" stroke-width="0"  shape-rendering="crispEdges"/>
<rect x="1088.77" y="468.98" width="1.17" height="2.6" fill="#fff" stroke="none" stroke-width="0"  shape-rendering="crispEdges"/>
<rect x="1088.77" y="472.38" width="1.17" height="2.6" fill="#fff" stroke="none" stroke-width="0"  shape-rendering="crispEdges"/>
<rect x="1090.84" y="462.18" width="1.17" height="2.6" fill="#fff" stroke="none" stroke-width="0"  shape-rendering="crispEdges"/>
<rect x="1090.84" y="465.58" width="1.17" height="2.6" fill="#fff" stroke="none" stroke-width="0"  shape-rendering="crispEdges"/>
<rect x="1090.84" y="468.98" width="1.17" height="2.6" fill="#fff" stroke="none" stroke-width="0"  shape-rendering="crispEdges"/>
<rect x="1090.84" y="472.38" width="1.17" height="2.6" fill="#fff" stroke="none" stroke-width="0"  shape-rendering="crispEdges"/>
<rect x="1085" y="446.86" width="6.74" height="8.36" fill="#0a0a0a" stroke="none" stroke-width="0"  shape-rendering="crispEdges"/>
<rect x="1092.41" y="449.82" width="1.75" height="25.61" fill="#0a0a0a" stroke="none" stroke-width="0"  shape-rendering="crispEdges"/>
<rect x="1094.16" y="452.25" width="16.44" height="22.51" fill="#fff" stroke="none" stroke-width="0"  shape-rendering="crispEdges"/>
<rect x="1097.8" y="450.09" width="12.8" height="2.16" fill="#0a0a0a" stroke="none" stroke-width="0"  shape-rendering="crispEdges"/>
<circle cx="1102.65" cy="467.21" r="1.62" fill="#fff" stroke="#0a0a0a" stroke-width="0.9"/>
<circle cx="1106.43" cy="467.21" r="1.62" fill="#fff" stroke="#0a0a0a" stroke-width="0.9"/>
<circle cx="1102.65" cy="470.98" r="1.62" fill="#fff" stroke="#0a0a0a" stroke-width="0.9"/>
<circle cx="1106.43" cy="470.98" r="1.62" fill="#fff" stroke="#0a0a0a" stroke-width="0.9"/>
<rect x="1103.19" y="455.89" width="4.72" height="1.35" fill="#0a0a0a" stroke="none" stroke-width="0"  shape-rendering="crispEdges"/>
<rect x="1110.61" y="450.09" width="2.02" height="25.34" fill="#0a0a0a" stroke="none" stroke-width="0"  shape-rendering="crispEdges"/>
<rect x="1112.63" y="455.22" width="30.32" height="19.54" fill="#fff" stroke="none" stroke-width="0"  shape-rendering="crispEdges"/>
<rect x="1116.67" y="450.9" width="35.71" height="4.31" fill="#0a0a0a" stroke="none" stroke-width="0"  shape-rendering="crispEdges"/>
<rect x="1119.37" y="451.98" width="3.5" height="2.29" fill="#fff" stroke="none" stroke-width="0"  shape-rendering="crispEdges"/>
<rect x="1125.43" y="451.98" width="3.5" height="2.29" fill="#fff" stroke="none" stroke-width="0"  shape-rendering="crispEdges"/>
<rect x="1131.5" y="451.98" width="3.5" height="2.29" fill="#fff" stroke="none" stroke-width="0"  shape-rendering="crispEdges"/>
<rect x="1138.23" y="451.98" width="3.5" height="2.29" fill="#fff" stroke="none" stroke-width="0"  shape-rendering="crispEdges"/>
<rect x="1144.3" y="451.98" width="3.5" height="2.29" fill="#fff" stroke="none" stroke-width="0"  shape-rendering="crispEdges"/>
<rect x="1113.38" y="460.01" width="12.66" height="4.57" fill="#0a0a0a" stroke="none" stroke-width="0"  shape-rendering="crispEdges"/>
<rect x="1114.48" y="461.06" width="2.82" height="2.47" fill="#fff" stroke="none" stroke-width="0"  shape-rendering="crispEdges"/>
<rect x="1118.29" y="461.06" width="2.82" height="2.47" fill="#fff" stroke="none" stroke-width="0"  shape-rendering="crispEdges"/>
<rect x="1122.11" y="461.06" width="2.82" height="2.47" fill="#fff" stroke="none" stroke-width="0"  shape-rendering="crispEdges"/>
<circle cx="1118.81" cy="467.47" r="1.05" fill="#fff" stroke="#0a0a0a" stroke-width="0.9"/>
<circle cx="1121.27" cy="467.47" r="1.05" fill="#fff" stroke="#0a0a0a" stroke-width="0.9"/>
<circle cx="1118.81" cy="469.92" r="1.05" fill="#fff" stroke="#0a0a0a" stroke-width="0.9"/>
<circle cx="1121.27" cy="469.92" r="1.05" fill="#fff" stroke="#0a0a0a" stroke-width="0.9"/>
<rect x="1114.65" y="473.41" width="10.78" height="2.02" fill="#0a0a0a" stroke="none" stroke-width="0"  shape-rendering="crispEdges"/>
<rect x="1116" y="474.08" width="8.09" height="0.81" fill="#fff" stroke="none" stroke-width="0"  shape-rendering="crispEdges"/>
<circle cx="1133.79" cy="466.67" r="6.33" fill="#fff" stroke="#0a0a0a" stroke-width="1.3"/>
<circle cx="1133.79" cy="466.67" r="4.69" fill="none" stroke="#0a0a0a" stroke-width="0.7"/>
<rect x="1131.38" y="463.5" width="4.81" height="6.33" fill="#fff" stroke="#0a0a0a" stroke-width="1.2" rx="0.6" />
<rect x="1142.68" y="459.26" width="3.23" height="16.17" fill="#0a0a0a" stroke="none" stroke-width="0"  shape-rendering="crispEdges"/>
<rect x="1145.92" y="459.93" width="33.42" height="14.82" fill="#fff" stroke="none" stroke-width="0"  shape-rendering="crispEdges"/>
<rect x="1152.39" y="451.85" width="25.61" height="7.68" fill="#0a0a0a" stroke="none" stroke-width="0"  shape-rendering="crispEdges"/>
<rect x="1155.08" y="453.87" width="8.09" height="4.31" fill="#fff" stroke="none" stroke-width="0"  shape-rendering="crispEdges"/>
<rect x="1165.86" y="453.87" width="10.78" height="4.31" fill="#fff" stroke="none" stroke-width="0"  shape-rendering="crispEdges"/>
<rect x="1158.45" y="453.87" width="1.35" height="4.31" fill="#0a0a0a" stroke="none" stroke-width="0"  shape-rendering="crispEdges"/>
<rect x="1168.56" y="455.22" width="6.74" height="1.08" fill="#0a0a0a" stroke="none" stroke-width="0"  shape-rendering="crispEdges"/>
<rect x="1151.31" y="464.51" width="8.36" height="7.01" fill="#fff" stroke="#0a0a0a" stroke-width="0.8"  shape-rendering="crispEdges"/>
<rect x="1163.98" y="464.51" width="8.36" height="7.01" fill="#fff" stroke="#0a0a0a" stroke-width="0.8"  shape-rendering="crispEdges"/>
<rect x="1159.66" y="463.01" width="4.31" height="10.01" fill="#0a0a0a" stroke="none" stroke-width="0"  shape-rendering="crispEdges"/>
<path d="M1155.9 465.92 L1159.66 468.02 L1155.9 470.12 Z" fill="#0a0a0a" stroke="none" stroke-width="0" />
<path d="M1167.74 465.92 L1163.98 468.02 L1167.74 470.12 Z" fill="#0a0a0a" stroke="none" stroke-width="0" />
<rect x="1179.34" y="455.22" width="3.77" height="20.22" fill="#0a0a0a" stroke="none" stroke-width="0"  shape-rendering="crispEdges"/>
<rect x="1183.11" y="454.54" width="17.79" height="20.22" fill="#fff" stroke="none" stroke-width="0"  shape-rendering="crispEdges"/>
<rect x="1181.77" y="450.9" width="16.71" height="2.96" fill="#0a0a0a" stroke="none" stroke-width="0"  shape-rendering="crispEdges"/>
<rect x="1186.75" y="460.61" width="10.11" height="3.37" fill="#fff" stroke="#0a0a0a" stroke-width="0.8"  shape-rendering="crispEdges"/>
<rect x="1186.75" y="467.35" width="10.11" height="4.04" fill="#fff" stroke="#0a0a0a" stroke-width="0.8"  shape-rendering="crispEdges"/>
<rect x="1197.53" y="455.22" width="3.1" height="19.54" fill="#0a0a0a" stroke="none" stroke-width="0"  shape-rendering="crispEdges"/>
<rect x="1198.21" y="455.22" width="1.89" height="2.16" fill="#fff" stroke="none" stroke-width="0"  shape-rendering="crispEdges"/>
<rect x="1198.21" y="461.28" width="1.89" height="2.16" fill="#fff" stroke="none" stroke-width="0"  shape-rendering="crispEdges"/>
<rect x="1198.21" y="467.35" width="1.89" height="2.16" fill="#fff" stroke="none" stroke-width="0"  shape-rendering="crispEdges"/>
<rect x="1198.21" y="472.06" width="1.89" height="2.16" fill="#fff" stroke="none" stroke-width="0"  shape-rendering="crispEdges"/>
<rect x="1188.1" y="456.56" width="5.39" height="1.08" fill="#0a0a0a" stroke="none" stroke-width="0"  shape-rendering="crispEdges"/>
<rect x="1201.17" y="444.7" width="17.92" height="30.05" fill="#fff" stroke="none" stroke-width="0"  shape-rendering="crispEdges"/>
<circle cx="1210.55" cy="450.71" r="0.97" fill="#fff" stroke="#0a0a0a" stroke-width="0.9"/>
<circle cx="1212.82" cy="450.71" r="0.97" fill="#fff" stroke="#0a0a0a" stroke-width="0.9"/>
<circle cx="1210.55" cy="452.98" r="0.97" fill="#fff" stroke="#0a0a0a" stroke-width="0.9"/>
<circle cx="1212.82" cy="452.98" r="0.97" fill="#fff" stroke="#0a0a0a" stroke-width="0.9"/>
<rect x="1206.37" y="455.96" width="12.25" height="4.16" fill="#0a0a0a" stroke="none" stroke-width="0"  shape-rendering="crispEdges"/>
<rect x="1207.47" y="457.01" width="2.68" height="2.06" fill="#fff" stroke="none" stroke-width="0"  shape-rendering="crispEdges"/>
<rect x="1211.15" y="457.01" width="2.68" height="2.06" fill="#fff" stroke="none" stroke-width="0"  shape-rendering="crispEdges"/>
<rect x="1214.84" y="457.01" width="2.68" height="2.06" fill="#fff" stroke="none" stroke-width="0"  shape-rendering="crispEdges"/>
<circle cx="1210.61" cy="468.69" r="6.47" fill="#fff" stroke="#0a0a0a" stroke-width="1.3"/>
<circle cx="1210.61" cy="468.69" r="4.79" fill="none" stroke="#0a0a0a" stroke-width="0.7"/>
<rect x="1208.15" y="465.46" width="4.92" height="6.47" fill="#fff" stroke="#0a0a0a" stroke-width="1.2" rx="0.6" />
<rect x="1206.97" y="444.7" width="10.78" height="2.43" fill="#0a0a0a" stroke="none" stroke-width="0"  shape-rendering="crispEdges"/>
<rect x="1208.32" y="445.51" width="8.09" height="1.08" fill="#fff" stroke="none" stroke-width="0"  shape-rendering="crispEdges"/>
<rect x="1219.1" y="443.09" width="12.8" height="33.69" fill="#0a0a0a" stroke="none" stroke-width="0"  shape-rendering="crispEdges"/>
<rect x="1221.39" y="446.46" width="1.08" height="2.02" fill="#fff" stroke="none" stroke-width="0"  shape-rendering="crispEdges"/>
<rect x="1224.08" y="446.46" width="1.08" height="2.02" fill="#fff" stroke="none" stroke-width="0"  shape-rendering="crispEdges"/>
<rect x="939.56" y="443.63" width="322.37" height="6.6" fill="#fff" stroke="none" stroke-width="0"  shape-rendering="crispEdges"/>
<rect x="982.95" y="446.32" width="3.77" height="1.21" fill="#0a0a0a" stroke="none" stroke-width="0"  shape-rendering="crispEdges"/>
<rect x="1017.72" y="445.78" width="3.5" height="2.96" fill="#0a0a0a" stroke="none" stroke-width="0"  shape-rendering="crispEdges"/>
<rect x="1018.53" y="446.46" width="1.62" height="1.48" fill="#fff" stroke="none" stroke-width="0"  shape-rendering="crispEdges"/>
<rect x="1054.11" y="446.86" width="2.43" height="3.37" fill="#0a0a0a" stroke="none" stroke-width="0"  shape-rendering="crispEdges"/>
<rect x="1082.01" y="445.78" width="8.09" height="6.74" fill="#fff" stroke="#0a0a0a" stroke-width="1.4" />
<rect x="1079.99" y="444.43" width="2.02" height="9.43" fill="#0a0a0a" stroke="none" stroke-width="0"  shape-rendering="crispEdges"/>
<rect x="1085" y="446.86" width="6.74" height="8.36" fill="#0a0a0a" stroke="none" stroke-width="0"  shape-rendering="crispEdges"/>
<rect x="1148.34" y="446.32" width="4.04" height="2.96" fill="#0a0a0a" stroke="none" stroke-width="0"  shape-rendering="crispEdges"/>
<rect x="1149.42" y="446.99" width="1.62" height="1.48" fill="#fff" stroke="none" stroke-width="0"  shape-rendering="crispEdges"/>
<rect x="1112.63" y="447.8" width="2.29" height="2.43" fill="#0a0a0a" stroke="none" stroke-width="0"  shape-rendering="crispEdges"/>
<rect x="1206.97" y="444.7" width="10.78" height="2.7" fill="#0a0a0a" stroke="none" stroke-width="0"  shape-rendering="crispEdges"/>
<rect x="1208.32" y="445.51" width="8.09" height="1.21" fill="#fff" stroke="none" stroke-width="0"  shape-rendering="crispEdges"/>
<circle cx="1210.55" cy="450.71" r="0.97" fill="#fff" stroke="#0a0a0a" stroke-width="0.9"/>
<circle cx="1212.82" cy="450.71" r="0.97" fill="#fff" stroke="#0a0a0a" stroke-width="0.9"/>
<circle cx="1210.55" cy="452.98" r="0.97" fill="#fff" stroke="#0a0a0a" stroke-width="0.9"/>
<circle cx="1212.82" cy="452.98" r="0.97" fill="#fff" stroke="#0a0a0a" stroke-width="0.9"/>
<rect x="1219.1" y="443.09" width="12.8" height="8.09" fill="#0a0a0a" stroke="none" stroke-width="0"  shape-rendering="crispEdges"/>
<rect x="1221.39" y="446.46" width="1.08" height="2.02" fill="#fff" stroke="none" stroke-width="0"  shape-rendering="crispEdges"/>
<rect x="1224.08" y="446.46" width="1.08" height="2.02" fill="#fff" stroke="none" stroke-width="0"  shape-rendering="crispEdges"/>
<circle cx="970.15" cy="443.36" r="0.8" fill="#fff" stroke="#0a0a0a" stroke-width="0.5"/>
<circle cx="999.8" cy="443.36" r="0.8" fill="#fff" stroke="#0a0a0a" stroke-width="0.5"/>
<circle cx="1165.86" cy="444.43" r="0.8" fill="#fff" stroke="#0a0a0a" stroke-width="0.5"/>
<path d="M947.24 443.89 L938.48 450.23 L938.48 443.89 Z" fill="#fff" stroke="none" stroke-width="0" />
</g>
<line x1="947" y1="442.3" x2="937.6" y2="476.2" stroke="#0a0a0a" stroke-width="1.3" />
<line x1="947" y1="442.9" x2="1226.8" y2="444.2" stroke="#0a0a0a" stroke-width="1.1" />
<line x1="937.6" y1="476" x2="1231.4" y2="476.6" stroke="#0a0a0a" stroke-width="1.4" />
<rect x="941.85" y="476.78" width="2.2" height="31" fill="#0a0a0a" stroke="none" stroke-width="0"  shape-rendering="crispEdges"/>
<rect x="944.05" y="478.78" width="10.87" height="1.7" fill="#0a0a0a" stroke="none" stroke-width="0"  shape-rendering="crispEdges"/>
<rect x="944.05" y="481.98" width="9.67" height="1.7" fill="#0a0a0a" stroke="none" stroke-width="0"  shape-rendering="crispEdges"/>
<rect x="944.05" y="485.18" width="8.47" height="1.7" fill="#0a0a0a" stroke="none" stroke-width="0"  shape-rendering="crispEdges"/>
<rect x="944.05" y="488.38" width="10.87" height="1.7" fill="#0a0a0a" stroke="none" stroke-width="0"  shape-rendering="crispEdges"/>
<rect x="944.05" y="491.58" width="9.67" height="1.7" fill="#0a0a0a" stroke="none" stroke-width="0"  shape-rendering="crispEdges"/>
<rect x="944.05" y="494.78" width="8.47" height="1.7" fill="#0a0a0a" stroke="none" stroke-width="0"  shape-rendering="crispEdges"/>
<rect x="944.05" y="497.98" width="10.87" height="1.7" fill="#0a0a0a" stroke="none" stroke-width="0"  shape-rendering="crispEdges"/>
<rect x="944.05" y="501.18" width="9.67" height="1.7" fill="#0a0a0a" stroke="none" stroke-width="0"  shape-rendering="crispEdges"/>
<rect x="944.05" y="504.38" width="8.47" height="1.7" fill="#0a0a0a" stroke="none" stroke-width="0"  shape-rendering="crispEdges"/>
<rect x="945.25" y="479.08" width="1.8" height="1.1" fill="#fff" stroke="none" stroke-width="0"  shape-rendering="crispEdges"/>
<rect x="945.25" y="482.28" width="1.8" height="1.1" fill="#fff" stroke="none" stroke-width="0"  shape-rendering="crispEdges"/>
<rect x="945.25" y="485.48" width="1.8" height="1.1" fill="#fff" stroke="none" stroke-width="0"  shape-rendering="crispEdges"/>
<rect x="945.25" y="488.68" width="1.8" height="1.1" fill="#fff" stroke="none" stroke-width="0"  shape-rendering="crispEdges"/>
<rect x="945.25" y="491.88" width="1.8" height="1.1" fill="#fff" stroke="none" stroke-width="0"  shape-rendering="crispEdges"/>
<rect x="945.25" y="495.08" width="1.8" height="1.1" fill="#fff" stroke="none" stroke-width="0"  shape-rendering="crispEdges"/>
<rect x="945.25" y="498.28" width="1.8" height="1.1" fill="#fff" stroke="none" stroke-width="0"  shape-rendering="crispEdges"/>
<rect x="945.25" y="501.48" width="1.8" height="1.1" fill="#fff" stroke="none" stroke-width="0"  shape-rendering="crispEdges"/>
<rect x="945.25" y="504.68" width="1.8" height="1.1" fill="#fff" stroke="none" stroke-width="0"  shape-rendering="crispEdges"/>
<rect x="961.12" y="476.11" width="5.93" height="24.53" fill="#7fae7a" stroke="none" stroke-width="0"  shape-rendering="crispEdges"/>
<rect x="961.12" y="480.82" width="5.93" height="0.81" fill="#b9d6b4" stroke="none" stroke-width="0"  shape-rendering="crispEdges"/>
<rect x="961.12" y="486.89" width="5.93" height="0.81" fill="#b9d6b4" stroke="none" stroke-width="0"  shape-rendering="crispEdges"/>
<rect x="961.12" y="492.95" width="5.93" height="0.81" fill="#b9d6b4" stroke="none" stroke-width="0"  shape-rendering="crispEdges"/>
<rect x="976.21" y="484.19" width="15.09" height="16.44" fill="#f1d48a" stroke="none" stroke-width="0"  shape-rendering="crispEdges"/>
<rect x="991.31" y="486.21" width="9.16" height="12.13" fill="#fbf0cf" stroke="none" stroke-width="0"  shape-rendering="crispEdges"/>
<ellipse cx="985.65" cy="492.28" rx="4.6" ry="7.6" fill="#fff" stroke="#0a0a0a" stroke-width="1.1"/>
<rect x="983.85" y="486.78" width="3.6" height="11" fill="#0a0a0a" stroke="none" stroke-width="0"  shape-rendering="crispEdges"/>
<rect x="984.75" y="488.28" width="1.8" height="2.5" fill="#fff" stroke="none" stroke-width="0"  shape-rendering="crispEdges"/>
<rect x="984.75" y="493.78" width="1.8" height="2.5" fill="#fff" stroke="none" stroke-width="0"  shape-rendering="crispEdges"/>
<circle cx="998.05" cy="488.5" r="3.1" fill="#3a2f22" stroke="#0a0a0a" stroke-width="0"/>
<circle cx="998.05" cy="488.5" r="1.3" fill="#8a7a5a" stroke="#0a0a0a" stroke-width="0"/>
<circle cx="998.05" cy="495.92" r="3.1" fill="#3a2f22" stroke="#0a0a0a" stroke-width="0"/>
<circle cx="998.05" cy="495.92" r="1.3" fill="#8a7a5a" stroke="#0a0a0a" stroke-width="0"/>
<circle cx="1010.18" cy="492.28" r="3.1" fill="#3a2f22" stroke="#0a0a0a" stroke-width="0"/>
<circle cx="1010.18" cy="492.28" r="1.3" fill="#8a7a5a" stroke="#0a0a0a" stroke-width="0"/>
<path d="M1028.1 488.23 L1031.47 488.23 L1031.47 483.79 L1054.38 483.79 L1059.77 486.21 L1059.77 498.34 L1051.68 498.34 L1051.68 500.63 L1028.1 497.67 Z" fill="#8a7a55" stroke="none" stroke-width="0" />
<rect x="1032.82" y="486.89" width="18.87" height="8.76" fill="#cfc5a8" stroke="none" stroke-width="0"  shape-rendering="crispEdges"/>
<path d="M1038.88 482.84 L1035.11 494.3 L1042.65 494.3 Z" fill="#15120c" stroke="none" stroke-width="0" />
<path d="M1051.68 482.17 L1047.91 493.63 L1055.46 493.63 Z" fill="#15120c" stroke="none" stroke-width="0" />
<circle cx="1058.42" cy="496.59" r="1.6" fill="#222" stroke="#0a0a0a" stroke-width="0"/>
<circle cx="1032.82" cy="494.3" r="1.1" fill="#222" stroke="#0a0a0a" stroke-width="0"/>
<circle cx="1042.25" cy="494.3" r="1.1" fill="#222" stroke="#0a0a0a" stroke-width="0"/>
<rect x="1073.92" y="489.58" width="25.9" height="5.39" fill="#0a0a0a" stroke="none" stroke-width="0"  shape-rendering="crispEdges"/>
<path d="M1112.63 484.19 L1121.39 484.19 L1121.39 486.89 L1145.65 486.89 L1145.65 497.67 L1141.6 501.04 L1116 501.04 L1112.63 497.67 Z" fill="#9a8a62" stroke="none" stroke-width="0" />
<rect x="1122.06" y="487.83" width="22.24" height="9.43" fill="#e4ddc8" stroke="none" stroke-width="0"  shape-rendering="crispEdges"/>
<path d="M1122.74 488.23 L1118.69 500.36 L1126.78 500.36 Z" fill="#15120c" stroke="none" stroke-width="0" />
<path d="M1135.13 490.26 L1131.09 502.39 L1139.18 502.39 Z" fill="#15120c" stroke="none" stroke-width="0" />
<rect x="1112.63" y="484.19" width="7.68" height="15.5" fill="#7d6c48" stroke="none" stroke-width="0"  shape-rendering="crispEdges"/>
<rect x="1158.18" y="489.99" width="12.67" height="4.99" fill="#0a0a0a" stroke="none" stroke-width="0"  shape-rendering="crispEdges"/>
<line x1="1197.53" y1="476.78" x2="1197.53" y2="508.45" stroke="#0a0a0a" stroke-width="0.9"  shape-rendering="crispEdges"/>
<path d="M1197.53 491.6 L1194.16 493.22 L1192.82 496.32 L1197.53 497.26" fill="none" stroke="#0a0a0a" stroke-width="0.8" />
<line x1="1214.38" y1="476.78" x2="1214.38" y2="497.67" stroke="#0a0a0a" stroke-width="0.8"  shape-rendering="crispEdges"/>
<line x1="1219.77" y1="476.78" x2="1219.77" y2="497.67" stroke="#0a0a0a" stroke-width="0.8"  shape-rendering="crispEdges"/>
<line x1="1225.84" y1="476.78" x2="1225.84" y2="497.67" stroke="#0a0a0a" stroke-width="0.8"  shape-rendering="crispEdges"/>
<line x1="1231.23" y1="476.78" x2="1232.17" y2="498.34" stroke="#0a0a0a" stroke-width="0.8" />
<rect x="1205.62" y="497.94" width="26.55" height="10.11" fill="#fff" stroke="#0a0a0a" stroke-width="0.9"  shape-rendering="crispEdges"/>
</g>
<clipPath id="cpL"><path d="M935.9 507.8 L1232.5 507.8 L1236 540 L1244 597.8 L1241 606 L1231.7 618 L1207 618 L1207 623.6 L947.8 623.6 L935.6 612.5 Z"/></clipPath>
<g clip-path="url(#cpL)">
<rect x="930" y="504" width="320" height="126" fill="#0a0a0a" stroke="none" stroke-width="0"  shape-rendering="crispEdges"/>
<g><rect x="930" y="504" width="165" height="67" fill="#0a0a0a" stroke="none" stroke-width="0"  shape-rendering="crispEdges"/>
<rect x="937.83" y="509.87" width="16.3" height="15.65" fill="#fff" stroke="none" stroke-width="0"  shape-rendering="crispEdges"/>
<rect x="942.65" y="512.74" width="7.3" height="6.65" fill="#fff" stroke="#0a0a0a" stroke-width="1.3"  shape-rendering="crispEdges"/>
<rect x="946.3" y="520.3" width="5.22" height="1.17" fill="#0a0a0a" stroke="none" stroke-width="0"  shape-rendering="crispEdges"/>
<rect x="937.83" y="523.56" width="6.52" height="1.96" fill="#0a0a0a" stroke="none" stroke-width="0"  shape-rendering="crispEdges"/>
<rect x="937.83" y="526.17" width="3.91" height="5.87" fill="#fff" stroke="none" stroke-width="0"  shape-rendering="crispEdges"/>
<rect x="943.04" y="527.48" width="7.83" height="2.61" fill="#fff" stroke="none" stroke-width="0"  shape-rendering="crispEdges"/>
<rect x="958.04" y="509.87" width="13.04" height="18.26" fill="#fff" stroke="none" stroke-width="0"  shape-rendering="crispEdges"/>
<rect x="961.96" y="512.61" width="7.17" height="4.96" fill="#fff" stroke="#0a0a0a" stroke-width="0.9"  shape-rendering="crispEdges"/>
<rect x="961.96" y="519.65" width="7.17" height="4.96" fill="#fff" stroke="#0a0a0a" stroke-width="0.9"  shape-rendering="crispEdges"/>
<path d="M967.17 513.13 L970.69 515.09 L967.17 517.04 Z" fill="#0a0a0a" stroke="none" stroke-width="0" />
<path d="M967.17 520.17 L970.69 522.13 L967.17 524.09 Z" fill="#0a0a0a" stroke="none" stroke-width="0" />
<rect x="973.04" y="517.7" width="18.26" height="16.56" fill="#fff" stroke="none" stroke-width="0"  shape-rendering="crispEdges"/>
<rect x="974.4" y="519.05" width="4.72" height="12.29" fill="#0a0a0a" stroke="none" stroke-width="0"  shape-rendering="crispEdges"/>
<rect x="975.45" y="520.15" width="2.62" height="2.7" fill="#fff" stroke="none" stroke-width="0"  shape-rendering="crispEdges"/>
<rect x="975.45" y="523.85" width="2.62" height="2.7" fill="#fff" stroke="none" stroke-width="0"  shape-rendering="crispEdges"/>
<rect x="975.45" y="527.54" width="2.62" height="2.7" fill="#fff" stroke="none" stroke-width="0"  shape-rendering="crispEdges"/>
<circle cx="981.78" cy="525.52" r="2.33" fill="#fff" stroke="#0a0a0a" stroke-width="1.0"/>
<circle cx="981.12" cy="525.52" r="0.93" fill="#fff" stroke="#0a0a0a" stroke-width="0.7"/>
<circle cx="982.56" cy="524.86" r="0.8" fill="#fff" stroke="#0a0a0a" stroke-width="0.7"/>
<circle cx="982.56" cy="526.3" r="0.8" fill="#fff" stroke="#0a0a0a" stroke-width="0.7"/>
<rect x="989.35" y="517.7" width="1.96" height="11.09" fill="#0a0a0a" stroke="none" stroke-width="0"  shape-rendering="crispEdges"/>
<rect x="990" y="519.65" width="0.78" height="3.91" fill="#fff" stroke="none" stroke-width="0"  shape-rendering="crispEdges"/>
<rect x="972.39" y="516.78" width="5.22" height="1.04" fill="#fff" stroke="none" stroke-width="0"  shape-rendering="crispEdges"/>
<rect x="991.95" y="509.87" width="31.96" height="18.91" fill="#fff" stroke="none" stroke-width="0"  shape-rendering="crispEdges"/>
<rect x="998.8" y="514.6" width="7.4" height="6.2" fill="#fff" stroke="#0a0a0a" stroke-width="1.3"  shape-rendering="crispEdges"/>
<rect x="1009.8" y="514.6" width="7.4" height="6.2" fill="#fff" stroke="#0a0a0a" stroke-width="1.3"  shape-rendering="crispEdges"/>
<rect x="1006.4" y="512.4" width="3.2" height="10.6" fill="#0a0a0a" stroke="none" stroke-width="0"  shape-rendering="crispEdges"/>
<rect x="1007.7" y="512.4" width="0.6" height="10.6" fill="#fff" stroke="none" stroke-width="0"  shape-rendering="crispEdges"/>
<path d="M1002.5 515.34 L1006.2 517.7 L1002.5 520.05 Z" fill="#0a0a0a" stroke="none" stroke-width="0" />
<path d="M1013.5 515.34 L1009.8 517.7 L1013.5 520.05 Z" fill="#0a0a0a" stroke="none" stroke-width="0" />
<rect x="997.17" y="524.22" width="5.87" height="1.3" fill="#0a0a0a" stroke="none" stroke-width="0"  shape-rendering="crispEdges"/>
<rect x="1014.78" y="524.22" width="5.48" height="1.3" fill="#0a0a0a" stroke="none" stroke-width="0"  shape-rendering="crispEdges"/>
<rect x="991.95" y="528.78" width="5.87" height="3.26" fill="#fff" stroke="none" stroke-width="0"  shape-rendering="crispEdges"/>
<rect x="1020" y="528.78" width="7.17" height="3.26" fill="#fff" stroke="none" stroke-width="0"  shape-rendering="crispEdges"/>
<circle cx="1034.34" cy="513.39" r="1.5" fill="#fff" stroke="#0a0a0a" stroke-width="0"/>
<circle cx="1056.12" cy="513.39" r="1.5" fill="#fff" stroke="#0a0a0a" stroke-width="0"/>
<rect x="1039.56" y="513.13" width="5.87" height="0.78" fill="#999" stroke="none" stroke-width="0"  shape-rendering="crispEdges"/>
<rect x="1065.65" y="513.13" width="3.26" height="0.78" fill="#888" stroke="none" stroke-width="0"  shape-rendering="crispEdges"/>
<rect x="1029.78" y="520.3" width="19.17" height="13.43" fill="#fff" stroke="none" stroke-width="0"  shape-rendering="crispEdges"/>
<circle cx="1041.52" cy="526.17" r="2.33" fill="#fff" stroke="#0a0a0a" stroke-width="1.0"/>
<circle cx="1040.85" cy="526.17" r="0.93" fill="#fff" stroke="#0a0a0a" stroke-width="0.7"/>
<circle cx="1042.29" cy="525.51" r="0.8" fill="#fff" stroke="#0a0a0a" stroke-width="0.7"/>
<circle cx="1042.29" cy="526.95" r="0.8" fill="#fff" stroke="#0a0a0a" stroke-width="0.7"/>
<rect x="1044.18" y="520.36" width="4.59" height="12.29" fill="#0a0a0a" stroke="none" stroke-width="0"  shape-rendering="crispEdges"/>
<rect x="1045.23" y="521.46" width="2.49" height="2.7" fill="#fff" stroke="none" stroke-width="0"  shape-rendering="crispEdges"/>
<rect x="1045.23" y="525.15" width="2.49" height="2.7" fill="#fff" stroke="none" stroke-width="0"  shape-rendering="crispEdges"/>
<rect x="1045.23" y="528.85" width="2.49" height="2.7" fill="#fff" stroke="none" stroke-width="0"  shape-rendering="crispEdges"/>
<rect x="1026.52" y="530.74" width="6.52" height="3.91" fill="#fff" stroke="none" stroke-width="0"  shape-rendering="crispEdges"/>
<rect x="1051.3" y="520.3" width="19.3" height="17.87" fill="#fff" stroke="none" stroke-width="0"  shape-rendering="crispEdges"/>
<rect x="1052" y="522.96" width="4.2" height="12.94" fill="#0a0a0a" stroke="none" stroke-width="0"  shape-rendering="crispEdges"/>
<rect x="1053.05" y="524.06" width="2.1" height="2.91" fill="#fff" stroke="none" stroke-width="0"  shape-rendering="crispEdges"/>
<rect x="1053.05" y="527.98" width="2.1" height="2.91" fill="#fff" stroke="none" stroke-width="0"  shape-rendering="crispEdges"/>
<rect x="1053.05" y="531.89" width="2.1" height="2.91" fill="#fff" stroke="none" stroke-width="0"  shape-rendering="crispEdges"/>
<circle cx="1059.12" cy="529.43" r="2.33" fill="#fff" stroke="#0a0a0a" stroke-width="1.0"/>
<circle cx="1058.46" cy="529.43" r="0.93" fill="#fff" stroke="#0a0a0a" stroke-width="0.7"/>
<circle cx="1059.9" cy="528.77" r="0.8" fill="#fff" stroke="#0a0a0a" stroke-width="0.7"/>
<circle cx="1059.9" cy="530.21" r="0.8" fill="#fff" stroke="#0a0a0a" stroke-width="0.7"/>
<rect x="1068.25" y="523.56" width="3.91" height="11.74" fill="#fff" stroke="none" stroke-width="0"  shape-rendering="crispEdges"/>
<line x1="1049.86" y1="519.65" x2="1049.86" y2="560.08" stroke="#0a0a0a" stroke-width="2.2" />
<line x1="972" y1="517.04" x2="972" y2="562.69" stroke="#0a0a0a" stroke-width="1.4" />
<rect x="1073.47" y="509.22" width="21.52" height="15.65" fill="#fff" stroke="none" stroke-width="0"  shape-rendering="crispEdges"/>
<rect x="1080.31" y="513.94" width="7.4" height="6.2" fill="#fff" stroke="#0a0a0a" stroke-width="1.3"  shape-rendering="crispEdges"/>
<rect x="1091.31" y="513.94" width="7.4" height="6.2" fill="#fff" stroke="#0a0a0a" stroke-width="1.3"  shape-rendering="crispEdges"/>
<rect x="1087.91" y="511.74" width="3.2" height="10.6" fill="#0a0a0a" stroke="none" stroke-width="0"  shape-rendering="crispEdges"/>
<rect x="1089.21" y="511.74" width="0.6" height="10.6" fill="#fff" stroke="none" stroke-width="0"  shape-rendering="crispEdges"/>
<path d="M1084.01 514.69 L1087.71 517.04 L1084.01 519.4 Z" fill="#0a0a0a" stroke="none" stroke-width="0" />
<path d="M1095.01 514.69 L1091.31 517.04 L1095.01 519.4 Z" fill="#0a0a0a" stroke="none" stroke-width="0" />
<rect x="1077.38" y="524.87" width="5.87" height="1.96" fill="#fff" stroke="none" stroke-width="0"  shape-rendering="crispEdges"/>
<circle cx="942.65" cy="538.82" r="1.3" fill="#fff" stroke="#0a0a0a" stroke-width="0"/>
<rect x="952.17" y="532.04" width="19.56" height="30.91" fill="#fff" stroke="none" stroke-width="0"  shape-rendering="crispEdges"/>
<rect x="955.49" y="536.66" width="5.9" height="12.94" fill="#0a0a0a" stroke="none" stroke-width="0"  shape-rendering="crispEdges"/>
<rect x="956.54" y="537.76" width="3.8" height="2.91" fill="#fff" stroke="none" stroke-width="0"  shape-rendering="crispEdges"/>
<rect x="956.54" y="541.67" width="3.8" height="2.91" fill="#fff" stroke="none" stroke-width="0"  shape-rendering="crispEdges"/>
<rect x="956.54" y="545.59" width="3.8" height="2.91" fill="#fff" stroke="none" stroke-width="0"  shape-rendering="crispEdges"/>
<circle cx="963.65" cy="542.22" r="2.19" fill="#fff" stroke="#0a0a0a" stroke-width="1.0"/>
<circle cx="963.02" cy="542.22" r="0.88" fill="#fff" stroke="#0a0a0a" stroke-width="0.7"/>
<circle cx="964.38" cy="541.59" r="0.75" fill="#fff" stroke="#0a0a0a" stroke-width="0.7"/>
<circle cx="964.38" cy="542.95" r="0.75" fill="#fff" stroke="#0a0a0a" stroke-width="0.7"/>
<rect x="958.04" y="554.35" width="11.09" height="1.04" fill="#0a0a0a" stroke="none" stroke-width="0"  shape-rendering="crispEdges"/>
<rect x="961.96" y="558.78" width="3.26" height="1.83" fill="#0a0a0a" stroke="none" stroke-width="0"  shape-rendering="crispEdges"/>
<rect x="954.13" y="532.04" width="17.61" height="2.22" fill="#0a0a0a" stroke="none" stroke-width="0"  shape-rendering="crispEdges"/>
<rect x="956.09" y="528.78" width="15.65" height="2.87" fill="#fff" stroke="none" stroke-width="0"  shape-rendering="crispEdges"/>
<rect x="937.17" y="550.95" width="16.04" height="13.7" fill="#fff" stroke="none" stroke-width="0"  shape-rendering="crispEdges"/>
<circle cx="945" cy="557.48" r="6.52" fill="#fff" stroke="#0a0a0a" stroke-width="1.3"/>
<circle cx="945" cy="557.48" r="4.7" fill="none" stroke="#0a0a0a" stroke-width="0.7"/>
<rect x="942.65" y="554.22" width="4.7" height="6.52" fill="#fff" stroke="#0a0a0a" stroke-width="1.3" rx="0.6" />
<rect x="951.52" y="543.13" width="1.96" height="7.83" fill="#fff" stroke="none" stroke-width="0"  shape-rendering="crispEdges"/>
<rect x="972.39" y="532.04" width="15.26" height="12.65" fill="#fff" stroke="none" stroke-width="0"  shape-rendering="crispEdges"/>
<circle cx="978.52" cy="538.96" r="6.26" fill="#fff" stroke="#0a0a0a" stroke-width="1.3"/>
<circle cx="978.52" cy="538.96" r="4.51" fill="none" stroke="#0a0a0a" stroke-width="0.7"/>
<rect x="976.27" y="535.82" width="4.51" height="6.26" fill="#fff" stroke="#0a0a0a" stroke-width="1.3" rx="0.6" />
<rect x="984.78" y="541.82" width="10.43" height="1.3" fill="#0a0a0a" stroke="none" stroke-width="0"  shape-rendering="crispEdges"/>
<rect x="972.39" y="547.04" width="11.74" height="15.26" fill="#fff" stroke="none" stroke-width="0"  shape-rendering="crispEdges"/>
<rect x="973.04" y="547.69" width="10.7" height="14.35" fill="#0a0a0a" stroke="none" stroke-width="0"  shape-rendering="crispEdges"/>
<rect x="974.09" y="549.91" width="2.3" height="1.9" fill="#fff" stroke="none" stroke-width="0"  shape-rendering="crispEdges"/>
<rect x="974.09" y="552.91" width="2.3" height="1.9" fill="#fff" stroke="none" stroke-width="0"  shape-rendering="crispEdges"/>
<rect x="974.09" y="555.91" width="2.3" height="1.9" fill="#fff" stroke="none" stroke-width="0"  shape-rendering="crispEdges"/>
<rect x="974.09" y="558.91" width="2.3" height="1.9" fill="#fff" stroke="none" stroke-width="0"  shape-rendering="crispEdges"/>
<rect x="977.35" y="549.91" width="2.3" height="1.9" fill="#fff" stroke="none" stroke-width="0"  shape-rendering="crispEdges"/>
<rect x="977.35" y="552.91" width="2.3" height="1.9" fill="#fff" stroke="none" stroke-width="0"  shape-rendering="crispEdges"/>
<rect x="977.35" y="555.91" width="2.3" height="1.9" fill="#fff" stroke="none" stroke-width="0"  shape-rendering="crispEdges"/>
<rect x="977.35" y="558.91" width="2.3" height="1.9" fill="#fff" stroke="none" stroke-width="0"  shape-rendering="crispEdges"/>
<rect x="980.61" y="549.91" width="2.3" height="1.9" fill="#fff" stroke="none" stroke-width="0"  shape-rendering="crispEdges"/>
<rect x="980.61" y="552.91" width="2.3" height="1.9" fill="#fff" stroke="none" stroke-width="0"  shape-rendering="crispEdges"/>
<rect x="980.61" y="555.91" width="2.3" height="1.9" fill="#fff" stroke="none" stroke-width="0"  shape-rendering="crispEdges"/>
<rect x="980.61" y="558.91" width="2.3" height="1.9" fill="#fff" stroke="none" stroke-width="0"  shape-rendering="crispEdges"/>
<rect x="975.65" y="548.35" width="5.87" height="1.04" fill="#fff" stroke="none" stroke-width="0"  shape-rendering="crispEdges"/>
<rect x="984.78" y="545.09" width="11.48" height="16.3" fill="#fff" stroke="none" stroke-width="0"  shape-rendering="crispEdges"/>
<circle cx="987.39" cy="558.13" r="2.2" fill="#fff" stroke="#0a0a0a" stroke-width="0.8"/>
<rect x="991.3" y="535.3" width="5.22" height="4.57" fill="#fff" stroke="none" stroke-width="0"  shape-rendering="crispEdges"/>
<rect x="991.95" y="536.35" width="1.96" height="2.61" fill="#0a0a0a" stroke="none" stroke-width="0"  shape-rendering="crispEdges"/>
<rect x="997.3" y="536.61" width="2.35" height="2.35" fill="#fff" stroke="none" stroke-width="0"  shape-rendering="crispEdges"/>
<rect x="997.3" y="541.82" width="2.35" height="2.35" fill="#fff" stroke="none" stroke-width="0"  shape-rendering="crispEdges"/>
<rect x="997.3" y="547.04" width="2.35" height="2.35" fill="#fff" stroke="none" stroke-width="0"  shape-rendering="crispEdges"/>
<rect x="997.3" y="552.26" width="2.35" height="2.35" fill="#fff" stroke="none" stroke-width="0"  shape-rendering="crispEdges"/>
<rect x="997.3" y="557.48" width="2.35" height="2.35" fill="#fff" stroke="none" stroke-width="0"  shape-rendering="crispEdges"/>
<rect x="1001.74" y="546" width="14.61" height="15.13" fill="#fff" stroke="#0a0a0a" stroke-width="0.9"  shape-rendering="crispEdges"/>
<line x1="1001.74" y1="546" x2="1016.34" y2="561.13" stroke="#0a0a0a" stroke-width="0.9" />
<line x1="1001.74" y1="561.13" x2="1016.34" y2="546" stroke="#0a0a0a" stroke-width="0.9" />
<rect x="1001.08" y="539.22" width="6.13" height="4.7" fill="#fff" stroke="none" stroke-width="0"  shape-rendering="crispEdges"/>
<rect x="1010.87" y="539.22" width="6.13" height="4.7" fill="#fff" stroke="none" stroke-width="0"  shape-rendering="crispEdges"/>
<rect x="1002.39" y="530.74" width="5.87" height="4.57" fill="#fff" stroke="none" stroke-width="0"  shape-rendering="crispEdges"/>
<rect x="1013.47" y="532.04" width="7.83" height="2.61" fill="#fff" stroke="none" stroke-width="0"  shape-rendering="crispEdges"/>
<rect x="1021.3" y="536.61" width="7.83" height="5.22" fill="#fff" stroke="none" stroke-width="0"  shape-rendering="crispEdges"/>
<path d="M1021.3 541.82 L1029.13 541.82 L1029.13 536.61 Z" fill="#0a0a0a" stroke="none" stroke-width="0" />
<rect x="1018.69" y="546.65" width="12.39" height="14.74" fill="#fff" stroke="none" stroke-width="0"  shape-rendering="crispEdges"/>
<rect x="1022.87" y="551.22" width="7.3" height="6.78" fill="#fff" stroke="#0a0a0a" stroke-width="1.1"  shape-rendering="crispEdges"/>
<rect x="1024.95" y="552.91" width="3.13" height="1.3" fill="#0a0a0a" stroke="none" stroke-width="0"  shape-rendering="crispEdges"/>
<rect x="1033.3" y="538.17" width="2.61" height="2.35" fill="#fff" stroke="none" stroke-width="0"  shape-rendering="crispEdges"/>
<rect x="1033.3" y="543.13" width="2.61" height="2.35" fill="#fff" stroke="none" stroke-width="0"  shape-rendering="crispEdges"/>
<rect x="1033.3" y="548.35" width="2.61" height="2.35" fill="#fff" stroke="none" stroke-width="0"  shape-rendering="crispEdges"/>
<rect x="1033.3" y="553.3" width="2.61" height="2.35" fill="#fff" stroke="none" stroke-width="0"  shape-rendering="crispEdges"/>
<rect x="1033.3" y="558.13" width="2.61" height="2.35" fill="#fff" stroke="none" stroke-width="0"  shape-rendering="crispEdges"/>
<rect x="1037.21" y="520.3" width="11.74" height="36.13" fill="#fff" stroke="none" stroke-width="0"  shape-rendering="crispEdges"/>
<rect x="1044.18" y="520.36" width="4.59" height="12.29" fill="#0a0a0a" stroke="none" stroke-width="0"  shape-rendering="crispEdges"/>
<rect x="1045.23" y="521.46" width="2.49" height="2.7" fill="#fff" stroke="none" stroke-width="0"  shape-rendering="crispEdges"/>
<rect x="1045.23" y="525.15" width="2.49" height="2.7" fill="#fff" stroke="none" stroke-width="0"  shape-rendering="crispEdges"/>
<rect x="1045.23" y="528.85" width="2.49" height="2.7" fill="#fff" stroke="none" stroke-width="0"  shape-rendering="crispEdges"/>
<circle cx="1041.52" cy="526.17" r="2.33" fill="#fff" stroke="#0a0a0a" stroke-width="1.0"/>
<circle cx="1040.85" cy="526.17" r="0.93" fill="#fff" stroke="#0a0a0a" stroke-width="0.7"/>
<circle cx="1042.29" cy="525.51" r="0.8" fill="#fff" stroke="#0a0a0a" stroke-width="0.7"/>
<circle cx="1042.29" cy="526.95" r="0.8" fill="#fff" stroke="#0a0a0a" stroke-width="0.7"/>
<circle cx="1042.69" cy="546" r="6.52" fill="#fff" stroke="#0a0a0a" stroke-width="1.3"/>
<circle cx="1042.69" cy="546" r="4.7" fill="none" stroke="#0a0a0a" stroke-width="0.7"/>
<rect x="1040.34" y="542.74" width="4.7" height="6.52" fill="#fff" stroke="#0a0a0a" stroke-width="1.3" rx="0.6" />
<rect x="1040.21" y="535.96" width="7.83" height="0.78" fill="#0a0a0a" stroke="none" stroke-width="0"  shape-rendering="crispEdges"/>
<rect x="1051.3" y="520.3" width="19.3" height="39.13" fill="#fff" stroke="none" stroke-width="0"  shape-rendering="crispEdges"/>
<rect x="1052" y="522.96" width="4.2" height="12.94" fill="#0a0a0a" stroke="none" stroke-width="0"  shape-rendering="crispEdges"/>
<rect x="1053.05" y="524.06" width="2.1" height="2.91" fill="#fff" stroke="none" stroke-width="0"  shape-rendering="crispEdges"/>
<rect x="1053.05" y="527.98" width="2.1" height="2.91" fill="#fff" stroke="none" stroke-width="0"  shape-rendering="crispEdges"/>
<rect x="1053.05" y="531.89" width="2.1" height="2.91" fill="#fff" stroke="none" stroke-width="0"  shape-rendering="crispEdges"/>
<circle cx="1059.12" cy="529.43" r="2.33" fill="#fff" stroke="#0a0a0a" stroke-width="1.0"/>
<circle cx="1058.46" cy="529.43" r="0.93" fill="#fff" stroke="#0a0a0a" stroke-width="0.7"/>
<circle cx="1059.9" cy="528.77" r="0.8" fill="#fff" stroke="#0a0a0a" stroke-width="0.7"/>
<circle cx="1059.9" cy="530.21" r="0.8" fill="#fff" stroke="#0a0a0a" stroke-width="0.7"/>
<circle cx="1058.99" cy="548.09" r="6.65" fill="#fff" stroke="#0a0a0a" stroke-width="1.3"/>
<circle cx="1058.99" cy="548.09" r="4.79" fill="none" stroke="#0a0a0a" stroke-width="0.7"/>
<rect x="1056.6" y="544.76" width="4.79" height="6.65" fill="#fff" stroke="#0a0a0a" stroke-width="1.3" rx="0.6" />
<rect x="1056.52" y="538.69" width="10.3" height="0.78" fill="#0a0a0a" stroke="none" stroke-width="0"  shape-rendering="crispEdges"/>
<rect x="1044.78" y="554.22" width="7.17" height="8.48" fill="#fff" stroke="none" stroke-width="0"  shape-rendering="crispEdges"/>
<circle cx="1048.04" cy="558.78" r="3.5" fill="#fff" stroke="#0a0a0a" stroke-width="0.8"/>
<rect x="1073.99" y="523.69" width="21" height="17.48" fill="#fff" stroke="none" stroke-width="0"  shape-rendering="crispEdges"/>
<rect x="1077.12" y="524.87" width="17.87" height="4.43" fill="#0a0a0a" stroke="none" stroke-width="0"  shape-rendering="crispEdges"/>
<rect x="1088.21" y="523.69" width="2.61" height="17.48" fill="#0a0a0a" stroke="none" stroke-width="0"  shape-rendering="crispEdges"/>
<rect x="1078.09" y="533.66" width="9.81" height="5.11" fill="#0a0a0a" stroke="none" stroke-width="0"  shape-rendering="crispEdges"/>
<rect x="1079.19" y="534.71" width="3.3" height="3.01" fill="#fff" stroke="none" stroke-width="0"  shape-rendering="crispEdges"/>
<rect x="1083.49" y="534.71" width="3.3" height="3.01" fill="#fff" stroke="none" stroke-width="0"  shape-rendering="crispEdges"/>
<rect x="1074.78" y="530.09" width="1.57" height="6.52" fill="#0a0a0a" stroke="none" stroke-width="0"  shape-rendering="crispEdges"/>
<rect x="1079.99" y="530.74" width="6.52" height="0.91" fill="#0a0a0a" stroke="none" stroke-width="0"  shape-rendering="crispEdges"/>
<rect x="1073.99" y="541.17" width="21" height="15" fill="#fff" stroke="none" stroke-width="0"  shape-rendering="crispEdges"/>
<rect x="1078.69" y="542.74" width="16.3" height="11.87" fill="none" stroke="#0a0a0a" stroke-width="1.2"  shape-rendering="crispEdges"/>
<path d="M1087.17 543.78 L1079.99 548.61 L1087.17 553.56 Z" fill="#0a0a0a" stroke="none" stroke-width="0" />
<line x1="1079.99" y1="548.61" x2="1074.78" y2="548.61" stroke="#0a0a0a" stroke-width="1"  shape-rendering="crispEdges"/>
<rect x="1088.21" y="541.17" width="2.61" height="15" fill="#0a0a0a" stroke="none" stroke-width="0"  shape-rendering="crispEdges"/>
<rect x="973.04" y="562.95" width="76.3" height="5.22" fill="#fff" stroke="none" stroke-width="0"  shape-rendering="crispEdges"/>
<rect x="976.3" y="567.26" width="11.74" height="0.91" fill="#0a0a0a" stroke="none" stroke-width="0"  shape-rendering="crispEdges"/>
<rect x="989.35" y="568.43" width="56.74" height="1.57" fill="#fff" stroke="none" stroke-width="0"  shape-rendering="crispEdges"/>
<rect x="1008.26" y="568.17" width="5.22" height="1.83" fill="#0a0a0a" stroke="none" stroke-width="0"  shape-rendering="crispEdges"/>
<rect x="1033.04" y="568.17" width="5.22" height="1.83" fill="#0a0a0a" stroke="none" stroke-width="0"  shape-rendering="crispEdges"/>
<rect x="937.17" y="566.08" width="2.61" height="2.35" fill="#fff" stroke="none" stroke-width="0"  shape-rendering="crispEdges"/>
<rect x="942.13" y="566.08" width="2.61" height="2.35" fill="#fff" stroke="none" stroke-width="0"  shape-rendering="crispEdges"/>
<rect x="947.09" y="566.08" width="2.61" height="2.35" fill="#fff" stroke="none" stroke-width="0"  shape-rendering="crispEdges"/>
<rect x="952.04" y="566.08" width="2.61" height="2.35" fill="#fff" stroke="none" stroke-width="0"  shape-rendering="crispEdges"/>
<rect x="957" y="566.08" width="2.61" height="2.35" fill="#fff" stroke="none" stroke-width="0"  shape-rendering="crispEdges"/>
<rect x="961.96" y="566.08" width="2.61" height="2.35" fill="#fff" stroke="none" stroke-width="0"  shape-rendering="crispEdges"/>
<rect x="966.91" y="566.08" width="2.61" height="2.35" fill="#fff" stroke="none" stroke-width="0"  shape-rendering="crispEdges"/>
<rect x="1057.17" y="562.17" width="2.61" height="2.35" fill="#fff" stroke="none" stroke-width="0"  shape-rendering="crispEdges"/>
<rect x="1057.95" y="566.35" width="2.35" height="2.09" fill="#888" stroke="none" stroke-width="0"  shape-rendering="crispEdges"/>
<rect x="1061.86" y="562.17" width="2.61" height="2.35" fill="#fff" stroke="none" stroke-width="0"  shape-rendering="crispEdges"/>
<rect x="1062.65" y="566.35" width="2.35" height="2.09" fill="#fff" stroke="none" stroke-width="0"  shape-rendering="crispEdges"/>
<rect x="1066.56" y="562.17" width="2.61" height="2.35" fill="#fff" stroke="none" stroke-width="0"  shape-rendering="crispEdges"/>
<rect x="1067.34" y="566.35" width="2.35" height="2.09" fill="#888" stroke="none" stroke-width="0"  shape-rendering="crispEdges"/>
<rect x="1071.25" y="562.17" width="2.61" height="2.35" fill="#fff" stroke="none" stroke-width="0"  shape-rendering="crispEdges"/>
<rect x="1072.04" y="566.35" width="2.35" height="2.09" fill="#fff" stroke="none" stroke-width="0"  shape-rendering="crispEdges"/>
<rect x="1075.95" y="562.17" width="2.61" height="2.35" fill="#fff" stroke="none" stroke-width="0"  shape-rendering="crispEdges"/>
<rect x="1076.73" y="566.35" width="2.35" height="2.09" fill="#888" stroke="none" stroke-width="0"  shape-rendering="crispEdges"/>
<rect x="1082.34" y="559.04" width="14.35" height="14.09" fill="#fff" stroke="#0a0a0a" stroke-width="0.9"  shape-rendering="crispEdges"/>
<line x1="1082.34" y1="559.04" x2="1096.69" y2="573.13" stroke="#0a0a0a" stroke-width="0.9" />
<line x1="1082.34" y1="573.13" x2="1096.69" y2="559.04" stroke="#0a0a0a" stroke-width="0.9" /></g>
<g transform="translate(2179 0) scale(-1 1)"><rect x="930" y="504" width="165" height="67" fill="#0a0a0a" stroke="none" stroke-width="0"  shape-rendering="crispEdges"/>
<rect x="937.83" y="509.87" width="16.3" height="15.65" fill="#fff" stroke="none" stroke-width="0"  shape-rendering="crispEdges"/>
<rect x="942.65" y="512.74" width="7.3" height="6.65" fill="#fff" stroke="#0a0a0a" stroke-width="1.3"  shape-rendering="crispEdges"/>
<rect x="946.3" y="520.3" width="5.22" height="1.17" fill="#0a0a0a" stroke="none" stroke-width="0"  shape-rendering="crispEdges"/>
<rect x="937.83" y="523.56" width="6.52" height="1.96" fill="#0a0a0a" stroke="none" stroke-width="0"  shape-rendering="crispEdges"/>
<rect x="937.83" y="526.17" width="3.91" height="5.87" fill="#fff" stroke="none" stroke-width="0"  shape-rendering="crispEdges"/>
<rect x="943.04" y="527.48" width="7.83" height="2.61" fill="#fff" stroke="none" stroke-width="0"  shape-rendering="crispEdges"/>
<rect x="958.04" y="509.87" width="13.04" height="18.26" fill="#fff" stroke="none" stroke-width="0"  shape-rendering="crispEdges"/>
<rect x="961.96" y="512.61" width="7.17" height="4.96" fill="#fff" stroke="#0a0a0a" stroke-width="0.9"  shape-rendering="crispEdges"/>
<rect x="961.96" y="519.65" width="7.17" height="4.96" fill="#fff" stroke="#0a0a0a" stroke-width="0.9"  shape-rendering="crispEdges"/>
<path d="M967.17 513.13 L970.69 515.09 L967.17 517.04 Z" fill="#0a0a0a" stroke="none" stroke-width="0" />
<path d="M967.17 520.17 L970.69 522.13 L967.17 524.09 Z" fill="#0a0a0a" stroke="none" stroke-width="0" />
<rect x="973.04" y="517.7" width="18.26" height="16.56" fill="#fff" stroke="none" stroke-width="0"  shape-rendering="crispEdges"/>
<rect x="974.4" y="519.05" width="4.72" height="12.29" fill="#0a0a0a" stroke="none" stroke-width="0"  shape-rendering="crispEdges"/>
<rect x="975.45" y="520.15" width="2.62" height="2.7" fill="#fff" stroke="none" stroke-width="0"  shape-rendering="crispEdges"/>
<rect x="975.45" y="523.85" width="2.62" height="2.7" fill="#fff" stroke="none" stroke-width="0"  shape-rendering="crispEdges"/>
<rect x="975.45" y="527.54" width="2.62" height="2.7" fill="#fff" stroke="none" stroke-width="0"  shape-rendering="crispEdges"/>
<circle cx="981.78" cy="525.52" r="2.33" fill="#fff" stroke="#0a0a0a" stroke-width="1.0"/>
<circle cx="981.12" cy="525.52" r="0.93" fill="#fff" stroke="#0a0a0a" stroke-width="0.7"/>
<circle cx="982.56" cy="524.86" r="0.8" fill="#fff" stroke="#0a0a0a" stroke-width="0.7"/>
<circle cx="982.56" cy="526.3" r="0.8" fill="#fff" stroke="#0a0a0a" stroke-width="0.7"/>
<rect x="989.35" y="517.7" width="1.96" height="11.09" fill="#0a0a0a" stroke="none" stroke-width="0"  shape-rendering="crispEdges"/>
<rect x="990" y="519.65" width="0.78" height="3.91" fill="#fff" stroke="none" stroke-width="0"  shape-rendering="crispEdges"/>
<rect x="972.39" y="516.78" width="5.22" height="1.04" fill="#fff" stroke="none" stroke-width="0"  shape-rendering="crispEdges"/>
<rect x="991.95" y="509.87" width="31.96" height="18.91" fill="#fff" stroke="none" stroke-width="0"  shape-rendering="crispEdges"/>
<rect x="998.8" y="514.6" width="7.4" height="6.2" fill="#fff" stroke="#0a0a0a" stroke-width="1.3"  shape-rendering="crispEdges"/>
<rect x="1009.8" y="514.6" width="7.4" height="6.2" fill="#fff" stroke="#0a0a0a" stroke-width="1.3"  shape-rendering="crispEdges"/>
<rect x="1006.4" y="512.4" width="3.2" height="10.6" fill="#0a0a0a" stroke="none" stroke-width="0"  shape-rendering="crispEdges"/>
<rect x="1007.7" y="512.4" width="0.6" height="10.6" fill="#fff" stroke="none" stroke-width="0"  shape-rendering="crispEdges"/>
<path d="M1002.5 515.34 L1006.2 517.7 L1002.5 520.05 Z" fill="#0a0a0a" stroke="none" stroke-width="0" />
<path d="M1013.5 515.34 L1009.8 517.7 L1013.5 520.05 Z" fill="#0a0a0a" stroke="none" stroke-width="0" />
<rect x="997.17" y="524.22" width="5.87" height="1.3" fill="#0a0a0a" stroke="none" stroke-width="0"  shape-rendering="crispEdges"/>
<rect x="1014.78" y="524.22" width="5.48" height="1.3" fill="#0a0a0a" stroke="none" stroke-width="0"  shape-rendering="crispEdges"/>
<rect x="991.95" y="528.78" width="5.87" height="3.26" fill="#fff" stroke="none" stroke-width="0"  shape-rendering="crispEdges"/>
<rect x="1020" y="528.78" width="7.17" height="3.26" fill="#fff" stroke="none" stroke-width="0"  shape-rendering="crispEdges"/>
<circle cx="1034.34" cy="513.39" r="1.5" fill="#fff" stroke="#0a0a0a" stroke-width="0"/>
<circle cx="1056.12" cy="513.39" r="1.5" fill="#fff" stroke="#0a0a0a" stroke-width="0"/>
<rect x="1039.56" y="513.13" width="5.87" height="0.78" fill="#999" stroke="none" stroke-width="0"  shape-rendering="crispEdges"/>
<rect x="1065.65" y="513.13" width="3.26" height="0.78" fill="#888" stroke="none" stroke-width="0"  shape-rendering="crispEdges"/>
<rect x="1029.78" y="520.3" width="19.17" height="13.43" fill="#fff" stroke="none" stroke-width="0"  shape-rendering="crispEdges"/>
<circle cx="1041.52" cy="526.17" r="2.33" fill="#fff" stroke="#0a0a0a" stroke-width="1.0"/>
<circle cx="1040.85" cy="526.17" r="0.93" fill="#fff" stroke="#0a0a0a" stroke-width="0.7"/>
<circle cx="1042.29" cy="525.51" r="0.8" fill="#fff" stroke="#0a0a0a" stroke-width="0.7"/>
<circle cx="1042.29" cy="526.95" r="0.8" fill="#fff" stroke="#0a0a0a" stroke-width="0.7"/>
<rect x="1044.18" y="520.36" width="4.59" height="12.29" fill="#0a0a0a" stroke="none" stroke-width="0"  shape-rendering="crispEdges"/>
<rect x="1045.23" y="521.46" width="2.49" height="2.7" fill="#fff" stroke="none" stroke-width="0"  shape-rendering="crispEdges"/>
<rect x="1045.23" y="525.15" width="2.49" height="2.7" fill="#fff" stroke="none" stroke-width="0"  shape-rendering="crispEdges"/>
<rect x="1045.23" y="528.85" width="2.49" height="2.7" fill="#fff" stroke="none" stroke-width="0"  shape-rendering="crispEdges"/>
<rect x="1026.52" y="530.74" width="6.52" height="3.91" fill="#fff" stroke="none" stroke-width="0"  shape-rendering="crispEdges"/>
<rect x="1051.3" y="520.3" width="19.3" height="17.87" fill="#fff" stroke="none" stroke-width="0"  shape-rendering="crispEdges"/>
<rect x="1052" y="522.96" width="4.2" height="12.94" fill="#0a0a0a" stroke="none" stroke-width="0"  shape-rendering="crispEdges"/>
<rect x="1053.05" y="524.06" width="2.1" height="2.91" fill="#fff" stroke="none" stroke-width="0"  shape-rendering="crispEdges"/>
<rect x="1053.05" y="527.98" width="2.1" height="2.91" fill="#fff" stroke="none" stroke-width="0"  shape-rendering="crispEdges"/>
<rect x="1053.05" y="531.89" width="2.1" height="2.91" fill="#fff" stroke="none" stroke-width="0"  shape-rendering="crispEdges"/>
<circle cx="1059.12" cy="529.43" r="2.33" fill="#fff" stroke="#0a0a0a" stroke-width="1.0"/>
<circle cx="1058.46" cy="529.43" r="0.93" fill="#fff" stroke="#0a0a0a" stroke-width="0.7"/>
<circle cx="1059.9" cy="528.77" r="0.8" fill="#fff" stroke="#0a0a0a" stroke-width="0.7"/>
<circle cx="1059.9" cy="530.21" r="0.8" fill="#fff" stroke="#0a0a0a" stroke-width="0.7"/>
<rect x="1068.25" y="523.56" width="3.91" height="11.74" fill="#fff" stroke="none" stroke-width="0"  shape-rendering="crispEdges"/>
<line x1="1049.86" y1="519.65" x2="1049.86" y2="560.08" stroke="#0a0a0a" stroke-width="2.2" />
<line x1="972" y1="517.04" x2="972" y2="562.69" stroke="#0a0a0a" stroke-width="1.4" />
<rect x="1073.47" y="509.22" width="21.52" height="15.65" fill="#fff" stroke="none" stroke-width="0"  shape-rendering="crispEdges"/>
<rect x="1080.31" y="513.94" width="7.4" height="6.2" fill="#fff" stroke="#0a0a0a" stroke-width="1.3"  shape-rendering="crispEdges"/>
<rect x="1091.31" y="513.94" width="7.4" height="6.2" fill="#fff" stroke="#0a0a0a" stroke-width="1.3"  shape-rendering="crispEdges"/>
<rect x="1087.91" y="511.74" width="3.2" height="10.6" fill="#0a0a0a" stroke="none" stroke-width="0"  shape-rendering="crispEdges"/>
<rect x="1089.21" y="511.74" width="0.6" height="10.6" fill="#fff" stroke="none" stroke-width="0"  shape-rendering="crispEdges"/>
<path d="M1084.01 514.69 L1087.71 517.04 L1084.01 519.4 Z" fill="#0a0a0a" stroke="none" stroke-width="0" />
<path d="M1095.01 514.69 L1091.31 517.04 L1095.01 519.4 Z" fill="#0a0a0a" stroke="none" stroke-width="0" />
<rect x="1077.38" y="524.87" width="5.87" height="1.96" fill="#fff" stroke="none" stroke-width="0"  shape-rendering="crispEdges"/>
<circle cx="942.65" cy="538.82" r="1.3" fill="#fff" stroke="#0a0a0a" stroke-width="0"/>
<rect x="952.17" y="532.04" width="19.56" height="30.91" fill="#fff" stroke="none" stroke-width="0"  shape-rendering="crispEdges"/>
<rect x="955.49" y="536.66" width="5.9" height="12.94" fill="#0a0a0a" stroke="none" stroke-width="0"  shape-rendering="crispEdges"/>
<rect x="956.54" y="537.76" width="3.8" height="2.91" fill="#fff" stroke="none" stroke-width="0"  shape-rendering="crispEdges"/>
<rect x="956.54" y="541.67" width="3.8" height="2.91" fill="#fff" stroke="none" stroke-width="0"  shape-rendering="crispEdges"/>
<rect x="956.54" y="545.59" width="3.8" height="2.91" fill="#fff" stroke="none" stroke-width="0"  shape-rendering="crispEdges"/>
<circle cx="963.65" cy="542.22" r="2.19" fill="#fff" stroke="#0a0a0a" stroke-width="1.0"/>
<circle cx="963.02" cy="542.22" r="0.88" fill="#fff" stroke="#0a0a0a" stroke-width="0.7"/>
<circle cx="964.38" cy="541.59" r="0.75" fill="#fff" stroke="#0a0a0a" stroke-width="0.7"/>
<circle cx="964.38" cy="542.95" r="0.75" fill="#fff" stroke="#0a0a0a" stroke-width="0.7"/>
<rect x="958.04" y="554.35" width="11.09" height="1.04" fill="#0a0a0a" stroke="none" stroke-width="0"  shape-rendering="crispEdges"/>
<rect x="961.96" y="558.78" width="3.26" height="1.83" fill="#0a0a0a" stroke="none" stroke-width="0"  shape-rendering="crispEdges"/>
<rect x="954.13" y="532.04" width="17.61" height="2.22" fill="#0a0a0a" stroke="none" stroke-width="0"  shape-rendering="crispEdges"/>
<rect x="956.09" y="528.78" width="15.65" height="2.87" fill="#fff" stroke="none" stroke-width="0"  shape-rendering="crispEdges"/>
<rect x="937.17" y="550.95" width="16.04" height="13.7" fill="#fff" stroke="none" stroke-width="0"  shape-rendering="crispEdges"/>
<circle cx="945" cy="557.48" r="6.52" fill="#fff" stroke="#0a0a0a" stroke-width="1.3"/>
<circle cx="945" cy="557.48" r="4.7" fill="none" stroke="#0a0a0a" stroke-width="0.7"/>
<rect x="942.65" y="554.22" width="4.7" height="6.52" fill="#fff" stroke="#0a0a0a" stroke-width="1.3" rx="0.6" />
<rect x="951.52" y="543.13" width="1.96" height="7.83" fill="#fff" stroke="none" stroke-width="0"  shape-rendering="crispEdges"/>
<rect x="972.39" y="532.04" width="15.26" height="12.65" fill="#fff" stroke="none" stroke-width="0"  shape-rendering="crispEdges"/>
<circle cx="978.52" cy="538.96" r="6.26" fill="#fff" stroke="#0a0a0a" stroke-width="1.3"/>
<circle cx="978.52" cy="538.96" r="4.51" fill="none" stroke="#0a0a0a" stroke-width="0.7"/>
<rect x="976.27" y="535.82" width="4.51" height="6.26" fill="#fff" stroke="#0a0a0a" stroke-width="1.3" rx="0.6" />
<rect x="984.78" y="541.82" width="10.43" height="1.3" fill="#0a0a0a" stroke="none" stroke-width="0"  shape-rendering="crispEdges"/>
<rect x="972.39" y="547.04" width="11.74" height="15.26" fill="#fff" stroke="none" stroke-width="0"  shape-rendering="crispEdges"/>
<rect x="973.04" y="547.69" width="10.7" height="14.35" fill="#0a0a0a" stroke="none" stroke-width="0"  shape-rendering="crispEdges"/>
<rect x="974.09" y="549.91" width="2.3" height="1.9" fill="#fff" stroke="none" stroke-width="0"  shape-rendering="crispEdges"/>
<rect x="974.09" y="552.91" width="2.3" height="1.9" fill="#fff" stroke="none" stroke-width="0"  shape-rendering="crispEdges"/>
<rect x="974.09" y="555.91" width="2.3" height="1.9" fill="#fff" stroke="none" stroke-width="0"  shape-rendering="crispEdges"/>
<rect x="974.09" y="558.91" width="2.3" height="1.9" fill="#fff" stroke="none" stroke-width="0"  shape-rendering="crispEdges"/>
<rect x="977.35" y="549.91" width="2.3" height="1.9" fill="#fff" stroke="none" stroke-width="0"  shape-rendering="crispEdges"/>
<rect x="977.35" y="552.91" width="2.3" height="1.9" fill="#fff" stroke="none" stroke-width="0"  shape-rendering="crispEdges"/>
<rect x="977.35" y="555.91" width="2.3" height="1.9" fill="#fff" stroke="none" stroke-width="0"  shape-rendering="crispEdges"/>
<rect x="977.35" y="558.91" width="2.3" height="1.9" fill="#fff" stroke="none" stroke-width="0"  shape-rendering="crispEdges"/>
<rect x="980.61" y="549.91" width="2.3" height="1.9" fill="#fff" stroke="none" stroke-width="0"  shape-rendering="crispEdges"/>
<rect x="980.61" y="552.91" width="2.3" height="1.9" fill="#fff" stroke="none" stroke-width="0"  shape-rendering="crispEdges"/>
<rect x="980.61" y="555.91" width="2.3" height="1.9" fill="#fff" stroke="none" stroke-width="0"  shape-rendering="crispEdges"/>
<rect x="980.61" y="558.91" width="2.3" height="1.9" fill="#fff" stroke="none" stroke-width="0"  shape-rendering="crispEdges"/>
<rect x="975.65" y="548.35" width="5.87" height="1.04" fill="#fff" stroke="none" stroke-width="0"  shape-rendering="crispEdges"/>
<rect x="984.78" y="545.09" width="11.48" height="16.3" fill="#fff" stroke="none" stroke-width="0"  shape-rendering="crispEdges"/>
<circle cx="987.39" cy="558.13" r="2.2" fill="#fff" stroke="#0a0a0a" stroke-width="0.8"/>
<rect x="991.3" y="535.3" width="5.22" height="4.57" fill="#fff" stroke="none" stroke-width="0"  shape-rendering="crispEdges"/>
<rect x="991.95" y="536.35" width="1.96" height="2.61" fill="#0a0a0a" stroke="none" stroke-width="0"  shape-rendering="crispEdges"/>
<rect x="997.3" y="536.61" width="2.35" height="2.35" fill="#fff" stroke="none" stroke-width="0"  shape-rendering="crispEdges"/>
<rect x="997.3" y="541.82" width="2.35" height="2.35" fill="#fff" stroke="none" stroke-width="0"  shape-rendering="crispEdges"/>
<rect x="997.3" y="547.04" width="2.35" height="2.35" fill="#fff" stroke="none" stroke-width="0"  shape-rendering="crispEdges"/>
<rect x="997.3" y="552.26" width="2.35" height="2.35" fill="#fff" stroke="none" stroke-width="0"  shape-rendering="crispEdges"/>
<rect x="997.3" y="557.48" width="2.35" height="2.35" fill="#fff" stroke="none" stroke-width="0"  shape-rendering="crispEdges"/>
<rect x="1001.74" y="546" width="14.61" height="15.13" fill="#fff" stroke="#0a0a0a" stroke-width="0.9"  shape-rendering="crispEdges"/>
<line x1="1001.74" y1="546" x2="1016.34" y2="561.13" stroke="#0a0a0a" stroke-width="0.9" />
<line x1="1001.74" y1="561.13" x2="1016.34" y2="546" stroke="#0a0a0a" stroke-width="0.9" />
<rect x="1001.08" y="539.22" width="6.13" height="4.7" fill="#fff" stroke="none" stroke-width="0"  shape-rendering="crispEdges"/>
<rect x="1010.87" y="539.22" width="6.13" height="4.7" fill="#fff" stroke="none" stroke-width="0"  shape-rendering="crispEdges"/>
<rect x="1002.39" y="530.74" width="5.87" height="4.57" fill="#fff" stroke="none" stroke-width="0"  shape-rendering="crispEdges"/>
<rect x="1013.47" y="532.04" width="7.83" height="2.61" fill="#fff" stroke="none" stroke-width="0"  shape-rendering="crispEdges"/>
<rect x="1021.3" y="536.61" width="7.83" height="5.22" fill="#fff" stroke="none" stroke-width="0"  shape-rendering="crispEdges"/>
<path d="M1021.3 541.82 L1029.13 541.82 L1029.13 536.61 Z" fill="#0a0a0a" stroke="none" stroke-width="0" />
<rect x="1018.69" y="546.65" width="12.39" height="14.74" fill="#fff" stroke="none" stroke-width="0"  shape-rendering="crispEdges"/>
<rect x="1022.87" y="551.22" width="7.3" height="6.78" fill="#fff" stroke="#0a0a0a" stroke-width="1.1"  shape-rendering="crispEdges"/>
<rect x="1024.95" y="552.91" width="3.13" height="1.3" fill="#0a0a0a" stroke="none" stroke-width="0"  shape-rendering="crispEdges"/>
<rect x="1033.3" y="538.17" width="2.61" height="2.35" fill="#fff" stroke="none" stroke-width="0"  shape-rendering="crispEdges"/>
<rect x="1033.3" y="543.13" width="2.61" height="2.35" fill="#fff" stroke="none" stroke-width="0"  shape-rendering="crispEdges"/>
<rect x="1033.3" y="548.35" width="2.61" height="2.35" fill="#fff" stroke="none" stroke-width="0"  shape-rendering="crispEdges"/>
<rect x="1033.3" y="553.3" width="2.61" height="2.35" fill="#fff" stroke="none" stroke-width="0"  shape-rendering="crispEdges"/>
<rect x="1033.3" y="558.13" width="2.61" height="2.35" fill="#fff" stroke="none" stroke-width="0"  shape-rendering="crispEdges"/>
<rect x="1037.21" y="520.3" width="11.74" height="36.13" fill="#fff" stroke="none" stroke-width="0"  shape-rendering="crispEdges"/>
<rect x="1044.18" y="520.36" width="4.59" height="12.29" fill="#0a0a0a" stroke="none" stroke-width="0"  shape-rendering="crispEdges"/>
<rect x="1045.23" y="521.46" width="2.49" height="2.7" fill="#fff" stroke="none" stroke-width="0"  shape-rendering="crispEdges"/>
<rect x="1045.23" y="525.15" width="2.49" height="2.7" fill="#fff" stroke="none" stroke-width="0"  shape-rendering="crispEdges"/>
<rect x="1045.23" y="528.85" width="2.49" height="2.7" fill="#fff" stroke="none" stroke-width="0"  shape-rendering="crispEdges"/>
<circle cx="1041.52" cy="526.17" r="2.33" fill="#fff" stroke="#0a0a0a" stroke-width="1.0"/>
<circle cx="1040.85" cy="526.17" r="0.93" fill="#fff" stroke="#0a0a0a" stroke-width="0.7"/>
<circle cx="1042.29" cy="525.51" r="0.8" fill="#fff" stroke="#0a0a0a" stroke-width="0.7"/>
<circle cx="1042.29" cy="526.95" r="0.8" fill="#fff" stroke="#0a0a0a" stroke-width="0.7"/>
<circle cx="1042.69" cy="546" r="6.52" fill="#fff" stroke="#0a0a0a" stroke-width="1.3"/>
<circle cx="1042.69" cy="546" r="4.7" fill="none" stroke="#0a0a0a" stroke-width="0.7"/>
<rect x="1040.34" y="542.74" width="4.7" height="6.52" fill="#fff" stroke="#0a0a0a" stroke-width="1.3" rx="0.6" />
<rect x="1040.21" y="535.96" width="7.83" height="0.78" fill="#0a0a0a" stroke="none" stroke-width="0"  shape-rendering="crispEdges"/>
<rect x="1051.3" y="520.3" width="19.3" height="39.13" fill="#fff" stroke="none" stroke-width="0"  shape-rendering="crispEdges"/>
<rect x="1052" y="522.96" width="4.2" height="12.94" fill="#0a0a0a" stroke="none" stroke-width="0"  shape-rendering="crispEdges"/>
<rect x="1053.05" y="524.06" width="2.1" height="2.91" fill="#fff" stroke="none" stroke-width="0"  shape-rendering="crispEdges"/>
<rect x="1053.05" y="527.98" width="2.1" height="2.91" fill="#fff" stroke="none" stroke-width="0"  shape-rendering="crispEdges"/>
<rect x="1053.05" y="531.89" width="2.1" height="2.91" fill="#fff" stroke="none" stroke-width="0"  shape-rendering="crispEdges"/>
<circle cx="1059.12" cy="529.43" r="2.33" fill="#fff" stroke="#0a0a0a" stroke-width="1.0"/>
<circle cx="1058.46" cy="529.43" r="0.93" fill="#fff" stroke="#0a0a0a" stroke-width="0.7"/>
<circle cx="1059.9" cy="528.77" r="0.8" fill="#fff" stroke="#0a0a0a" stroke-width="0.7"/>
<circle cx="1059.9" cy="530.21" r="0.8" fill="#fff" stroke="#0a0a0a" stroke-width="0.7"/>
<circle cx="1058.99" cy="548.09" r="6.65" fill="#fff" stroke="#0a0a0a" stroke-width="1.3"/>
<circle cx="1058.99" cy="548.09" r="4.79" fill="none" stroke="#0a0a0a" stroke-width="0.7"/>
<rect x="1056.6" y="544.76" width="4.79" height="6.65" fill="#fff" stroke="#0a0a0a" stroke-width="1.3" rx="0.6" />
<rect x="1056.52" y="538.69" width="10.3" height="0.78" fill="#0a0a0a" stroke="none" stroke-width="0"  shape-rendering="crispEdges"/>
<rect x="1044.78" y="554.22" width="7.17" height="8.48" fill="#fff" stroke="none" stroke-width="0"  shape-rendering="crispEdges"/>
<circle cx="1048.04" cy="558.78" r="3.5" fill="#fff" stroke="#0a0a0a" stroke-width="0.8"/>
<rect x="1073.99" y="523.69" width="21" height="17.48" fill="#fff" stroke="none" stroke-width="0"  shape-rendering="crispEdges"/>
<rect x="1077.12" y="524.87" width="17.87" height="4.43" fill="#0a0a0a" stroke="none" stroke-width="0"  shape-rendering="crispEdges"/>
<rect x="1088.21" y="523.69" width="2.61" height="17.48" fill="#0a0a0a" stroke="none" stroke-width="0"  shape-rendering="crispEdges"/>
<rect x="1078.09" y="533.66" width="9.81" height="5.11" fill="#0a0a0a" stroke="none" stroke-width="0"  shape-rendering="crispEdges"/>
<rect x="1079.19" y="534.71" width="3.3" height="3.01" fill="#fff" stroke="none" stroke-width="0"  shape-rendering="crispEdges"/>
<rect x="1083.49" y="534.71" width="3.3" height="3.01" fill="#fff" stroke="none" stroke-width="0"  shape-rendering="crispEdges"/>
<rect x="1074.78" y="530.09" width="1.57" height="6.52" fill="#0a0a0a" stroke="none" stroke-width="0"  shape-rendering="crispEdges"/>
<rect x="1079.99" y="530.74" width="6.52" height="0.91" fill="#0a0a0a" stroke="none" stroke-width="0"  shape-rendering="crispEdges"/>
<rect x="1073.99" y="541.17" width="21" height="15" fill="#fff" stroke="none" stroke-width="0"  shape-rendering="crispEdges"/>
<rect x="1078.69" y="542.74" width="16.3" height="11.87" fill="none" stroke="#0a0a0a" stroke-width="1.2"  shape-rendering="crispEdges"/>
<path d="M1087.17 543.78 L1079.99 548.61 L1087.17 553.56 Z" fill="#0a0a0a" stroke="none" stroke-width="0" />
<line x1="1079.99" y1="548.61" x2="1074.78" y2="548.61" stroke="#0a0a0a" stroke-width="1"  shape-rendering="crispEdges"/>
<rect x="1088.21" y="541.17" width="2.61" height="15" fill="#0a0a0a" stroke="none" stroke-width="0"  shape-rendering="crispEdges"/>
<rect x="973.04" y="562.95" width="76.3" height="5.22" fill="#fff" stroke="none" stroke-width="0"  shape-rendering="crispEdges"/>
<rect x="976.3" y="567.26" width="11.74" height="0.91" fill="#0a0a0a" stroke="none" stroke-width="0"  shape-rendering="crispEdges"/>
<rect x="989.35" y="568.43" width="56.74" height="1.57" fill="#fff" stroke="none" stroke-width="0"  shape-rendering="crispEdges"/>
<rect x="1008.26" y="568.17" width="5.22" height="1.83" fill="#0a0a0a" stroke="none" stroke-width="0"  shape-rendering="crispEdges"/>
<rect x="1033.04" y="568.17" width="5.22" height="1.83" fill="#0a0a0a" stroke="none" stroke-width="0"  shape-rendering="crispEdges"/>
<rect x="937.17" y="566.08" width="2.61" height="2.35" fill="#fff" stroke="none" stroke-width="0"  shape-rendering="crispEdges"/>
<rect x="942.13" y="566.08" width="2.61" height="2.35" fill="#fff" stroke="none" stroke-width="0"  shape-rendering="crispEdges"/>
<rect x="947.09" y="566.08" width="2.61" height="2.35" fill="#fff" stroke="none" stroke-width="0"  shape-rendering="crispEdges"/>
<rect x="952.04" y="566.08" width="2.61" height="2.35" fill="#fff" stroke="none" stroke-width="0"  shape-rendering="crispEdges"/>
<rect x="957" y="566.08" width="2.61" height="2.35" fill="#fff" stroke="none" stroke-width="0"  shape-rendering="crispEdges"/>
<rect x="961.96" y="566.08" width="2.61" height="2.35" fill="#fff" stroke="none" stroke-width="0"  shape-rendering="crispEdges"/>
<rect x="966.91" y="566.08" width="2.61" height="2.35" fill="#fff" stroke="none" stroke-width="0"  shape-rendering="crispEdges"/>
<rect x="1057.17" y="562.17" width="2.61" height="2.35" fill="#fff" stroke="none" stroke-width="0"  shape-rendering="crispEdges"/>
<rect x="1057.95" y="566.35" width="2.35" height="2.09" fill="#888" stroke="none" stroke-width="0"  shape-rendering="crispEdges"/>
<rect x="1061.86" y="562.17" width="2.61" height="2.35" fill="#fff" stroke="none" stroke-width="0"  shape-rendering="crispEdges"/>
<rect x="1062.65" y="566.35" width="2.35" height="2.09" fill="#fff" stroke="none" stroke-width="0"  shape-rendering="crispEdges"/>
<rect x="1066.56" y="562.17" width="2.61" height="2.35" fill="#fff" stroke="none" stroke-width="0"  shape-rendering="crispEdges"/>
<rect x="1067.34" y="566.35" width="2.35" height="2.09" fill="#888" stroke="none" stroke-width="0"  shape-rendering="crispEdges"/>
<rect x="1071.25" y="562.17" width="2.61" height="2.35" fill="#fff" stroke="none" stroke-width="0"  shape-rendering="crispEdges"/>
<rect x="1072.04" y="566.35" width="2.35" height="2.09" fill="#fff" stroke="none" stroke-width="0"  shape-rendering="crispEdges"/>
<rect x="1075.95" y="562.17" width="2.61" height="2.35" fill="#fff" stroke="none" stroke-width="0"  shape-rendering="crispEdges"/>
<rect x="1076.73" y="566.35" width="2.35" height="2.09" fill="#888" stroke="none" stroke-width="0"  shape-rendering="crispEdges"/>
<rect x="1082.34" y="559.04" width="14.35" height="14.09" fill="#fff" stroke="#0a0a0a" stroke-width="0.9"  shape-rendering="crispEdges"/>
<line x1="1082.34" y1="559.04" x2="1096.69" y2="573.13" stroke="#0a0a0a" stroke-width="0.9" />
<line x1="1082.34" y1="573.13" x2="1096.69" y2="559.04" stroke="#0a0a0a" stroke-width="0.9" /></g>
<g transform="translate(0 1132) scale(1 -1)"><rect x="930" y="504" width="165" height="67" fill="#0a0a0a" stroke="none" stroke-width="0"  shape-rendering="crispEdges"/>
<rect x="937.83" y="509.87" width="16.3" height="15.65" fill="#fff" stroke="none" stroke-width="0"  shape-rendering="crispEdges"/>
<rect x="942.65" y="512.74" width="7.3" height="6.65" fill="#fff" stroke="#0a0a0a" stroke-width="1.3"  shape-rendering="crispEdges"/>
<rect x="946.3" y="520.3" width="5.22" height="1.17" fill="#0a0a0a" stroke="none" stroke-width="0"  shape-rendering="crispEdges"/>
<rect x="937.83" y="523.56" width="6.52" height="1.96" fill="#0a0a0a" stroke="none" stroke-width="0"  shape-rendering="crispEdges"/>
<rect x="937.83" y="526.17" width="3.91" height="5.87" fill="#fff" stroke="none" stroke-width="0"  shape-rendering="crispEdges"/>
<rect x="943.04" y="527.48" width="7.83" height="2.61" fill="#fff" stroke="none" stroke-width="0"  shape-rendering="crispEdges"/>
<rect x="958.04" y="509.87" width="13.04" height="18.26" fill="#fff" stroke="none" stroke-width="0"  shape-rendering="crispEdges"/>
<rect x="961.96" y="512.61" width="7.17" height="4.96" fill="#fff" stroke="#0a0a0a" stroke-width="0.9"  shape-rendering="crispEdges"/>
<rect x="961.96" y="519.65" width="7.17" height="4.96" fill="#fff" stroke="#0a0a0a" stroke-width="0.9"  shape-rendering="crispEdges"/>
<path d="M967.17 513.13 L970.69 515.09 L967.17 517.04 Z" fill="#0a0a0a" stroke="none" stroke-width="0" />
<path d="M967.17 520.17 L970.69 522.13 L967.17 524.09 Z" fill="#0a0a0a" stroke="none" stroke-width="0" />
<rect x="973.04" y="517.7" width="18.26" height="16.56" fill="#fff" stroke="none" stroke-width="0"  shape-rendering="crispEdges"/>
<rect x="974.4" y="519.05" width="4.72" height="12.29" fill="#0a0a0a" stroke="none" stroke-width="0"  shape-rendering="crispEdges"/>
<rect x="975.45" y="520.15" width="2.62" height="2.7" fill="#fff" stroke="none" stroke-width="0"  shape-rendering="crispEdges"/>
<rect x="975.45" y="523.85" width="2.62" height="2.7" fill="#fff" stroke="none" stroke-width="0"  shape-rendering="crispEdges"/>
<rect x="975.45" y="527.54" width="2.62" height="2.7" fill="#fff" stroke="none" stroke-width="0"  shape-rendering="crispEdges"/>
<circle cx="981.78" cy="525.52" r="2.33" fill="#fff" stroke="#0a0a0a" stroke-width="1.0"/>
<circle cx="981.12" cy="525.52" r="0.93" fill="#fff" stroke="#0a0a0a" stroke-width="0.7"/>
<circle cx="982.56" cy="524.86" r="0.8" fill="#fff" stroke="#0a0a0a" stroke-width="0.7"/>
<circle cx="982.56" cy="526.3" r="0.8" fill="#fff" stroke="#0a0a0a" stroke-width="0.7"/>
<rect x="989.35" y="517.7" width="1.96" height="11.09" fill="#0a0a0a" stroke="none" stroke-width="0"  shape-rendering="crispEdges"/>
<rect x="990" y="519.65" width="0.78" height="3.91" fill="#fff" stroke="none" stroke-width="0"  shape-rendering="crispEdges"/>
<rect x="972.39" y="516.78" width="5.22" height="1.04" fill="#fff" stroke="none" stroke-width="0"  shape-rendering="crispEdges"/>
<rect x="991.95" y="509.87" width="31.96" height="18.91" fill="#fff" stroke="none" stroke-width="0"  shape-rendering="crispEdges"/>
<rect x="998.8" y="514.6" width="7.4" height="6.2" fill="#fff" stroke="#0a0a0a" stroke-width="1.3"  shape-rendering="crispEdges"/>
<rect x="1009.8" y="514.6" width="7.4" height="6.2" fill="#fff" stroke="#0a0a0a" stroke-width="1.3"  shape-rendering="crispEdges"/>
<rect x="1006.4" y="512.4" width="3.2" height="10.6" fill="#0a0a0a" stroke="none" stroke-width="0"  shape-rendering="crispEdges"/>
<rect x="1007.7" y="512.4" width="0.6" height="10.6" fill="#fff" stroke="none" stroke-width="0"  shape-rendering="crispEdges"/>
<path d="M1002.5 515.34 L1006.2 517.7 L1002.5 520.05 Z" fill="#0a0a0a" stroke="none" stroke-width="0" />
<path d="M1013.5 515.34 L1009.8 517.7 L1013.5 520.05 Z" fill="#0a0a0a" stroke="none" stroke-width="0" />
<rect x="997.17" y="524.22" width="5.87" height="1.3" fill="#0a0a0a" stroke="none" stroke-width="0"  shape-rendering="crispEdges"/>
<rect x="1014.78" y="524.22" width="5.48" height="1.3" fill="#0a0a0a" stroke="none" stroke-width="0"  shape-rendering="crispEdges"/>
<rect x="991.95" y="528.78" width="5.87" height="3.26" fill="#fff" stroke="none" stroke-width="0"  shape-rendering="crispEdges"/>
<rect x="1020" y="528.78" width="7.17" height="3.26" fill="#fff" stroke="none" stroke-width="0"  shape-rendering="crispEdges"/>
<circle cx="1034.34" cy="513.39" r="1.5" fill="#fff" stroke="#0a0a0a" stroke-width="0"/>
<circle cx="1056.12" cy="513.39" r="1.5" fill="#fff" stroke="#0a0a0a" stroke-width="0"/>
<rect x="1039.56" y="513.13" width="5.87" height="0.78" fill="#999" stroke="none" stroke-width="0"  shape-rendering="crispEdges"/>
<rect x="1065.65" y="513.13" width="3.26" height="0.78" fill="#888" stroke="none" stroke-width="0"  shape-rendering="crispEdges"/>
<rect x="1029.78" y="520.3" width="19.17" height="13.43" fill="#fff" stroke="none" stroke-width="0"  shape-rendering="crispEdges"/>
<circle cx="1041.52" cy="526.17" r="2.33" fill="#fff" stroke="#0a0a0a" stroke-width="1.0"/>
<circle cx="1040.85" cy="526.17" r="0.93" fill="#fff" stroke="#0a0a0a" stroke-width="0.7"/>
<circle cx="1042.29" cy="525.51" r="0.8" fill="#fff" stroke="#0a0a0a" stroke-width="0.7"/>
<circle cx="1042.29" cy="526.95" r="0.8" fill="#fff" stroke="#0a0a0a" stroke-width="0.7"/>
<rect x="1044.18" y="520.36" width="4.59" height="12.29" fill="#0a0a0a" stroke="none" stroke-width="0"  shape-rendering="crispEdges"/>
<rect x="1045.23" y="521.46" width="2.49" height="2.7" fill="#fff" stroke="none" stroke-width="0"  shape-rendering="crispEdges"/>
<rect x="1045.23" y="525.15" width="2.49" height="2.7" fill="#fff" stroke="none" stroke-width="0"  shape-rendering="crispEdges"/>
<rect x="1045.23" y="528.85" width="2.49" height="2.7" fill="#fff" stroke="none" stroke-width="0"  shape-rendering="crispEdges"/>
<rect x="1026.52" y="530.74" width="6.52" height="3.91" fill="#fff" stroke="none" stroke-width="0"  shape-rendering="crispEdges"/>
<rect x="1051.3" y="520.3" width="19.3" height="17.87" fill="#fff" stroke="none" stroke-width="0"  shape-rendering="crispEdges"/>
<rect x="1052" y="522.96" width="4.2" height="12.94" fill="#0a0a0a" stroke="none" stroke-width="0"  shape-rendering="crispEdges"/>
<rect x="1053.05" y="524.06" width="2.1" height="2.91" fill="#fff" stroke="none" stroke-width="0"  shape-rendering="crispEdges"/>
<rect x="1053.05" y="527.98" width="2.1" height="2.91" fill="#fff" stroke="none" stroke-width="0"  shape-rendering="crispEdges"/>
<rect x="1053.05" y="531.89" width="2.1" height="2.91" fill="#fff" stroke="none" stroke-width="0"  shape-rendering="crispEdges"/>
<circle cx="1059.12" cy="529.43" r="2.33" fill="#fff" stroke="#0a0a0a" stroke-width="1.0"/>
<circle cx="1058.46" cy="529.43" r="0.93" fill="#fff" stroke="#0a0a0a" stroke-width="0.7"/>
<circle cx="1059.9" cy="528.77" r="0.8" fill="#fff" stroke="#0a0a0a" stroke-width="0.7"/>
<circle cx="1059.9" cy="530.21" r="0.8" fill="#fff" stroke="#0a0a0a" stroke-width="0.7"/>
<rect x="1068.25" y="523.56" width="3.91" height="11.74" fill="#fff" stroke="none" stroke-width="0"  shape-rendering="crispEdges"/>
<line x1="1049.86" y1="519.65" x2="1049.86" y2="560.08" stroke="#0a0a0a" stroke-width="2.2" />
<line x1="972" y1="517.04" x2="972" y2="562.69" stroke="#0a0a0a" stroke-width="1.4" />
<rect x="1073.47" y="509.22" width="21.52" height="15.65" fill="#fff" stroke="none" stroke-width="0"  shape-rendering="crispEdges"/>
<rect x="1080.31" y="513.94" width="7.4" height="6.2" fill="#fff" stroke="#0a0a0a" stroke-width="1.3"  shape-rendering="crispEdges"/>
<rect x="1091.31" y="513.94" width="7.4" height="6.2" fill="#fff" stroke="#0a0a0a" stroke-width="1.3"  shape-rendering="crispEdges"/>
<rect x="1087.91" y="511.74" width="3.2" height="10.6" fill="#0a0a0a" stroke="none" stroke-width="0"  shape-rendering="crispEdges"/>
<rect x="1089.21" y="511.74" width="0.6" height="10.6" fill="#fff" stroke="none" stroke-width="0"  shape-rendering="crispEdges"/>
<path d="M1084.01 514.69 L1087.71 517.04 L1084.01 519.4 Z" fill="#0a0a0a" stroke="none" stroke-width="0" />
<path d="M1095.01 514.69 L1091.31 517.04 L1095.01 519.4 Z" fill="#0a0a0a" stroke="none" stroke-width="0" />
<rect x="1077.38" y="524.87" width="5.87" height="1.96" fill="#fff" stroke="none" stroke-width="0"  shape-rendering="crispEdges"/>
<circle cx="942.65" cy="538.82" r="1.3" fill="#fff" stroke="#0a0a0a" stroke-width="0"/>
<rect x="952.17" y="532.04" width="19.56" height="30.91" fill="#fff" stroke="none" stroke-width="0"  shape-rendering="crispEdges"/>
<rect x="955.49" y="536.66" width="5.9" height="12.94" fill="#0a0a0a" stroke="none" stroke-width="0"  shape-rendering="crispEdges"/>
<rect x="956.54" y="537.76" width="3.8" height="2.91" fill="#fff" stroke="none" stroke-width="0"  shape-rendering="crispEdges"/>
<rect x="956.54" y="541.67" width="3.8" height="2.91" fill="#fff" stroke="none" stroke-width="0"  shape-rendering="crispEdges"/>
<rect x="956.54" y="545.59" width="3.8" height="2.91" fill="#fff" stroke="none" stroke-width="0"  shape-rendering="crispEdges"/>
<circle cx="963.65" cy="542.22" r="2.19" fill="#fff" stroke="#0a0a0a" stroke-width="1.0"/>
<circle cx="963.02" cy="542.22" r="0.88" fill="#fff" stroke="#0a0a0a" stroke-width="0.7"/>
<circle cx="964.38" cy="541.59" r="0.75" fill="#fff" stroke="#0a0a0a" stroke-width="0.7"/>
<circle cx="964.38" cy="542.95" r="0.75" fill="#fff" stroke="#0a0a0a" stroke-width="0.7"/>
<rect x="958.04" y="554.35" width="11.09" height="1.04" fill="#0a0a0a" stroke="none" stroke-width="0"  shape-rendering="crispEdges"/>
<rect x="961.96" y="558.78" width="3.26" height="1.83" fill="#0a0a0a" stroke="none" stroke-width="0"  shape-rendering="crispEdges"/>
<rect x="954.13" y="532.04" width="17.61" height="2.22" fill="#0a0a0a" stroke="none" stroke-width="0"  shape-rendering="crispEdges"/>
<rect x="956.09" y="528.78" width="15.65" height="2.87" fill="#fff" stroke="none" stroke-width="0"  shape-rendering="crispEdges"/>
<rect x="937.17" y="550.95" width="16.04" height="13.7" fill="#fff" stroke="none" stroke-width="0"  shape-rendering="crispEdges"/>
<circle cx="945" cy="557.48" r="6.52" fill="#fff" stroke="#0a0a0a" stroke-width="1.3"/>
<circle cx="945" cy="557.48" r="4.7" fill="none" stroke="#0a0a0a" stroke-width="0.7"/>
<rect x="942.65" y="554.22" width="4.7" height="6.52" fill="#fff" stroke="#0a0a0a" stroke-width="1.3" rx="0.6" />
<rect x="951.52" y="543.13" width="1.96" height="7.83" fill="#fff" stroke="none" stroke-width="0"  shape-rendering="crispEdges"/>
<rect x="972.39" y="532.04" width="15.26" height="12.65" fill="#fff" stroke="none" stroke-width="0"  shape-rendering="crispEdges"/>
<circle cx="978.52" cy="538.96" r="6.26" fill="#fff" stroke="#0a0a0a" stroke-width="1.3"/>
<circle cx="978.52" cy="538.96" r="4.51" fill="none" stroke="#0a0a0a" stroke-width="0.7"/>
<rect x="976.27" y="535.82" width="4.51" height="6.26" fill="#fff" stroke="#0a0a0a" stroke-width="1.3" rx="0.6" />
<rect x="984.78" y="541.82" width="10.43" height="1.3" fill="#0a0a0a" stroke="none" stroke-width="0"  shape-rendering="crispEdges"/>
<rect x="972.39" y="547.04" width="11.74" height="15.26" fill="#fff" stroke="none" stroke-width="0"  shape-rendering="crispEdges"/>
<rect x="973.04" y="547.69" width="10.7" height="14.35" fill="#0a0a0a" stroke="none" stroke-width="0"  shape-rendering="crispEdges"/>
<rect x="974.09" y="549.91" width="2.3" height="1.9" fill="#fff" stroke="none" stroke-width="0"  shape-rendering="crispEdges"/>
<rect x="974.09" y="552.91" width="2.3" height="1.9" fill="#fff" stroke="none" stroke-width="0"  shape-rendering="crispEdges"/>
<rect x="974.09" y="555.91" width="2.3" height="1.9" fill="#fff" stroke="none" stroke-width="0"  shape-rendering="crispEdges"/>
<rect x="974.09" y="558.91" width="2.3" height="1.9" fill="#fff" stroke="none" stroke-width="0"  shape-rendering="crispEdges"/>
<rect x="977.35" y="549.91" width="2.3" height="1.9" fill="#fff" stroke="none" stroke-width="0"  shape-rendering="crispEdges"/>
<rect x="977.35" y="552.91" width="2.3" height="1.9" fill="#fff" stroke="none" stroke-width="0"  shape-rendering="crispEdges"/>
<rect x="977.35" y="555.91" width="2.3" height="1.9" fill="#fff" stroke="none" stroke-width="0"  shape-rendering="crispEdges"/>
<rect x="977.35" y="558.91" width="2.3" height="1.9" fill="#fff" stroke="none" stroke-width="0"  shape-rendering="crispEdges"/>
<rect x="980.61" y="549.91" width="2.3" height="1.9" fill="#fff" stroke="none" stroke-width="0"  shape-rendering="crispEdges"/>
<rect x="980.61" y="552.91" width="2.3" height="1.9" fill="#fff" stroke="none" stroke-width="0"  shape-rendering="crispEdges"/>
<rect x="980.61" y="555.91" width="2.3" height="1.9" fill="#fff" stroke="none" stroke-width="0"  shape-rendering="crispEdges"/>
<rect x="980.61" y="558.91" width="2.3" height="1.9" fill="#fff" stroke="none" stroke-width="0"  shape-rendering="crispEdges"/>
<rect x="975.65" y="548.35" width="5.87" height="1.04" fill="#fff" stroke="none" stroke-width="0"  shape-rendering="crispEdges"/>
<rect x="984.78" y="545.09" width="11.48" height="16.3" fill="#fff" stroke="none" stroke-width="0"  shape-rendering="crispEdges"/>
<circle cx="987.39" cy="558.13" r="2.2" fill="#fff" stroke="#0a0a0a" stroke-width="0.8"/>
<rect x="991.3" y="535.3" width="5.22" height="4.57" fill="#fff" stroke="none" stroke-width="0"  shape-rendering="crispEdges"/>
<rect x="991.95" y="536.35" width="1.96" height="2.61" fill="#0a0a0a" stroke="none" stroke-width="0"  shape-rendering="crispEdges"/>
<rect x="997.3" y="536.61" width="2.35" height="2.35" fill="#fff" stroke="none" stroke-width="0"  shape-rendering="crispEdges"/>
<rect x="997.3" y="541.82" width="2.35" height="2.35" fill="#fff" stroke="none" stroke-width="0"  shape-rendering="crispEdges"/>
<rect x="997.3" y="547.04" width="2.35" height="2.35" fill="#fff" stroke="none" stroke-width="0"  shape-rendering="crispEdges"/>
<rect x="997.3" y="552.26" width="2.35" height="2.35" fill="#fff" stroke="none" stroke-width="0"  shape-rendering="crispEdges"/>
<rect x="997.3" y="557.48" width="2.35" height="2.35" fill="#fff" stroke="none" stroke-width="0"  shape-rendering="crispEdges"/>
<rect x="1001.74" y="546" width="14.61" height="15.13" fill="#fff" stroke="#0a0a0a" stroke-width="0.9"  shape-rendering="crispEdges"/>
<line x1="1001.74" y1="546" x2="1016.34" y2="561.13" stroke="#0a0a0a" stroke-width="0.9" />
<line x1="1001.74" y1="561.13" x2="1016.34" y2="546" stroke="#0a0a0a" stroke-width="0.9" />
<rect x="1001.08" y="539.22" width="6.13" height="4.7" fill="#fff" stroke="none" stroke-width="0"  shape-rendering="crispEdges"/>
<rect x="1010.87" y="539.22" width="6.13" height="4.7" fill="#fff" stroke="none" stroke-width="0"  shape-rendering="crispEdges"/>
<rect x="1002.39" y="530.74" width="5.87" height="4.57" fill="#fff" stroke="none" stroke-width="0"  shape-rendering="crispEdges"/>
<rect x="1013.47" y="532.04" width="7.83" height="2.61" fill="#fff" stroke="none" stroke-width="0"  shape-rendering="crispEdges"/>
<rect x="1021.3" y="536.61" width="7.83" height="5.22" fill="#fff" stroke="none" stroke-width="0"  shape-rendering="crispEdges"/>
<path d="M1021.3 541.82 L1029.13 541.82 L1029.13 536.61 Z" fill="#0a0a0a" stroke="none" stroke-width="0" />
<rect x="1018.69" y="546.65" width="12.39" height="14.74" fill="#fff" stroke="none" stroke-width="0"  shape-rendering="crispEdges"/>
<rect x="1022.87" y="551.22" width="7.3" height="6.78" fill="#fff" stroke="#0a0a0a" stroke-width="1.1"  shape-rendering="crispEdges"/>
<rect x="1024.95" y="552.91" width="3.13" height="1.3" fill="#0a0a0a" stroke="none" stroke-width="0"  shape-rendering="crispEdges"/>
<rect x="1033.3" y="538.17" width="2.61" height="2.35" fill="#fff" stroke="none" stroke-width="0"  shape-rendering="crispEdges"/>
<rect x="1033.3" y="543.13" width="2.61" height="2.35" fill="#fff" stroke="none" stroke-width="0"  shape-rendering="crispEdges"/>
<rect x="1033.3" y="548.35" width="2.61" height="2.35" fill="#fff" stroke="none" stroke-width="0"  shape-rendering="crispEdges"/>
<rect x="1033.3" y="553.3" width="2.61" height="2.35" fill="#fff" stroke="none" stroke-width="0"  shape-rendering="crispEdges"/>
<rect x="1033.3" y="558.13" width="2.61" height="2.35" fill="#fff" stroke="none" stroke-width="0"  shape-rendering="crispEdges"/>
<rect x="1037.21" y="520.3" width="11.74" height="36.13" fill="#fff" stroke="none" stroke-width="0"  shape-rendering="crispEdges"/>
<rect x="1044.18" y="520.36" width="4.59" height="12.29" fill="#0a0a0a" stroke="none" stroke-width="0"  shape-rendering="crispEdges"/>
<rect x="1045.23" y="521.46" width="2.49" height="2.7" fill="#fff" stroke="none" stroke-width="0"  shape-rendering="crispEdges"/>
<rect x="1045.23" y="525.15" width="2.49" height="2.7" fill="#fff" stroke="none" stroke-width="0"  shape-rendering="crispEdges"/>
<rect x="1045.23" y="528.85" width="2.49" height="2.7" fill="#fff" stroke="none" stroke-width="0"  shape-rendering="crispEdges"/>
<circle cx="1041.52" cy="526.17" r="2.33" fill="#fff" stroke="#0a0a0a" stroke-width="1.0"/>
<circle cx="1040.85" cy="526.17" r="0.93" fill="#fff" stroke="#0a0a0a" stroke-width="0.7"/>
<circle cx="1042.29" cy="525.51" r="0.8" fill="#fff" stroke="#0a0a0a" stroke-width="0.7"/>
<circle cx="1042.29" cy="526.95" r="0.8" fill="#fff" stroke="#0a0a0a" stroke-width="0.7"/>
<circle cx="1042.69" cy="546" r="6.52" fill="#fff" stroke="#0a0a0a" stroke-width="1.3"/>
<circle cx="1042.69" cy="546" r="4.7" fill="none" stroke="#0a0a0a" stroke-width="0.7"/>
<rect x="1040.34" y="542.74" width="4.7" height="6.52" fill="#fff" stroke="#0a0a0a" stroke-width="1.3" rx="0.6" />
<rect x="1040.21" y="535.96" width="7.83" height="0.78" fill="#0a0a0a" stroke="none" stroke-width="0"  shape-rendering="crispEdges"/>
<rect x="1051.3" y="520.3" width="19.3" height="39.13" fill="#fff" stroke="none" stroke-width="0"  shape-rendering="crispEdges"/>
<rect x="1052" y="522.96" width="4.2" height="12.94" fill="#0a0a0a" stroke="none" stroke-width="0"  shape-rendering="crispEdges"/>
<rect x="1053.05" y="524.06" width="2.1" height="2.91" fill="#fff" stroke="none" stroke-width="0"  shape-rendering="crispEdges"/>
<rect x="1053.05" y="527.98" width="2.1" height="2.91" fill="#fff" stroke="none" stroke-width="0"  shape-rendering="crispEdges"/>
<rect x="1053.05" y="531.89" width="2.1" height="2.91" fill="#fff" stroke="none" stroke-width="0"  shape-rendering="crispEdges"/>
<circle cx="1059.12" cy="529.43" r="2.33" fill="#fff" stroke="#0a0a0a" stroke-width="1.0"/>
<circle cx="1058.46" cy="529.43" r="0.93" fill="#fff" stroke="#0a0a0a" stroke-width="0.7"/>
<circle cx="1059.9" cy="528.77" r="0.8" fill="#fff" stroke="#0a0a0a" stroke-width="0.7"/>
<circle cx="1059.9" cy="530.21" r="0.8" fill="#fff" stroke="#0a0a0a" stroke-width="0.7"/>
<circle cx="1058.99" cy="548.09" r="6.65" fill="#fff" stroke="#0a0a0a" stroke-width="1.3"/>
<circle cx="1058.99" cy="548.09" r="4.79" fill="none" stroke="#0a0a0a" stroke-width="0.7"/>
<rect x="1056.6" y="544.76" width="4.79" height="6.65" fill="#fff" stroke="#0a0a0a" stroke-width="1.3" rx="0.6" />
<rect x="1056.52" y="538.69" width="10.3" height="0.78" fill="#0a0a0a" stroke="none" stroke-width="0"  shape-rendering="crispEdges"/>
<rect x="1044.78" y="554.22" width="7.17" height="8.48" fill="#fff" stroke="none" stroke-width="0"  shape-rendering="crispEdges"/>
<circle cx="1048.04" cy="558.78" r="3.5" fill="#fff" stroke="#0a0a0a" stroke-width="0.8"/>
<rect x="1073.99" y="523.69" width="21" height="17.48" fill="#fff" stroke="none" stroke-width="0"  shape-rendering="crispEdges"/>
<rect x="1077.12" y="524.87" width="17.87" height="4.43" fill="#0a0a0a" stroke="none" stroke-width="0"  shape-rendering="crispEdges"/>
<rect x="1088.21" y="523.69" width="2.61" height="17.48" fill="#0a0a0a" stroke="none" stroke-width="0"  shape-rendering="crispEdges"/>
<rect x="1078.09" y="533.66" width="9.81" height="5.11" fill="#0a0a0a" stroke="none" stroke-width="0"  shape-rendering="crispEdges"/>
<rect x="1079.19" y="534.71" width="3.3" height="3.01" fill="#fff" stroke="none" stroke-width="0"  shape-rendering="crispEdges"/>
<rect x="1083.49" y="534.71" width="3.3" height="3.01" fill="#fff" stroke="none" stroke-width="0"  shape-rendering="crispEdges"/>
<rect x="1074.78" y="530.09" width="1.57" height="6.52" fill="#0a0a0a" stroke="none" stroke-width="0"  shape-rendering="crispEdges"/>
<rect x="1079.99" y="530.74" width="6.52" height="0.91" fill="#0a0a0a" stroke="none" stroke-width="0"  shape-rendering="crispEdges"/>
<rect x="1073.99" y="541.17" width="21" height="15" fill="#fff" stroke="none" stroke-width="0"  shape-rendering="crispEdges"/>
<rect x="1078.69" y="542.74" width="16.3" height="11.87" fill="none" stroke="#0a0a0a" stroke-width="1.2"  shape-rendering="crispEdges"/>
<path d="M1087.17 543.78 L1079.99 548.61 L1087.17 553.56 Z" fill="#0a0a0a" stroke="none" stroke-width="0" />
<line x1="1079.99" y1="548.61" x2="1074.78" y2="548.61" stroke="#0a0a0a" stroke-width="1"  shape-rendering="crispEdges"/>
<rect x="1088.21" y="541.17" width="2.61" height="15" fill="#0a0a0a" stroke="none" stroke-width="0"  shape-rendering="crispEdges"/>
<rect x="973.04" y="562.95" width="76.3" height="5.22" fill="#fff" stroke="none" stroke-width="0"  shape-rendering="crispEdges"/>
<rect x="976.3" y="567.26" width="11.74" height="0.91" fill="#0a0a0a" stroke="none" stroke-width="0"  shape-rendering="crispEdges"/>
<rect x="989.35" y="568.43" width="56.74" height="1.57" fill="#fff" stroke="none" stroke-width="0"  shape-rendering="crispEdges"/>
<rect x="1008.26" y="568.17" width="5.22" height="1.83" fill="#0a0a0a" stroke="none" stroke-width="0"  shape-rendering="crispEdges"/>
<rect x="1033.04" y="568.17" width="5.22" height="1.83" fill="#0a0a0a" stroke="none" stroke-width="0"  shape-rendering="crispEdges"/>
<rect x="937.17" y="566.08" width="2.61" height="2.35" fill="#fff" stroke="none" stroke-width="0"  shape-rendering="crispEdges"/>
<rect x="942.13" y="566.08" width="2.61" height="2.35" fill="#fff" stroke="none" stroke-width="0"  shape-rendering="crispEdges"/>
<rect x="947.09" y="566.08" width="2.61" height="2.35" fill="#fff" stroke="none" stroke-width="0"  shape-rendering="crispEdges"/>
<rect x="952.04" y="566.08" width="2.61" height="2.35" fill="#fff" stroke="none" stroke-width="0"  shape-rendering="crispEdges"/>
<rect x="957" y="566.08" width="2.61" height="2.35" fill="#fff" stroke="none" stroke-width="0"  shape-rendering="crispEdges"/>
<rect x="961.96" y="566.08" width="2.61" height="2.35" fill="#fff" stroke="none" stroke-width="0"  shape-rendering="crispEdges"/>
<rect x="966.91" y="566.08" width="2.61" height="2.35" fill="#fff" stroke="none" stroke-width="0"  shape-rendering="crispEdges"/>
<rect x="1057.17" y="562.17" width="2.61" height="2.35" fill="#fff" stroke="none" stroke-width="0"  shape-rendering="crispEdges"/>
<rect x="1057.95" y="566.35" width="2.35" height="2.09" fill="#888" stroke="none" stroke-width="0"  shape-rendering="crispEdges"/>
<rect x="1061.86" y="562.17" width="2.61" height="2.35" fill="#fff" stroke="none" stroke-width="0"  shape-rendering="crispEdges"/>
<rect x="1062.65" y="566.35" width="2.35" height="2.09" fill="#fff" stroke="none" stroke-width="0"  shape-rendering="crispEdges"/>
<rect x="1066.56" y="562.17" width="2.61" height="2.35" fill="#fff" stroke="none" stroke-width="0"  shape-rendering="crispEdges"/>
<rect x="1067.34" y="566.35" width="2.35" height="2.09" fill="#888" stroke="none" stroke-width="0"  shape-rendering="crispEdges"/>
<rect x="1071.25" y="562.17" width="2.61" height="2.35" fill="#fff" stroke="none" stroke-width="0"  shape-rendering="crispEdges"/>
<rect x="1072.04" y="566.35" width="2.35" height="2.09" fill="#fff" stroke="none" stroke-width="0"  shape-rendering="crispEdges"/>
<rect x="1075.95" y="562.17" width="2.61" height="2.35" fill="#fff" stroke="none" stroke-width="0"  shape-rendering="crispEdges"/>
<rect x="1076.73" y="566.35" width="2.35" height="2.09" fill="#888" stroke="none" stroke-width="0"  shape-rendering="crispEdges"/>
<rect x="1082.34" y="559.04" width="14.35" height="14.09" fill="#fff" stroke="#0a0a0a" stroke-width="0.9"  shape-rendering="crispEdges"/>
<line x1="1082.34" y1="559.04" x2="1096.69" y2="573.13" stroke="#0a0a0a" stroke-width="0.9" />
<line x1="1082.34" y1="573.13" x2="1096.69" y2="559.04" stroke="#0a0a0a" stroke-width="0.9" /></g>
<g transform="translate(2179 1132) scale(-1 -1)"><rect x="930" y="504" width="165" height="67" fill="#0a0a0a" stroke="none" stroke-width="0"  shape-rendering="crispEdges"/>
<rect x="937.83" y="509.87" width="16.3" height="15.65" fill="#fff" stroke="none" stroke-width="0"  shape-rendering="crispEdges"/>
<rect x="942.65" y="512.74" width="7.3" height="6.65" fill="#fff" stroke="#0a0a0a" stroke-width="1.3"  shape-rendering="crispEdges"/>
<rect x="946.3" y="520.3" width="5.22" height="1.17" fill="#0a0a0a" stroke="none" stroke-width="0"  shape-rendering="crispEdges"/>
<rect x="937.83" y="523.56" width="6.52" height="1.96" fill="#0a0a0a" stroke="none" stroke-width="0"  shape-rendering="crispEdges"/>
<rect x="937.83" y="526.17" width="3.91" height="5.87" fill="#fff" stroke="none" stroke-width="0"  shape-rendering="crispEdges"/>
<rect x="943.04" y="527.48" width="7.83" height="2.61" fill="#fff" stroke="none" stroke-width="0"  shape-rendering="crispEdges"/>
<rect x="958.04" y="509.87" width="13.04" height="18.26" fill="#fff" stroke="none" stroke-width="0"  shape-rendering="crispEdges"/>
<rect x="961.96" y="512.61" width="7.17" height="4.96" fill="#fff" stroke="#0a0a0a" stroke-width="0.9"  shape-rendering="crispEdges"/>
<rect x="961.96" y="519.65" width="7.17" height="4.96" fill="#fff" stroke="#0a0a0a" stroke-width="0.9"  shape-rendering="crispEdges"/>
<path d="M967.17 513.13 L970.69 515.09 L967.17 517.04 Z" fill="#0a0a0a" stroke="none" stroke-width="0" />
<path d="M967.17 520.17 L970.69 522.13 L967.17 524.09 Z" fill="#0a0a0a" stroke="none" stroke-width="0" />
<rect x="973.04" y="517.7" width="18.26" height="16.56" fill="#fff" stroke="none" stroke-width="0"  shape-rendering="crispEdges"/>
<rect x="974.4" y="519.05" width="4.72" height="12.29" fill="#0a0a0a" stroke="none" stroke-width="0"  shape-rendering="crispEdges"/>
<rect x="975.45" y="520.15" width="2.62" height="2.7" fill="#fff" stroke="none" stroke-width="0"  shape-rendering="crispEdges"/>
<rect x="975.45" y="523.85" width="2.62" height="2.7" fill="#fff" stroke="none" stroke-width="0"  shape-rendering="crispEdges"/>
<rect x="975.45" y="527.54" width="2.62" height="2.7" fill="#fff" stroke="none" stroke-width="0"  shape-rendering="crispEdges"/>
<circle cx="981.78" cy="525.52" r="2.33" fill="#fff" stroke="#0a0a0a" stroke-width="1.0"/>
<circle cx="981.12" cy="525.52" r="0.93" fill="#fff" stroke="#0a0a0a" stroke-width="0.7"/>
<circle cx="982.56" cy="524.86" r="0.8" fill="#fff" stroke="#0a0a0a" stroke-width="0.7"/>
<circle cx="982.56" cy="526.3" r="0.8" fill="#fff" stroke="#0a0a0a" stroke-width="0.7"/>
<rect x="989.35" y="517.7" width="1.96" height="11.09" fill="#0a0a0a" stroke="none" stroke-width="0"  shape-rendering="crispEdges"/>
<rect x="990" y="519.65" width="0.78" height="3.91" fill="#fff" stroke="none" stroke-width="0"  shape-rendering="crispEdges"/>
<rect x="972.39" y="516.78" width="5.22" height="1.04" fill="#fff" stroke="none" stroke-width="0"  shape-rendering="crispEdges"/>
<rect x="991.95" y="509.87" width="31.96" height="18.91" fill="#fff" stroke="none" stroke-width="0"  shape-rendering="crispEdges"/>
<rect x="998.8" y="514.6" width="7.4" height="6.2" fill="#fff" stroke="#0a0a0a" stroke-width="1.3"  shape-rendering="crispEdges"/>
<rect x="1009.8" y="514.6" width="7.4" height="6.2" fill="#fff" stroke="#0a0a0a" stroke-width="1.3"  shape-rendering="crispEdges"/>
<rect x="1006.4" y="512.4" width="3.2" height="10.6" fill="#0a0a0a" stroke="none" stroke-width="0"  shape-rendering="crispEdges"/>
<rect x="1007.7" y="512.4" width="0.6" height="10.6" fill="#fff" stroke="none" stroke-width="0"  shape-rendering="crispEdges"/>
<path d="M1002.5 515.34 L1006.2 517.7 L1002.5 520.05 Z" fill="#0a0a0a" stroke="none" stroke-width="0" />
<path d="M1013.5 515.34 L1009.8 517.7 L1013.5 520.05 Z" fill="#0a0a0a" stroke="none" stroke-width="0" />
<rect x="997.17" y="524.22" width="5.87" height="1.3" fill="#0a0a0a" stroke="none" stroke-width="0"  shape-rendering="crispEdges"/>
<rect x="1014.78" y="524.22" width="5.48" height="1.3" fill="#0a0a0a" stroke="none" stroke-width="0"  shape-rendering="crispEdges"/>
<rect x="991.95" y="528.78" width="5.87" height="3.26" fill="#fff" stroke="none" stroke-width="0"  shape-rendering="crispEdges"/>
<rect x="1020" y="528.78" width="7.17" height="3.26" fill="#fff" stroke="none" stroke-width="0"  shape-rendering="crispEdges"/>
<circle cx="1034.34" cy="513.39" r="1.5" fill="#fff" stroke="#0a0a0a" stroke-width="0"/>
<circle cx="1056.12" cy="513.39" r="1.5" fill="#fff" stroke="#0a0a0a" stroke-width="0"/>
<rect x="1039.56" y="513.13" width="5.87" height="0.78" fill="#999" stroke="none" stroke-width="0"  shape-rendering="crispEdges"/>
<rect x="1065.65" y="513.13" width="3.26" height="0.78" fill="#888" stroke="none" stroke-width="0"  shape-rendering="crispEdges"/>
<rect x="1029.78" y="520.3" width="19.17" height="13.43" fill="#fff" stroke="none" stroke-width="0"  shape-rendering="crispEdges"/>
<circle cx="1041.52" cy="526.17" r="2.33" fill="#fff" stroke="#0a0a0a" stroke-width="1.0"/>
<circle cx="1040.85" cy="526.17" r="0.93" fill="#fff" stroke="#0a0a0a" stroke-width="0.7"/>
<circle cx="1042.29" cy="525.51" r="0.8" fill="#fff" stroke="#0a0a0a" stroke-width="0.7"/>
<circle cx="1042.29" cy="526.95" r="0.8" fill="#fff" stroke="#0a0a0a" stroke-width="0.7"/>
<rect x="1044.18" y="520.36" width="4.59" height="12.29" fill="#0a0a0a" stroke="none" stroke-width="0"  shape-rendering="crispEdges"/>
<rect x="1045.23" y="521.46" width="2.49" height="2.7" fill="#fff" stroke="none" stroke-width="0"  shape-rendering="crispEdges"/>
<rect x="1045.23" y="525.15" width="2.49" height="2.7" fill="#fff" stroke="none" stroke-width="0"  shape-rendering="crispEdges"/>
<rect x="1045.23" y="528.85" width="2.49" height="2.7" fill="#fff" stroke="none" stroke-width="0"  shape-rendering="crispEdges"/>
<rect x="1026.52" y="530.74" width="6.52" height="3.91" fill="#fff" stroke="none" stroke-width="0"  shape-rendering="crispEdges"/>
<rect x="1051.3" y="520.3" width="19.3" height="17.87" fill="#fff" stroke="none" stroke-width="0"  shape-rendering="crispEdges"/>
<rect x="1052" y="522.96" width="4.2" height="12.94" fill="#0a0a0a" stroke="none" stroke-width="0"  shape-rendering="crispEdges"/>
<rect x="1053.05" y="524.06" width="2.1" height="2.91" fill="#fff" stroke="none" stroke-width="0"  shape-rendering="crispEdges"/>
<rect x="1053.05" y="527.98" width="2.1" height="2.91" fill="#fff" stroke="none" stroke-width="0"  shape-rendering="crispEdges"/>
<rect x="1053.05" y="531.89" width="2.1" height="2.91" fill="#fff" stroke="none" stroke-width="0"  shape-rendering="crispEdges"/>
<circle cx="1059.12" cy="529.43" r="2.33" fill="#fff" stroke="#0a0a0a" stroke-width="1.0"/>
<circle cx="1058.46" cy="529.43" r="0.93" fill="#fff" stroke="#0a0a0a" stroke-width="0.7"/>
<circle cx="1059.9" cy="528.77" r="0.8" fill="#fff" stroke="#0a0a0a" stroke-width="0.7"/>
<circle cx="1059.9" cy="530.21" r="0.8" fill="#fff" stroke="#0a0a0a" stroke-width="0.7"/>
<rect x="1068.25" y="523.56" width="3.91" height="11.74" fill="#fff" stroke="none" stroke-width="0"  shape-rendering="crispEdges"/>
<line x1="1049.86" y1="519.65" x2="1049.86" y2="560.08" stroke="#0a0a0a" stroke-width="2.2" />
<line x1="972" y1="517.04" x2="972" y2="562.69" stroke="#0a0a0a" stroke-width="1.4" />
<rect x="1073.47" y="509.22" width="21.52" height="15.65" fill="#fff" stroke="none" stroke-width="0"  shape-rendering="crispEdges"/>
<rect x="1080.31" y="513.94" width="7.4" height="6.2" fill="#fff" stroke="#0a0a0a" stroke-width="1.3"  shape-rendering="crispEdges"/>
<rect x="1091.31" y="513.94" width="7.4" height="6.2" fill="#fff" stroke="#0a0a0a" stroke-width="1.3"  shape-rendering="crispEdges"/>
<rect x="1087.91" y="511.74" width="3.2" height="10.6" fill="#0a0a0a" stroke="none" stroke-width="0"  shape-rendering="crispEdges"/>
<rect x="1089.21" y="511.74" width="0.6" height="10.6" fill="#fff" stroke="none" stroke-width="0"  shape-rendering="crispEdges"/>
<path d="M1084.01 514.69 L1087.71 517.04 L1084.01 519.4 Z" fill="#0a0a0a" stroke="none" stroke-width="0" />
<path d="M1095.01 514.69 L1091.31 517.04 L1095.01 519.4 Z" fill="#0a0a0a" stroke="none" stroke-width="0" />
<rect x="1077.38" y="524.87" width="5.87" height="1.96" fill="#fff" stroke="none" stroke-width="0"  shape-rendering="crispEdges"/>
<circle cx="942.65" cy="538.82" r="1.3" fill="#fff" stroke="#0a0a0a" stroke-width="0"/>
<rect x="952.17" y="532.04" width="19.56" height="30.91" fill="#fff" stroke="none" stroke-width="0"  shape-rendering="crispEdges"/>
<rect x="955.49" y="536.66" width="5.9" height="12.94" fill="#0a0a0a" stroke="none" stroke-width="0"  shape-rendering="crispEdges"/>
<rect x="956.54" y="537.76" width="3.8" height="2.91" fill="#fff" stroke="none" stroke-width="0"  shape-rendering="crispEdges"/>
<rect x="956.54" y="541.67" width="3.8" height="2.91" fill="#fff" stroke="none" stroke-width="0"  shape-rendering="crispEdges"/>
<rect x="956.54" y="545.59" width="3.8" height="2.91" fill="#fff" stroke="none" stroke-width="0"  shape-rendering="crispEdges"/>
<circle cx="963.65" cy="542.22" r="2.19" fill="#fff" stroke="#0a0a0a" stroke-width="1.0"/>
<circle cx="963.02" cy="542.22" r="0.88" fill="#fff" stroke="#0a0a0a" stroke-width="0.7"/>
<circle cx="964.38" cy="541.59" r="0.75" fill="#fff" stroke="#0a0a0a" stroke-width="0.7"/>
<circle cx="964.38" cy="542.95" r="0.75" fill="#fff" stroke="#0a0a0a" stroke-width="0.7"/>
<rect x="958.04" y="554.35" width="11.09" height="1.04" fill="#0a0a0a" stroke="none" stroke-width="0"  shape-rendering="crispEdges"/>
<rect x="961.96" y="558.78" width="3.26" height="1.83" fill="#0a0a0a" stroke="none" stroke-width="0"  shape-rendering="crispEdges"/>
<rect x="954.13" y="532.04" width="17.61" height="2.22" fill="#0a0a0a" stroke="none" stroke-width="0"  shape-rendering="crispEdges"/>
<rect x="956.09" y="528.78" width="15.65" height="2.87" fill="#fff" stroke="none" stroke-width="0"  shape-rendering="crispEdges"/>
<rect x="937.17" y="550.95" width="16.04" height="13.7" fill="#fff" stroke="none" stroke-width="0"  shape-rendering="crispEdges"/>
<circle cx="945" cy="557.48" r="6.52" fill="#fff" stroke="#0a0a0a" stroke-width="1.3"/>
<circle cx="945" cy="557.48" r="4.7" fill="none" stroke="#0a0a0a" stroke-width="0.7"/>
<rect x="942.65" y="554.22" width="4.7" height="6.52" fill="#fff" stroke="#0a0a0a" stroke-width="1.3" rx="0.6" />
<rect x="951.52" y="543.13" width="1.96" height="7.83" fill="#fff" stroke="none" stroke-width="0"  shape-rendering="crispEdges"/>
<rect x="972.39" y="532.04" width="15.26" height="12.65" fill="#fff" stroke="none" stroke-width="0"  shape-rendering="crispEdges"/>
<circle cx="978.52" cy="538.96" r="6.26" fill="#fff" stroke="#0a0a0a" stroke-width="1.3"/>
<circle cx="978.52" cy="538.96" r="4.51" fill="none" stroke="#0a0a0a" stroke-width="0.7"/>
<rect x="976.27" y="535.82" width="4.51" height="6.26" fill="#fff" stroke="#0a0a0a" stroke-width="1.3" rx="0.6" />
<rect x="984.78" y="541.82" width="10.43" height="1.3" fill="#0a0a0a" stroke="none" stroke-width="0"  shape-rendering="crispEdges"/>
<rect x="972.39" y="547.04" width="11.74" height="15.26" fill="#fff" stroke="none" stroke-width="0"  shape-rendering="crispEdges"/>
<rect x="973.04" y="547.69" width="10.7" height="14.35" fill="#0a0a0a" stroke="none" stroke-width="0"  shape-rendering="crispEdges"/>
<rect x="974.09" y="549.91" width="2.3" height="1.9" fill="#fff" stroke="none" stroke-width="0"  shape-rendering="crispEdges"/>
<rect x="974.09" y="552.91" width="2.3" height="1.9" fill="#fff" stroke="none" stroke-width="0"  shape-rendering="crispEdges"/>
<rect x="974.09" y="555.91" width="2.3" height="1.9" fill="#fff" stroke="none" stroke-width="0"  shape-rendering="crispEdges"/>
<rect x="974.09" y="558.91" width="2.3" height="1.9" fill="#fff" stroke="none" stroke-width="0"  shape-rendering="crispEdges"/>
<rect x="977.35" y="549.91" width="2.3" height="1.9" fill="#fff" stroke="none" stroke-width="0"  shape-rendering="crispEdges"/>
<rect x="977.35" y="552.91" width="2.3" height="1.9" fill="#fff" stroke="none" stroke-width="0"  shape-rendering="crispEdges"/>
<rect x="977.35" y="555.91" width="2.3" height="1.9" fill="#fff" stroke="none" stroke-width="0"  shape-rendering="crispEdges"/>
<rect x="977.35" y="558.91" width="2.3" height="1.9" fill="#fff" stroke="none" stroke-width="0"  shape-rendering="crispEdges"/>
<rect x="980.61" y="549.91" width="2.3" height="1.9" fill="#fff" stroke="none" stroke-width="0"  shape-rendering="crispEdges"/>
<rect x="980.61" y="552.91" width="2.3" height="1.9" fill="#fff" stroke="none" stroke-width="0"  shape-rendering="crispEdges"/>
<rect x="980.61" y="555.91" width="2.3" height="1.9" fill="#fff" stroke="none" stroke-width="0"  shape-rendering="crispEdges"/>
<rect x="980.61" y="558.91" width="2.3" height="1.9" fill="#fff" stroke="none" stroke-width="0"  shape-rendering="crispEdges"/>
<rect x="975.65" y="548.35" width="5.87" height="1.04" fill="#fff" stroke="none" stroke-width="0"  shape-rendering="crispEdges"/>
<rect x="984.78" y="545.09" width="11.48" height="16.3" fill="#fff" stroke="none" stroke-width="0"  shape-rendering="crispEdges"/>
<circle cx="987.39" cy="558.13" r="2.2" fill="#fff" stroke="#0a0a0a" stroke-width="0.8"/>
<rect x="991.3" y="535.3" width="5.22" height="4.57" fill="#fff" stroke="none" stroke-width="0"  shape-rendering="crispEdges"/>
<rect x="991.95" y="536.35" width="1.96" height="2.61" fill="#0a0a0a" stroke="none" stroke-width="0"  shape-rendering="crispEdges"/>
<rect x="997.3" y="536.61" width="2.35" height="2.35" fill="#fff" stroke="none" stroke-width="0"  shape-rendering="crispEdges"/>
<rect x="997.3" y="541.82" width="2.35" height="2.35" fill="#fff" stroke="none" stroke-width="0"  shape-rendering="crispEdges"/>
<rect x="997.3" y="547.04" width="2.35" height="2.35" fill="#fff" stroke="none" stroke-width="0"  shape-rendering="crispEdges"/>
<rect x="997.3" y="552.26" width="2.35" height="2.35" fill="#fff" stroke="none" stroke-width="0"  shape-rendering="crispEdges"/>
<rect x="997.3" y="557.48" width="2.35" height="2.35" fill="#fff" stroke="none" stroke-width="0"  shape-rendering="crispEdges"/>
<rect x="1001.74" y="546" width="14.61" height="15.13" fill="#fff" stroke="#0a0a0a" stroke-width="0.9"  shape-rendering="crispEdges"/>
<line x1="1001.74" y1="546" x2="1016.34" y2="561.13" stroke="#0a0a0a" stroke-width="0.9" />
<line x1="1001.74" y1="561.13" x2="1016.34" y2="546" stroke="#0a0a0a" stroke-width="0.9" />
<rect x="1001.08" y="539.22" width="6.13" height="4.7" fill="#fff" stroke="none" stroke-width="0"  shape-rendering="crispEdges"/>
<rect x="1010.87" y="539.22" width="6.13" height="4.7" fill="#fff" stroke="none" stroke-width="0"  shape-rendering="crispEdges"/>
<rect x="1002.39" y="530.74" width="5.87" height="4.57" fill="#fff" stroke="none" stroke-width="0"  shape-rendering="crispEdges"/>
<rect x="1013.47" y="532.04" width="7.83" height="2.61" fill="#fff" stroke="none" stroke-width="0"  shape-rendering="crispEdges"/>
<rect x="1021.3" y="536.61" width="7.83" height="5.22" fill="#fff" stroke="none" stroke-width="0"  shape-rendering="crispEdges"/>
<path d="M1021.3 541.82 L1029.13 541.82 L1029.13 536.61 Z" fill="#0a0a0a" stroke="none" stroke-width="0" />
<rect x="1018.69" y="546.65" width="12.39" height="14.74" fill="#fff" stroke="none" stroke-width="0"  shape-rendering="crispEdges"/>
<rect x="1022.87" y="551.22" width="7.3" height="6.78" fill="#fff" stroke="#0a0a0a" stroke-width="1.1"  shape-rendering="crispEdges"/>
<rect x="1024.95" y="552.91" width="3.13" height="1.3" fill="#0a0a0a" stroke="none" stroke-width="0"  shape-rendering="crispEdges"/>
<rect x="1033.3" y="538.17" width="2.61" height="2.35" fill="#fff" stroke="none" stroke-width="0"  shape-rendering="crispEdges"/>
<rect x="1033.3" y="543.13" width="2.61" height="2.35" fill="#fff" stroke="none" stroke-width="0"  shape-rendering="crispEdges"/>
<rect x="1033.3" y="548.35" width="2.61" height="2.35" fill="#fff" stroke="none" stroke-width="0"  shape-rendering="crispEdges"/>
<rect x="1033.3" y="553.3" width="2.61" height="2.35" fill="#fff" stroke="none" stroke-width="0"  shape-rendering="crispEdges"/>
<rect x="1033.3" y="558.13" width="2.61" height="2.35" fill="#fff" stroke="none" stroke-width="0"  shape-rendering="crispEdges"/>
<rect x="1037.21" y="520.3" width="11.74" height="36.13" fill="#fff" stroke="none" stroke-width="0"  shape-rendering="crispEdges"/>
<rect x="1044.18" y="520.36" width="4.59" height="12.29" fill="#0a0a0a" stroke="none" stroke-width="0"  shape-rendering="crispEdges"/>
<rect x="1045.23" y="521.46" width="2.49" height="2.7" fill="#fff" stroke="none" stroke-width="0"  shape-rendering="crispEdges"/>
<rect x="1045.23" y="525.15" width="2.49" height="2.7" fill="#fff" stroke="none" stroke-width="0"  shape-rendering="crispEdges"/>
<rect x="1045.23" y="528.85" width="2.49" height="2.7" fill="#fff" stroke="none" stroke-width="0"  shape-rendering="crispEdges"/>
<circle cx="1041.52" cy="526.17" r="2.33" fill="#fff" stroke="#0a0a0a" stroke-width="1.0"/>
<circle cx="1040.85" cy="526.17" r="0.93" fill="#fff" stroke="#0a0a0a" stroke-width="0.7"/>
<circle cx="1042.29" cy="525.51" r="0.8" fill="#fff" stroke="#0a0a0a" stroke-width="0.7"/>
<circle cx="1042.29" cy="526.95" r="0.8" fill="#fff" stroke="#0a0a0a" stroke-width="0.7"/>
<circle cx="1042.69" cy="546" r="6.52" fill="#fff" stroke="#0a0a0a" stroke-width="1.3"/>
<circle cx="1042.69" cy="546" r="4.7" fill="none" stroke="#0a0a0a" stroke-width="0.7"/>
<rect x="1040.34" y="542.74" width="4.7" height="6.52" fill="#fff" stroke="#0a0a0a" stroke-width="1.3" rx="0.6" />
<rect x="1040.21" y="535.96" width="7.83" height="0.78" fill="#0a0a0a" stroke="none" stroke-width="0"  shape-rendering="crispEdges"/>
<rect x="1051.3" y="520.3" width="19.3" height="39.13" fill="#fff" stroke="none" stroke-width="0"  shape-rendering="crispEdges"/>
<rect x="1052" y="522.96" width="4.2" height="12.94" fill="#0a0a0a" stroke="none" stroke-width="0"  shape-rendering="crispEdges"/>
<rect x="1053.05" y="524.06" width="2.1" height="2.91" fill="#fff" stroke="none" stroke-width="0"  shape-rendering="crispEdges"/>
<rect x="1053.05" y="527.98" width="2.1" height="2.91" fill="#fff" stroke="none" stroke-width="0"  shape-rendering="crispEdges"/>
<rect x="1053.05" y="531.89" width="2.1" height="2.91" fill="#fff" stroke="none" stroke-width="0"  shape-rendering="crispEdges"/>
<circle cx="1059.12" cy="529.43" r="2.33" fill="#fff" stroke="#0a0a0a" stroke-width="1.0"/>
<circle cx="1058.46" cy="529.43" r="0.93" fill="#fff" stroke="#0a0a0a" stroke-width="0.7"/>
<circle cx="1059.9" cy="528.77" r="0.8" fill="#fff" stroke="#0a0a0a" stroke-width="0.7"/>
<circle cx="1059.9" cy="530.21" r="0.8" fill="#fff" stroke="#0a0a0a" stroke-width="0.7"/>
<circle cx="1058.99" cy="548.09" r="6.65" fill="#fff" stroke="#0a0a0a" stroke-width="1.3"/>
<circle cx="1058.99" cy="548.09" r="4.79" fill="none" stroke="#0a0a0a" stroke-width="0.7"/>
<rect x="1056.6" y="544.76" width="4.79" height="6.65" fill="#fff" stroke="#0a0a0a" stroke-width="1.3" rx="0.6" />
<rect x="1056.52" y="538.69" width="10.3" height="0.78" fill="#0a0a0a" stroke="none" stroke-width="0"  shape-rendering="crispEdges"/>
<rect x="1044.78" y="554.22" width="7.17" height="8.48" fill="#fff" stroke="none" stroke-width="0"  shape-rendering="crispEdges"/>
<circle cx="1048.04" cy="558.78" r="3.5" fill="#fff" stroke="#0a0a0a" stroke-width="0.8"/>
<rect x="1073.99" y="523.69" width="21" height="17.48" fill="#fff" stroke="none" stroke-width="0"  shape-rendering="crispEdges"/>
<rect x="1077.12" y="524.87" width="17.87" height="4.43" fill="#0a0a0a" stroke="none" stroke-width="0"  shape-rendering="crispEdges"/>
<rect x="1088.21" y="523.69" width="2.61" height="17.48" fill="#0a0a0a" stroke="none" stroke-width="0"  shape-rendering="crispEdges"/>
<rect x="1078.09" y="533.66" width="9.81" height="5.11" fill="#0a0a0a" stroke="none" stroke-width="0"  shape-rendering="crispEdges"/>
<rect x="1079.19" y="534.71" width="3.3" height="3.01" fill="#fff" stroke="none" stroke-width="0"  shape-rendering="crispEdges"/>
<rect x="1083.49" y="534.71" width="3.3" height="3.01" fill="#fff" stroke="none" stroke-width="0"  shape-rendering="crispEdges"/>
<rect x="1074.78" y="530.09" width="1.57" height="6.52" fill="#0a0a0a" stroke="none" stroke-width="0"  shape-rendering="crispEdges"/>
<rect x="1079.99" y="530.74" width="6.52" height="0.91" fill="#0a0a0a" stroke="none" stroke-width="0"  shape-rendering="crispEdges"/>
<rect x="1073.99" y="541.17" width="21" height="15" fill="#fff" stroke="none" stroke-width="0"  shape-rendering="crispEdges"/>
<rect x="1078.69" y="542.74" width="16.3" height="11.87" fill="none" stroke="#0a0a0a" stroke-width="1.2"  shape-rendering="crispEdges"/>
<path d="M1087.17 543.78 L1079.99 548.61 L1087.17 553.56 Z" fill="#0a0a0a" stroke="none" stroke-width="0" />
<line x1="1079.99" y1="548.61" x2="1074.78" y2="548.61" stroke="#0a0a0a" stroke-width="1"  shape-rendering="crispEdges"/>
<rect x="1088.21" y="541.17" width="2.61" height="15" fill="#0a0a0a" stroke="none" stroke-width="0"  shape-rendering="crispEdges"/>
<rect x="973.04" y="562.95" width="76.3" height="5.22" fill="#fff" stroke="none" stroke-width="0"  shape-rendering="crispEdges"/>
<rect x="976.3" y="567.26" width="11.74" height="0.91" fill="#0a0a0a" stroke="none" stroke-width="0"  shape-rendering="crispEdges"/>
<rect x="989.35" y="568.43" width="56.74" height="1.57" fill="#fff" stroke="none" stroke-width="0"  shape-rendering="crispEdges"/>
<rect x="1008.26" y="568.17" width="5.22" height="1.83" fill="#0a0a0a" stroke="none" stroke-width="0"  shape-rendering="crispEdges"/>
<rect x="1033.04" y="568.17" width="5.22" height="1.83" fill="#0a0a0a" stroke="none" stroke-width="0"  shape-rendering="crispEdges"/>
<rect x="937.17" y="566.08" width="2.61" height="2.35" fill="#fff" stroke="none" stroke-width="0"  shape-rendering="crispEdges"/>
<rect x="942.13" y="566.08" width="2.61" height="2.35" fill="#fff" stroke="none" stroke-width="0"  shape-rendering="crispEdges"/>
<rect x="947.09" y="566.08" width="2.61" height="2.35" fill="#fff" stroke="none" stroke-width="0"  shape-rendering="crispEdges"/>
<rect x="952.04" y="566.08" width="2.61" height="2.35" fill="#fff" stroke="none" stroke-width="0"  shape-rendering="crispEdges"/>
<rect x="957" y="566.08" width="2.61" height="2.35" fill="#fff" stroke="none" stroke-width="0"  shape-rendering="crispEdges"/>
<rect x="961.96" y="566.08" width="2.61" height="2.35" fill="#fff" stroke="none" stroke-width="0"  shape-rendering="crispEdges"/>
<rect x="966.91" y="566.08" width="2.61" height="2.35" fill="#fff" stroke="none" stroke-width="0"  shape-rendering="crispEdges"/>
<rect x="1057.17" y="562.17" width="2.61" height="2.35" fill="#fff" stroke="none" stroke-width="0"  shape-rendering="crispEdges"/>
<rect x="1057.95" y="566.35" width="2.35" height="2.09" fill="#888" stroke="none" stroke-width="0"  shape-rendering="crispEdges"/>
<rect x="1061.86" y="562.17" width="2.61" height="2.35" fill="#fff" stroke="none" stroke-width="0"  shape-rendering="crispEdges"/>
<rect x="1062.65" y="566.35" width="2.35" height="2.09" fill="#fff" stroke="none" stroke-width="0"  shape-rendering="crispEdges"/>
<rect x="1066.56" y="562.17" width="2.61" height="2.35" fill="#fff" stroke="none" stroke-width="0"  shape-rendering="crispEdges"/>
<rect x="1067.34" y="566.35" width="2.35" height="2.09" fill="#888" stroke="none" stroke-width="0"  shape-rendering="crispEdges"/>
<rect x="1071.25" y="562.17" width="2.61" height="2.35" fill="#fff" stroke="none" stroke-width="0"  shape-rendering="crispEdges"/>
<rect x="1072.04" y="566.35" width="2.35" height="2.09" fill="#fff" stroke="none" stroke-width="0"  shape-rendering="crispEdges"/>
<rect x="1075.95" y="562.17" width="2.61" height="2.35" fill="#fff" stroke="none" stroke-width="0"  shape-rendering="crispEdges"/>
<rect x="1076.73" y="566.35" width="2.35" height="2.09" fill="#888" stroke="none" stroke-width="0"  shape-rendering="crispEdges"/>
<rect x="1082.34" y="559.04" width="14.35" height="14.09" fill="#fff" stroke="#0a0a0a" stroke-width="0.9"  shape-rendering="crispEdges"/>
<line x1="1082.34" y1="559.04" x2="1096.69" y2="573.13" stroke="#0a0a0a" stroke-width="0.9" />
<line x1="1082.34" y1="573.13" x2="1096.69" y2="559.04" stroke="#0a0a0a" stroke-width="0.9" /></g>
<rect x="1238" y="520" width="12" height="80" fill="#fff" stroke="none" stroke-width="0"  shape-rendering="crispEdges"/>
<path d="M1232.5 507 L1250 507 L1250 600 L1244 597.8 L1236 540 Z" fill="#fff" stroke="none" stroke-width="0" />
</g>
<g clip-path="url(#cpL)">
<rect x="932.87" y="573.37" width="25.79" height="50.62" fill="#0a0a0a" stroke="none" stroke-width="0"  shape-rendering="crispEdges"/>
<rect x="935.25" y="575.09" width="23.4" height="22.64" fill="#efeeb4" stroke="none" stroke-width="0"  shape-rendering="crispEdges"/>
<rect x="939.55" y="581.49" width="2.67" height="15.28" fill="#0a0a0a" stroke="none" stroke-width="0"  shape-rendering="crispEdges"/>
<rect x="934.58" y="582.45" width="4.97" height="12.89" fill="#e9b9a8" stroke="none" stroke-width="0"  shape-rendering="crispEdges"/>
<rect x="935.73" y="586.27" width="3.06" height="2.39" fill="#5a3a3a" stroke="none" stroke-width="0"  shape-rendering="crispEdges"/>
<rect x="943.73" y="581.37" width="12.28" height="4.64" fill="#0a0a0a" stroke="none" stroke-width="0"  shape-rendering="crispEdges"/>
<rect x="944.83" y="582.42" width="2.69" height="2.54" fill="#fff" stroke="none" stroke-width="0"  shape-rendering="crispEdges"/>
<rect x="948.52" y="582.42" width="2.69" height="2.54" fill="#fff" stroke="none" stroke-width="0"  shape-rendering="crispEdges"/>
<rect x="952.21" y="582.42" width="2.69" height="2.54" fill="#fff" stroke="none" stroke-width="0"  shape-rendering="crispEdges"/>
<circle cx="950.25" cy="590.37" r="2.6" fill="#efeeb4" stroke="#0a0a0a" stroke-width="1"/>
<line x1="950.25" y1="588.37" x2="950.25" y2="592.37" stroke="#0a0a0a" stroke-width="0.7"  shape-rendering="crispEdges"/>
<rect x="944.33" y="595.15" width="10.7" height="1.72" fill="#0a0a0a" stroke="none" stroke-width="0"  shape-rendering="crispEdges"/>
<rect x="947.67" y="576.05" width="10.51" height="1.53" fill="#55552a" stroke="none" stroke-width="0"  shape-rendering="crispEdges"/>
<rect x="935.25" y="598.2" width="18.62" height="11.46" fill="#efeeb4" stroke="none" stroke-width="0"  shape-rendering="crispEdges"/>
<path d="M939.55 607.28 L939.55 602.5 L943.37 599.35 L947.38 602.5 L947.38 607.28 Z" fill="#fff" stroke="#0a0a0a" stroke-width="1.3" />
<rect x="937.16" y="598.01" width="12.42" height="1.15" fill="#0a0a0a" stroke="none" stroke-width="0"  shape-rendering="crispEdges"/>
<rect x="948.15" y="604.13" width="4.01" height="1.53" fill="#0a0a0a" stroke="none" stroke-width="0"  shape-rendering="crispEdges"/>
<path d="M931.91 607.76 L949.1 624.95 L931.91 624.95 Z" fill="#fff" stroke="none" stroke-width="0" />
<rect x="954.07" y="613.01" width="2.87" height="8.12" fill="#fff" stroke="none" stroke-width="0"  shape-rendering="crispEdges"/>
<rect x="945.28" y="614.44" width="5.25" height="2.87" fill="#fff" stroke="none" stroke-width="0"  shape-rendering="crispEdges"/>
<rect x="946.71" y="615.21" width="2.87" height="1.34" fill="#0a0a0a" stroke="none" stroke-width="0"  shape-rendering="crispEdges"/>
</g>
<path d="M935.9 508.2 L1232.5 508.2" fill="none" stroke="#0a0a0a" stroke-width="1.6" />
<path d="M935.9 508.2 L935.6 612.5 L947.8 623.2 L1207 623.2" fill="none" stroke="#0a0a0a" stroke-width="1.3" />
<path d="M1232.5 508.2 L1236 540 L1244 597.8 L1241 606 L1231.7 618 L1207 618" fill="none" stroke="#0a0a0a" stroke-width="1.6" />
<rect x="941.74" y="503" width="8" height="5.2" fill="#0a0a0a" stroke="none" stroke-width="0"  shape-rendering="crispEdges"/>
<rect x="944.24" y="504" width="1.5" height="2" fill="#fff" stroke="none" stroke-width="0"  shape-rendering="crispEdges"/>
<line x1="951" y1="628" x2="1005.7" y2="628" stroke="#0a0a0a" stroke-width="0.8"  shape-rendering="crispEdges"/>
<line x1="951" y1="633" x2="1005.7" y2="633" stroke="#0a0a0a" stroke-width="0.8"  shape-rendering="crispEdges"/>
<line x1="951" y1="638.6" x2="1005.7" y2="638.6" stroke="#0a0a0a" stroke-width="0.8"  shape-rendering="crispEdges"/>
<text x="958.5" y="632.2" font-size="4.6" font-family="&quot;Liberation Sans&quot;, sans-serif" font-weight="bold" text-anchor="start" fill="#111" textLength="41" lengthAdjust="spacingAndGlyphs"  stroke="#111" stroke-width="0.45">PLANTA PRIMERA</text>
<text x="957" y="637.6" font-size="4.2" font-family="&quot;Liberation Sans&quot;, sans-serif" font-weight="bold" text-anchor="start" fill="#111" textLength="43" lengthAdjust="spacingAndGlyphs"  stroke="#111" stroke-width="0.45">SUP. CONST.: 1.481,72 m2</text>
<circle cx="1020.4" cy="630.9" r="6.3" fill="#fff" stroke="#0a0a0a" stroke-width="1.3"/>
<line x1="1015.5" y1="634.5" x2="1025" y2="627.5" stroke="#b59a4a" stroke-width="0.8" />
<line x1="1016" y1="632" x2="1024" y2="629" stroke="#555" stroke-width="0.6" />
<line x1="1013" y1="640.5" x2="1028" y2="640.5" stroke="#777" stroke-width="0.8"  shape-rendering="crispEdges"/>
<rect x="1031" y="625.5" width="9" height="12.2" fill="#fff" stroke="#bbb" stroke-width="0.6"  shape-rendering="crispEdges"/>
<line x1="1036" y1="631" x2="1039" y2="631" stroke="#0a0a0a" stroke-width="1"  shape-rendering="crispEdges"/>
</svg>
</body></html>
